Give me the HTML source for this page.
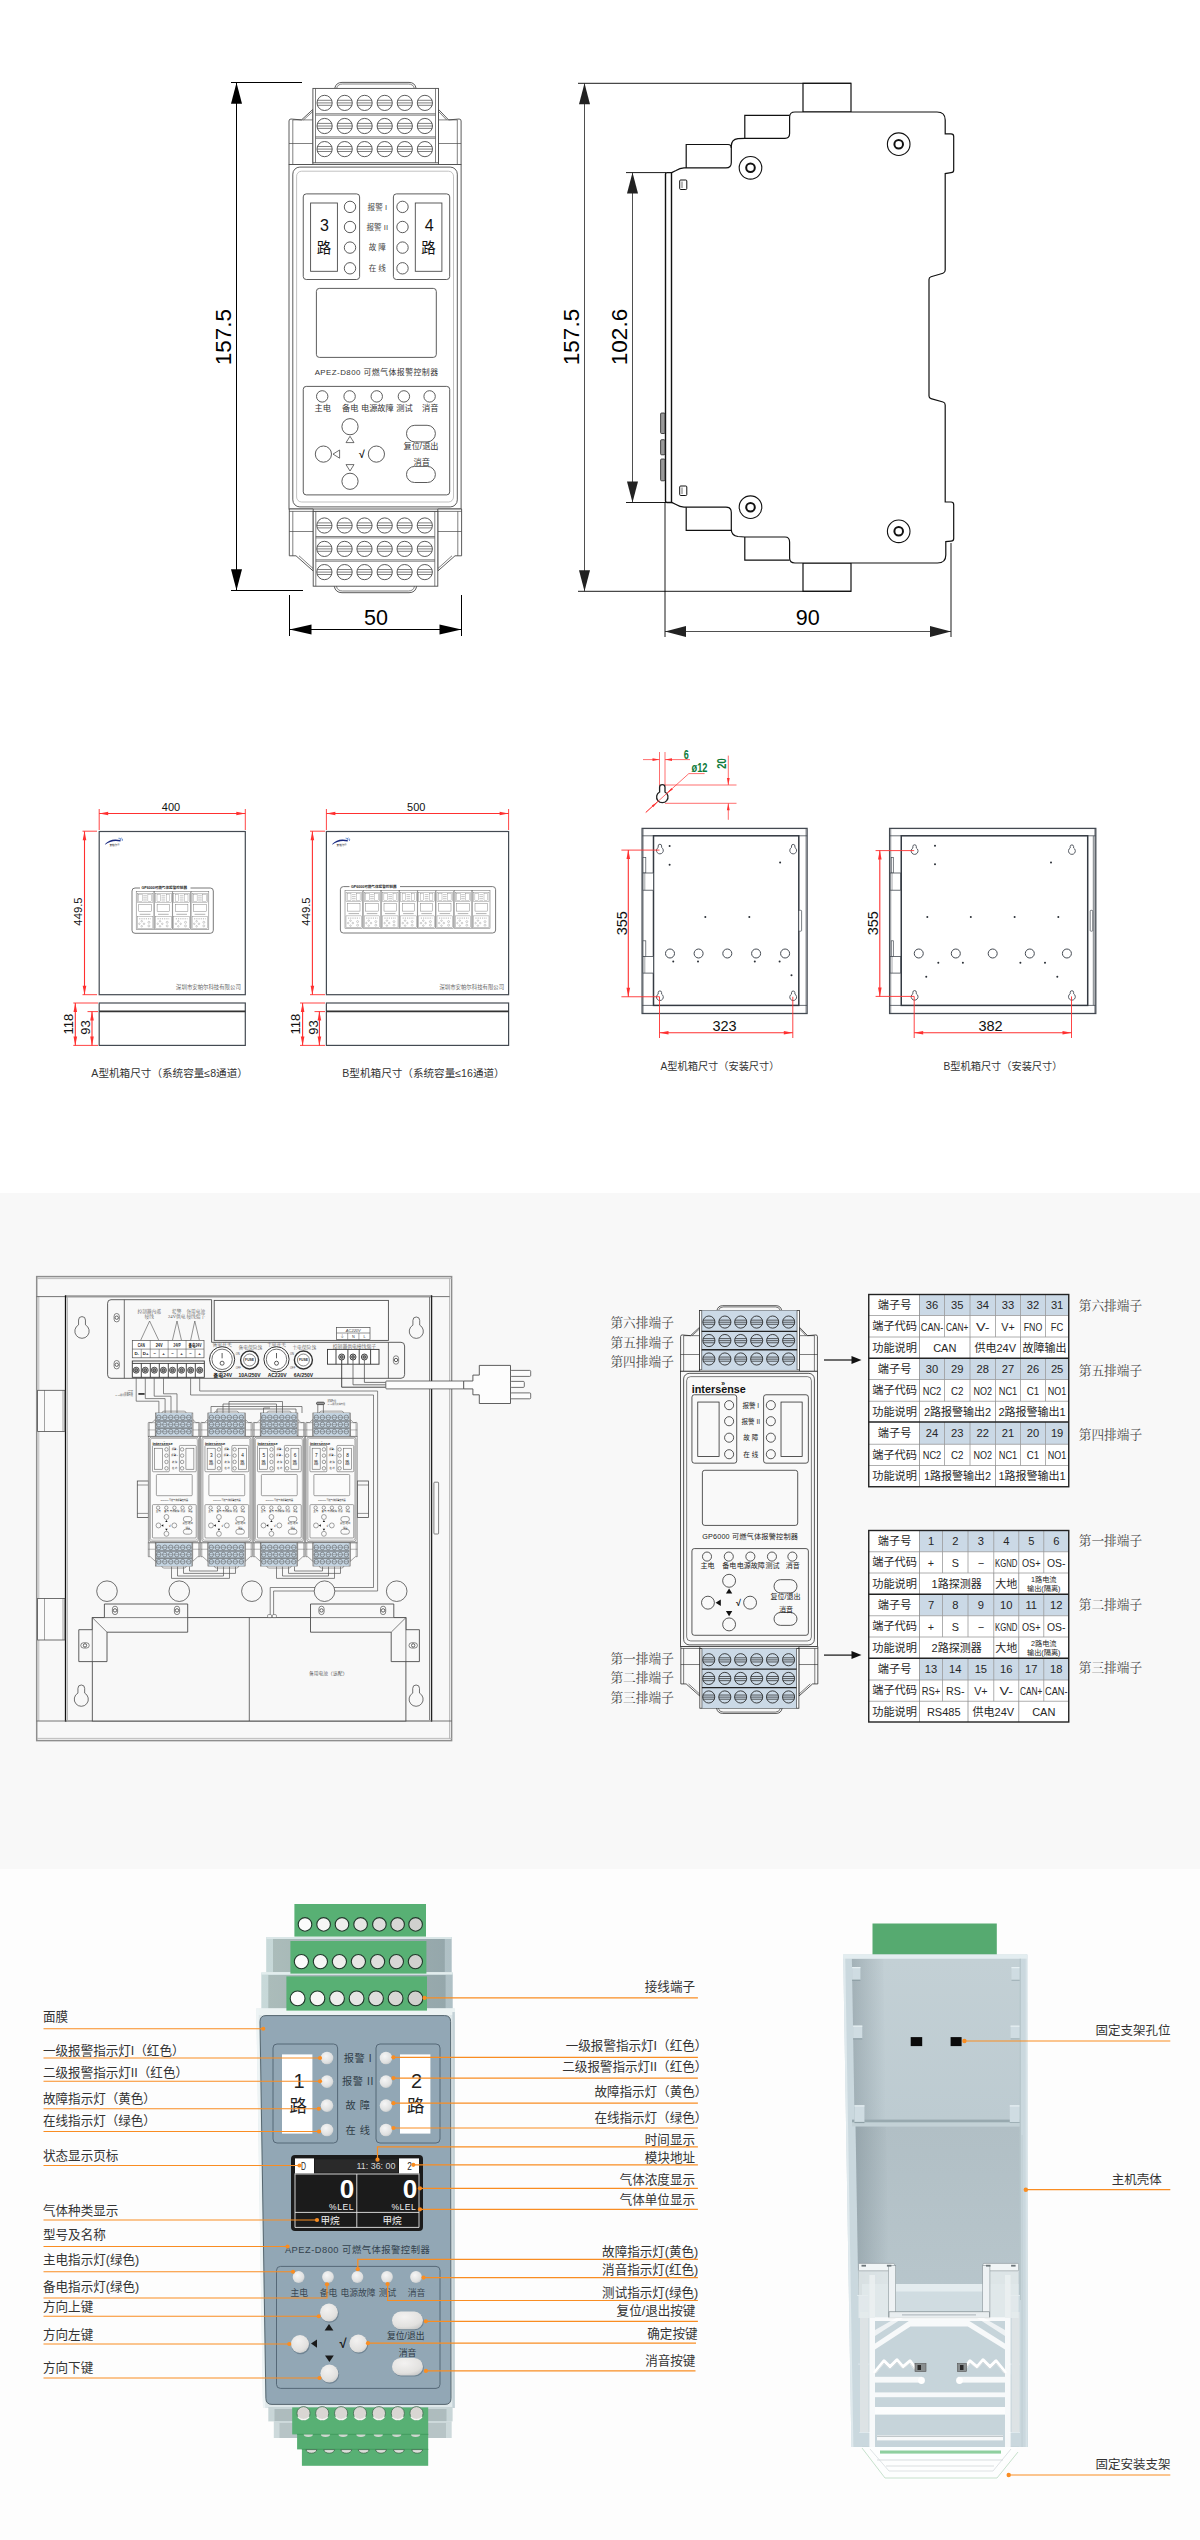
<!DOCTYPE html>
<html lang="zh-CN"><head><meta charset="utf-8"><title>APEZ-D800 可燃气体报警控制器</title>
<style>
html,body{margin:0;padding:0;background:#fff;}
body{width:1200px;height:2540px;position:relative;overflow:hidden;font-family:"Liberation Sans","Noto Sans CJK SC",sans-serif;}
.band{position:absolute;left:0;top:1193px;width:1200px;height:676px;background:#f8f8f8;}
.bot{position:absolute;left:0;top:1869px;width:1200px;height:671px;background:#fdfdfd;}
svg{position:absolute;left:0;top:0;font-family:"Liberation Sans","Noto Sans CJK SC",sans-serif;}
</style></head><body>
<div class="band"></div><div class="bot"></div>
<svg width="1200" height="2540" viewBox="0 0 1200 2540">
<!-- s1 -->
<g><line x1="231" y1="82.5" x2="302" y2="82.5" stroke="#000" stroke-width="1" /><line x1="231" y1="590.5" x2="303" y2="590.5" stroke="#000" stroke-width="1" /><line x1="236.5" y1="82.7" x2="236.5" y2="590.3" stroke="#000" stroke-width="1" /><polygon points="236.5,82.7 231,103.7 242,103.7" fill="#000" /><polygon points="236.5,590.3 231,569.3 242,569.3" fill="#000" /><text x="231.2" y="337" font-size="22.5" fill="#000" text-anchor="middle" transform="rotate(-90 231.2 337)" >157.5</text><line x1="289.5" y1="595" x2="289.5" y2="636" stroke="#000" stroke-width="1" /><line x1="461.5" y1="595" x2="461.5" y2="636" stroke="#000" stroke-width="1" /><line x1="289.5" y1="629.5" x2="461.5" y2="629.5" stroke="#000" stroke-width="1" /><polygon points="289.5,629.5 311.5,624.5 311.5,634.5" fill="#000" /><polygon points="461.5,629.5 439.5,624.5 439.5,634.5" fill="#000" /><text x="376" y="625" font-size="21.5" fill="#000" text-anchor="middle" >50</text><path d="M334.7 88.4 Q336 82.4 342 82.4 L409 82.4 Q415 82.4 416.1 88.4" fill="none" stroke="#4a4a4a" stroke-width="0.9" /><path d="M336.6 88.4 Q337.6 84 342.5 84 L408.5 84 Q413.3 84 414.3 88.4" fill="none" stroke="#4a4a4a" stroke-width="0.7" /><path d="M289 164.5 L289 121 Q289 119 291 119 L301.5 119.9 L312.9 109.4 L312.9 164.5 Z" fill="#fff" stroke="#4a4a4a" stroke-width="0.9" /><path d="M461.1 164.5 L461.1 121 Q461.1 119 459.1 119 L448.6 119.9 L438.5 109.4 L438.5 164.5 Z" fill="#fff" stroke="#4a4a4a" stroke-width="0.9" /><line x1="292.8" y1="119.9" x2="292.8" y2="164.5" stroke="#4a4a4a" stroke-width="0.7" /><line x1="457.3" y1="119.9" x2="457.3" y2="164.5" stroke="#4a4a4a" stroke-width="0.7" /><line x1="292.8" y1="119.9" x2="312.9" y2="119.9" stroke="#4a4a4a" stroke-width="0.7" /><line x1="438.5" y1="119.9" x2="457.3" y2="119.9" stroke="#4a4a4a" stroke-width="0.7" /><line x1="303.5" y1="119.9" x2="312.9" y2="111.4" stroke="#4a4a4a" stroke-width="0.7" /><line x1="446.6" y1="119.9" x2="438.5" y2="111.4" stroke="#4a4a4a" stroke-width="0.7" /><line x1="289" y1="143.5" x2="312.9" y2="143.5" stroke="#4a4a4a" stroke-width="0.7" /><line x1="438.5" y1="143.5" x2="461.1" y2="143.5" stroke="#4a4a4a" stroke-width="0.7" /><rect x="312.9" y="88.4" width="125.6" height="74.4" fill="#fff" stroke="#4a4a4a" stroke-width="0.9" /><line x1="315.5" y1="88.4" x2="315.5" y2="162.8" stroke="#4a4a4a" stroke-width="0.7" /><line x1="435.5" y1="88.4" x2="435.5" y2="162.8" stroke="#4a4a4a" stroke-width="0.7" /><circle cx="324.6" cy="102.9" r="7.6" fill="none" stroke="#4a4a4a" stroke-width="0.9" /><line x1="317.46" y1="100.3" x2="331.74" y2="100.3" stroke="#4a4a4a" stroke-width="0.7" /><line x1="317" y1="102.9" x2="332.2" y2="102.9" stroke="#4a4a4a" stroke-width="0.7" /><line x1="317.39" y1="105.3" x2="331.81" y2="105.3" stroke="#4a4a4a" stroke-width="0.7" /><circle cx="344.7" cy="102.9" r="7.6" fill="none" stroke="#4a4a4a" stroke-width="0.9" /><line x1="337.56" y1="100.3" x2="351.84" y2="100.3" stroke="#4a4a4a" stroke-width="0.7" /><line x1="337.1" y1="102.9" x2="352.3" y2="102.9" stroke="#4a4a4a" stroke-width="0.7" /><line x1="337.49" y1="105.3" x2="351.91" y2="105.3" stroke="#4a4a4a" stroke-width="0.7" /><circle cx="364.6" cy="102.9" r="7.6" fill="none" stroke="#4a4a4a" stroke-width="0.9" /><line x1="357.46" y1="100.3" x2="371.74" y2="100.3" stroke="#4a4a4a" stroke-width="0.7" /><line x1="357" y1="102.9" x2="372.2" y2="102.9" stroke="#4a4a4a" stroke-width="0.7" /><line x1="357.39" y1="105.3" x2="371.81" y2="105.3" stroke="#4a4a4a" stroke-width="0.7" /><circle cx="384.7" cy="102.9" r="7.6" fill="none" stroke="#4a4a4a" stroke-width="0.9" /><line x1="377.56" y1="100.3" x2="391.84" y2="100.3" stroke="#4a4a4a" stroke-width="0.7" /><line x1="377.1" y1="102.9" x2="392.3" y2="102.9" stroke="#4a4a4a" stroke-width="0.7" /><line x1="377.49" y1="105.3" x2="391.91" y2="105.3" stroke="#4a4a4a" stroke-width="0.7" /><circle cx="404.8" cy="102.9" r="7.6" fill="none" stroke="#4a4a4a" stroke-width="0.9" /><line x1="397.66" y1="100.3" x2="411.94" y2="100.3" stroke="#4a4a4a" stroke-width="0.7" /><line x1="397.2" y1="102.9" x2="412.4" y2="102.9" stroke="#4a4a4a" stroke-width="0.7" /><line x1="397.59" y1="105.3" x2="412.01" y2="105.3" stroke="#4a4a4a" stroke-width="0.7" /><circle cx="424.9" cy="102.9" r="7.6" fill="none" stroke="#4a4a4a" stroke-width="0.9" /><line x1="417.76" y1="100.3" x2="432.04" y2="100.3" stroke="#4a4a4a" stroke-width="0.7" /><line x1="417.3" y1="102.9" x2="432.5" y2="102.9" stroke="#4a4a4a" stroke-width="0.7" /><line x1="417.69" y1="105.3" x2="432.11" y2="105.3" stroke="#4a4a4a" stroke-width="0.7" /><line x1="315.5" y1="113.75" x2="435.5" y2="113.75" stroke="#4a4a4a" stroke-width="0.7" /><line x1="315.5" y1="115.15" x2="435.5" y2="115.15" stroke="#4a4a4a" stroke-width="0.7" /><circle cx="324.6" cy="126" r="7.6" fill="none" stroke="#4a4a4a" stroke-width="0.9" /><line x1="317.46" y1="123.4" x2="331.74" y2="123.4" stroke="#4a4a4a" stroke-width="0.7" /><line x1="317" y1="126" x2="332.2" y2="126" stroke="#4a4a4a" stroke-width="0.7" /><line x1="317.39" y1="128.4" x2="331.81" y2="128.4" stroke="#4a4a4a" stroke-width="0.7" /><circle cx="344.7" cy="126" r="7.6" fill="none" stroke="#4a4a4a" stroke-width="0.9" /><line x1="337.56" y1="123.4" x2="351.84" y2="123.4" stroke="#4a4a4a" stroke-width="0.7" /><line x1="337.1" y1="126" x2="352.3" y2="126" stroke="#4a4a4a" stroke-width="0.7" /><line x1="337.49" y1="128.4" x2="351.91" y2="128.4" stroke="#4a4a4a" stroke-width="0.7" /><circle cx="364.6" cy="126" r="7.6" fill="none" stroke="#4a4a4a" stroke-width="0.9" /><line x1="357.46" y1="123.4" x2="371.74" y2="123.4" stroke="#4a4a4a" stroke-width="0.7" /><line x1="357" y1="126" x2="372.2" y2="126" stroke="#4a4a4a" stroke-width="0.7" /><line x1="357.39" y1="128.4" x2="371.81" y2="128.4" stroke="#4a4a4a" stroke-width="0.7" /><circle cx="384.7" cy="126" r="7.6" fill="none" stroke="#4a4a4a" stroke-width="0.9" /><line x1="377.56" y1="123.4" x2="391.84" y2="123.4" stroke="#4a4a4a" stroke-width="0.7" /><line x1="377.1" y1="126" x2="392.3" y2="126" stroke="#4a4a4a" stroke-width="0.7" /><line x1="377.49" y1="128.4" x2="391.91" y2="128.4" stroke="#4a4a4a" stroke-width="0.7" /><circle cx="404.8" cy="126" r="7.6" fill="none" stroke="#4a4a4a" stroke-width="0.9" /><line x1="397.66" y1="123.4" x2="411.94" y2="123.4" stroke="#4a4a4a" stroke-width="0.7" /><line x1="397.2" y1="126" x2="412.4" y2="126" stroke="#4a4a4a" stroke-width="0.7" /><line x1="397.59" y1="128.4" x2="412.01" y2="128.4" stroke="#4a4a4a" stroke-width="0.7" /><circle cx="424.9" cy="126" r="7.6" fill="none" stroke="#4a4a4a" stroke-width="0.9" /><line x1="417.76" y1="123.4" x2="432.04" y2="123.4" stroke="#4a4a4a" stroke-width="0.7" /><line x1="417.3" y1="126" x2="432.5" y2="126" stroke="#4a4a4a" stroke-width="0.7" /><line x1="417.69" y1="128.4" x2="432.11" y2="128.4" stroke="#4a4a4a" stroke-width="0.7" /><line x1="315.5" y1="136.85" x2="435.5" y2="136.85" stroke="#4a4a4a" stroke-width="0.7" /><line x1="315.5" y1="138.25" x2="435.5" y2="138.25" stroke="#4a4a4a" stroke-width="0.7" /><circle cx="324.6" cy="149.1" r="7.6" fill="none" stroke="#4a4a4a" stroke-width="0.9" /><line x1="317.46" y1="146.5" x2="331.74" y2="146.5" stroke="#4a4a4a" stroke-width="0.7" /><line x1="317" y1="149.1" x2="332.2" y2="149.1" stroke="#4a4a4a" stroke-width="0.7" /><line x1="317.39" y1="151.5" x2="331.81" y2="151.5" stroke="#4a4a4a" stroke-width="0.7" /><circle cx="344.7" cy="149.1" r="7.6" fill="none" stroke="#4a4a4a" stroke-width="0.9" /><line x1="337.56" y1="146.5" x2="351.84" y2="146.5" stroke="#4a4a4a" stroke-width="0.7" /><line x1="337.1" y1="149.1" x2="352.3" y2="149.1" stroke="#4a4a4a" stroke-width="0.7" /><line x1="337.49" y1="151.5" x2="351.91" y2="151.5" stroke="#4a4a4a" stroke-width="0.7" /><circle cx="364.6" cy="149.1" r="7.6" fill="none" stroke="#4a4a4a" stroke-width="0.9" /><line x1="357.46" y1="146.5" x2="371.74" y2="146.5" stroke="#4a4a4a" stroke-width="0.7" /><line x1="357" y1="149.1" x2="372.2" y2="149.1" stroke="#4a4a4a" stroke-width="0.7" /><line x1="357.39" y1="151.5" x2="371.81" y2="151.5" stroke="#4a4a4a" stroke-width="0.7" /><circle cx="384.7" cy="149.1" r="7.6" fill="none" stroke="#4a4a4a" stroke-width="0.9" /><line x1="377.56" y1="146.5" x2="391.84" y2="146.5" stroke="#4a4a4a" stroke-width="0.7" /><line x1="377.1" y1="149.1" x2="392.3" y2="149.1" stroke="#4a4a4a" stroke-width="0.7" /><line x1="377.49" y1="151.5" x2="391.91" y2="151.5" stroke="#4a4a4a" stroke-width="0.7" /><circle cx="404.8" cy="149.1" r="7.6" fill="none" stroke="#4a4a4a" stroke-width="0.9" /><line x1="397.66" y1="146.5" x2="411.94" y2="146.5" stroke="#4a4a4a" stroke-width="0.7" /><line x1="397.2" y1="149.1" x2="412.4" y2="149.1" stroke="#4a4a4a" stroke-width="0.7" /><line x1="397.59" y1="151.5" x2="412.01" y2="151.5" stroke="#4a4a4a" stroke-width="0.7" /><circle cx="424.9" cy="149.1" r="7.6" fill="none" stroke="#4a4a4a" stroke-width="0.9" /><line x1="417.76" y1="146.5" x2="432.04" y2="146.5" stroke="#4a4a4a" stroke-width="0.7" /><line x1="417.3" y1="149.1" x2="432.5" y2="149.1" stroke="#4a4a4a" stroke-width="0.7" /><line x1="417.69" y1="151.5" x2="432.11" y2="151.5" stroke="#4a4a4a" stroke-width="0.7" /><rect x="289" y="164.5" width="172.1" height="344.5" fill="#fff" stroke="#4a4a4a" stroke-width="0.9" /><rect x="292.8" y="167.1" width="164.5" height="339.8" rx="7" fill="#fff" stroke="#4a4a4a" stroke-width="0.9" /><rect x="296.6" y="171.2" width="156.9" height="330.8" rx="5" fill="none" stroke="#a8a8a8" stroke-width="0.7" /><rect x="303.25" y="193.9" width="56.35" height="85.6" rx="3" fill="none" stroke="#4a4a4a" stroke-width="0.9" /><rect x="310.6" y="203" width="26.8" height="68.3" fill="none" stroke="#4a4a4a" stroke-width="0.9" /><circle cx="350" cy="206.9" r="5.7" fill="none" stroke="#4a4a4a" stroke-width="0.9" /><circle cx="350" cy="227" r="5.7" fill="none" stroke="#4a4a4a" stroke-width="0.9" /><circle cx="350" cy="247.6" r="5.7" fill="none" stroke="#4a4a4a" stroke-width="0.9" /><circle cx="350" cy="268.3" r="5.7" fill="none" stroke="#4a4a4a" stroke-width="0.9" /><text x="324.5" y="231" font-size="16" fill="#111" text-anchor="middle" >3</text><text x="324" y="253" font-size="14.5" fill="#111" text-anchor="middle" >路</text><rect x="393.4" y="193.9" width="56.3" height="85.6" rx="3" fill="none" stroke="#4a4a4a" stroke-width="0.9" /><rect x="415.3" y="203" width="26.6" height="68.3" fill="none" stroke="#4a4a4a" stroke-width="0.9" /><circle cx="402.5" cy="206.9" r="5.7" fill="none" stroke="#4a4a4a" stroke-width="0.9" /><circle cx="402.5" cy="227" r="5.7" fill="none" stroke="#4a4a4a" stroke-width="0.9" /><circle cx="402.5" cy="247.6" r="5.7" fill="none" stroke="#4a4a4a" stroke-width="0.9" /><circle cx="402.5" cy="268.3" r="5.7" fill="none" stroke="#4a4a4a" stroke-width="0.9" /><text x="429.1" y="231" font-size="16" fill="#111" text-anchor="middle" >4</text><text x="428.6" y="253" font-size="14.5" fill="#111" text-anchor="middle" >路</text><text x="377.3" y="209.7" font-size="7.6" fill="#444" text-anchor="middle" >报警 I</text><text x="377.3" y="229.8" font-size="7.6" fill="#444" text-anchor="middle" >报警 II</text><text x="377.3" y="250.4" font-size="7.6" fill="#444" text-anchor="middle" >故 障</text><text x="377.3" y="271.1" font-size="7.6" fill="#444" text-anchor="middle" >在 线</text><rect x="316.4" y="288.4" width="119.9" height="69" rx="3" fill="none" stroke="#4a4a4a" stroke-width="0.9" /><text x="376.6" y="374.8" font-size="7.9" fill="#333" text-anchor="middle" letter-spacing="0.45" >APEZ-D800  可燃气体报警控制器</text><rect x="303.25" y="386.4" width="146.45" height="108.5" rx="3" fill="none" stroke="#4a4a4a" stroke-width="0.9" /><circle cx="322.2" cy="396.4" r="5.7" fill="none" stroke="#4a4a4a" stroke-width="0.9" /><text x="322.8" y="411.3" font-size="8.2" fill="#333" text-anchor="middle" >主电</text><circle cx="349.6" cy="396.4" r="5.7" fill="none" stroke="#4a4a4a" stroke-width="0.9" /><text x="350.2" y="411.3" font-size="8.2" fill="#333" text-anchor="middle" >备电</text><circle cx="376.75" cy="396.4" r="5.7" fill="none" stroke="#4a4a4a" stroke-width="0.9" /><text x="377.35" y="411.3" font-size="8.2" fill="#333" text-anchor="middle" >电源故障</text><circle cx="403.9" cy="396.4" r="5.7" fill="none" stroke="#4a4a4a" stroke-width="0.9" /><text x="404.5" y="411.3" font-size="8.2" fill="#333" text-anchor="middle" >测试</text><circle cx="429.6" cy="396.4" r="5.7" fill="none" stroke="#4a4a4a" stroke-width="0.9" /><text x="430.2" y="411.3" font-size="8.2" fill="#333" text-anchor="middle" >消音</text><circle cx="350" cy="426.7" r="8.1" fill="none" stroke="#4a4a4a" stroke-width="0.9" /><circle cx="323.4" cy="454.1" r="8.1" fill="none" stroke="#4a4a4a" stroke-width="0.9" /><circle cx="376.4" cy="454.1" r="8.1" fill="none" stroke="#4a4a4a" stroke-width="0.9" /><circle cx="350" cy="481.3" r="8.1" fill="none" stroke="#4a4a4a" stroke-width="0.9" /><polygon points="350,436.3 346,442.6 354,442.6" fill="none" stroke="#4a4a4a" stroke-width="0.8" /><polygon points="350,471 346,464.6 354,464.6" fill="none" stroke="#4a4a4a" stroke-width="0.8" /><polygon points="333,454.1 339.6,450 339.6,458.2" fill="none" stroke="#4a4a4a" stroke-width="0.8" /><text x="361.8" y="458.2" font-size="10.5" fill="#111" text-anchor="middle" font-weight="bold" >√</text><rect x="406.5" y="425.3" width="28.9" height="16.6" rx="8.3" fill="none" stroke="#4a4a4a" stroke-width="0.9" /><rect x="406.5" y="466.4" width="28.9" height="16.1" rx="8.1" fill="none" stroke="#4a4a4a" stroke-width="0.9" /><text x="421" y="449.4" font-size="8.2" fill="#333" text-anchor="middle" >复位/退出</text><text x="421.7" y="465.2" font-size="8.2" fill="#333" text-anchor="middle" >消音</text><path d="M289.3 509 L289.3 555.8 L296 555.8 L313.2 571 L313.2 509 Z" fill="#fff" stroke="#4a4a4a" stroke-width="0.9" /><path d="M461.6 509 L461.6 555.8 L455 555.8 L437.8 571 L437.8 509 Z" fill="#fff" stroke="#4a4a4a" stroke-width="0.9" /><line x1="292.8" y1="511.4" x2="292.8" y2="555.8" stroke="#4a4a4a" stroke-width="0.7" /><line x1="457.8" y1="511.4" x2="457.8" y2="555.8" stroke="#4a4a4a" stroke-width="0.7" /><line x1="289.3" y1="511.4" x2="461.6" y2="511.4" stroke="#4a4a4a" stroke-width="0.7" /><line x1="289.3" y1="531.5" x2="313.2" y2="531.5" stroke="#4a4a4a" stroke-width="0.7" /><line x1="437.8" y1="531.5" x2="461.6" y2="531.5" stroke="#4a4a4a" stroke-width="0.7" /><line x1="299" y1="555.8" x2="313.2" y2="568.6" stroke="#4a4a4a" stroke-width="0.7" /><line x1="452" y1="555.8" x2="437.8" y2="568.6" stroke="#4a4a4a" stroke-width="0.7" /><rect x="313.2" y="511.4" width="124.6" height="74.8" fill="#fff" stroke="#4a4a4a" stroke-width="0.9" /><line x1="315.8" y1="511.4" x2="315.8" y2="586.2" stroke="#4a4a4a" stroke-width="0.7" /><line x1="434.8" y1="511.4" x2="434.8" y2="586.2" stroke="#4a4a4a" stroke-width="0.7" /><circle cx="324.4" cy="525.5" r="7.6" fill="none" stroke="#4a4a4a" stroke-width="0.9" /><line x1="317.26" y1="522.9" x2="331.54" y2="522.9" stroke="#4a4a4a" stroke-width="0.7" /><line x1="316.8" y1="525.5" x2="332" y2="525.5" stroke="#4a4a4a" stroke-width="0.7" /><line x1="317.19" y1="527.9" x2="331.61" y2="527.9" stroke="#4a4a4a" stroke-width="0.7" /><circle cx="344.6" cy="525.5" r="7.6" fill="none" stroke="#4a4a4a" stroke-width="0.9" /><line x1="337.46" y1="522.9" x2="351.74" y2="522.9" stroke="#4a4a4a" stroke-width="0.7" /><line x1="337" y1="525.5" x2="352.2" y2="525.5" stroke="#4a4a4a" stroke-width="0.7" /><line x1="337.39" y1="527.9" x2="351.81" y2="527.9" stroke="#4a4a4a" stroke-width="0.7" /><circle cx="364.5" cy="525.5" r="7.6" fill="none" stroke="#4a4a4a" stroke-width="0.9" /><line x1="357.36" y1="522.9" x2="371.64" y2="522.9" stroke="#4a4a4a" stroke-width="0.7" /><line x1="356.9" y1="525.5" x2="372.1" y2="525.5" stroke="#4a4a4a" stroke-width="0.7" /><line x1="357.29" y1="527.9" x2="371.71" y2="527.9" stroke="#4a4a4a" stroke-width="0.7" /><circle cx="384.7" cy="525.5" r="7.6" fill="none" stroke="#4a4a4a" stroke-width="0.9" /><line x1="377.56" y1="522.9" x2="391.84" y2="522.9" stroke="#4a4a4a" stroke-width="0.7" /><line x1="377.1" y1="525.5" x2="392.3" y2="525.5" stroke="#4a4a4a" stroke-width="0.7" /><line x1="377.49" y1="527.9" x2="391.91" y2="527.9" stroke="#4a4a4a" stroke-width="0.7" /><circle cx="404.6" cy="525.5" r="7.6" fill="none" stroke="#4a4a4a" stroke-width="0.9" /><line x1="397.46" y1="522.9" x2="411.74" y2="522.9" stroke="#4a4a4a" stroke-width="0.7" /><line x1="397" y1="525.5" x2="412.2" y2="525.5" stroke="#4a4a4a" stroke-width="0.7" /><line x1="397.39" y1="527.9" x2="411.81" y2="527.9" stroke="#4a4a4a" stroke-width="0.7" /><circle cx="424.8" cy="525.5" r="7.6" fill="none" stroke="#4a4a4a" stroke-width="0.9" /><line x1="417.66" y1="522.9" x2="431.94" y2="522.9" stroke="#4a4a4a" stroke-width="0.7" /><line x1="417.2" y1="525.5" x2="432.4" y2="525.5" stroke="#4a4a4a" stroke-width="0.7" /><line x1="417.59" y1="527.9" x2="432.01" y2="527.9" stroke="#4a4a4a" stroke-width="0.7" /><line x1="315.8" y1="536.5" x2="434.8" y2="536.5" stroke="#4a4a4a" stroke-width="0.7" /><line x1="315.8" y1="537.9" x2="434.8" y2="537.9" stroke="#4a4a4a" stroke-width="0.7" /><circle cx="324.4" cy="548.9" r="7.6" fill="none" stroke="#4a4a4a" stroke-width="0.9" /><line x1="317.26" y1="546.3" x2="331.54" y2="546.3" stroke="#4a4a4a" stroke-width="0.7" /><line x1="316.8" y1="548.9" x2="332" y2="548.9" stroke="#4a4a4a" stroke-width="0.7" /><line x1="317.19" y1="551.3" x2="331.61" y2="551.3" stroke="#4a4a4a" stroke-width="0.7" /><circle cx="344.6" cy="548.9" r="7.6" fill="none" stroke="#4a4a4a" stroke-width="0.9" /><line x1="337.46" y1="546.3" x2="351.74" y2="546.3" stroke="#4a4a4a" stroke-width="0.7" /><line x1="337" y1="548.9" x2="352.2" y2="548.9" stroke="#4a4a4a" stroke-width="0.7" /><line x1="337.39" y1="551.3" x2="351.81" y2="551.3" stroke="#4a4a4a" stroke-width="0.7" /><circle cx="364.5" cy="548.9" r="7.6" fill="none" stroke="#4a4a4a" stroke-width="0.9" /><line x1="357.36" y1="546.3" x2="371.64" y2="546.3" stroke="#4a4a4a" stroke-width="0.7" /><line x1="356.9" y1="548.9" x2="372.1" y2="548.9" stroke="#4a4a4a" stroke-width="0.7" /><line x1="357.29" y1="551.3" x2="371.71" y2="551.3" stroke="#4a4a4a" stroke-width="0.7" /><circle cx="384.7" cy="548.9" r="7.6" fill="none" stroke="#4a4a4a" stroke-width="0.9" /><line x1="377.56" y1="546.3" x2="391.84" y2="546.3" stroke="#4a4a4a" stroke-width="0.7" /><line x1="377.1" y1="548.9" x2="392.3" y2="548.9" stroke="#4a4a4a" stroke-width="0.7" /><line x1="377.49" y1="551.3" x2="391.91" y2="551.3" stroke="#4a4a4a" stroke-width="0.7" /><circle cx="404.6" cy="548.9" r="7.6" fill="none" stroke="#4a4a4a" stroke-width="0.9" /><line x1="397.46" y1="546.3" x2="411.74" y2="546.3" stroke="#4a4a4a" stroke-width="0.7" /><line x1="397" y1="548.9" x2="412.2" y2="548.9" stroke="#4a4a4a" stroke-width="0.7" /><line x1="397.39" y1="551.3" x2="411.81" y2="551.3" stroke="#4a4a4a" stroke-width="0.7" /><circle cx="424.8" cy="548.9" r="7.6" fill="none" stroke="#4a4a4a" stroke-width="0.9" /><line x1="417.66" y1="546.3" x2="431.94" y2="546.3" stroke="#4a4a4a" stroke-width="0.7" /><line x1="417.2" y1="548.9" x2="432.4" y2="548.9" stroke="#4a4a4a" stroke-width="0.7" /><line x1="417.59" y1="551.3" x2="432.01" y2="551.3" stroke="#4a4a4a" stroke-width="0.7" /><line x1="315.8" y1="559.8" x2="434.8" y2="559.8" stroke="#4a4a4a" stroke-width="0.7" /><line x1="315.8" y1="561.2" x2="434.8" y2="561.2" stroke="#4a4a4a" stroke-width="0.7" /><circle cx="324.4" cy="572.1" r="7.6" fill="none" stroke="#4a4a4a" stroke-width="0.9" /><line x1="317.26" y1="569.5" x2="331.54" y2="569.5" stroke="#4a4a4a" stroke-width="0.7" /><line x1="316.8" y1="572.1" x2="332" y2="572.1" stroke="#4a4a4a" stroke-width="0.7" /><line x1="317.19" y1="574.5" x2="331.61" y2="574.5" stroke="#4a4a4a" stroke-width="0.7" /><circle cx="344.6" cy="572.1" r="7.6" fill="none" stroke="#4a4a4a" stroke-width="0.9" /><line x1="337.46" y1="569.5" x2="351.74" y2="569.5" stroke="#4a4a4a" stroke-width="0.7" /><line x1="337" y1="572.1" x2="352.2" y2="572.1" stroke="#4a4a4a" stroke-width="0.7" /><line x1="337.39" y1="574.5" x2="351.81" y2="574.5" stroke="#4a4a4a" stroke-width="0.7" /><circle cx="364.5" cy="572.1" r="7.6" fill="none" stroke="#4a4a4a" stroke-width="0.9" /><line x1="357.36" y1="569.5" x2="371.64" y2="569.5" stroke="#4a4a4a" stroke-width="0.7" /><line x1="356.9" y1="572.1" x2="372.1" y2="572.1" stroke="#4a4a4a" stroke-width="0.7" /><line x1="357.29" y1="574.5" x2="371.71" y2="574.5" stroke="#4a4a4a" stroke-width="0.7" /><circle cx="384.7" cy="572.1" r="7.6" fill="none" stroke="#4a4a4a" stroke-width="0.9" /><line x1="377.56" y1="569.5" x2="391.84" y2="569.5" stroke="#4a4a4a" stroke-width="0.7" /><line x1="377.1" y1="572.1" x2="392.3" y2="572.1" stroke="#4a4a4a" stroke-width="0.7" /><line x1="377.49" y1="574.5" x2="391.91" y2="574.5" stroke="#4a4a4a" stroke-width="0.7" /><circle cx="404.6" cy="572.1" r="7.6" fill="none" stroke="#4a4a4a" stroke-width="0.9" /><line x1="397.46" y1="569.5" x2="411.74" y2="569.5" stroke="#4a4a4a" stroke-width="0.7" /><line x1="397" y1="572.1" x2="412.2" y2="572.1" stroke="#4a4a4a" stroke-width="0.7" /><line x1="397.39" y1="574.5" x2="411.81" y2="574.5" stroke="#4a4a4a" stroke-width="0.7" /><circle cx="424.8" cy="572.1" r="7.6" fill="none" stroke="#4a4a4a" stroke-width="0.9" /><line x1="417.66" y1="569.5" x2="431.94" y2="569.5" stroke="#4a4a4a" stroke-width="0.7" /><line x1="417.2" y1="572.1" x2="432.4" y2="572.1" stroke="#4a4a4a" stroke-width="0.7" /><line x1="417.59" y1="574.5" x2="432.01" y2="574.5" stroke="#4a4a4a" stroke-width="0.7" /><path d="M334.2 586.2 Q335.5 592.7 342 592.7 L409 592.7 Q415.5 592.7 416.7 586.2" fill="none" stroke="#4a4a4a" stroke-width="0.9" /><path d="M336.4 586.2 Q337.4 591 342.5 591 L408.5 591 Q413.5 591 414.5 586.2" fill="none" stroke="#4a4a4a" stroke-width="0.7" /><line x1="578" y1="83.3" x2="851" y2="83.3" stroke="#000" stroke-width="0.9" /><line x1="578" y1="591.3" x2="851" y2="591.3" stroke="#000" stroke-width="0.9" /><line x1="584.5" y1="83.3" x2="584.5" y2="591.3" stroke="#222" stroke-width="0.8" /><polygon points="584.5,83.3 579,104.3 590,104.3" fill="#222" /><polygon points="584.5,591.3 579,570.3 590,570.3" fill="#222" /><text x="578.6" y="337" font-size="22.5" fill="#000" text-anchor="middle" transform="rotate(-90 578.6 337)" >157.5</text><line x1="626" y1="172.6" x2="666" y2="172.6" stroke="#000" stroke-width="0.9" /><line x1="626" y1="502.5" x2="666" y2="502.5" stroke="#000" stroke-width="0.9" /><line x1="632.5" y1="172.6" x2="632.5" y2="502.5" stroke="#222" stroke-width="0.8" /><polygon points="632.5,172.6 627,193.6 638,193.6" fill="#222" /><polygon points="632.5,502.5 627,481.5 638,481.5" fill="#222" /><text x="626.8" y="337" font-size="22.5" fill="#000" text-anchor="middle" transform="rotate(-90 626.8 337)" >102.6</text><line x1="665" y1="502" x2="665" y2="637" stroke="#000" stroke-width="0.9" /><line x1="951" y1="543" x2="951" y2="637" stroke="#000" stroke-width="0.9" /><line x1="665" y1="631.5" x2="951" y2="631.5" stroke="#222" stroke-width="0.8" /><polygon points="665,631.5 686,626 686,637" fill="#222" /><polygon points="951,631.5 930,626 930,637" fill="#222" /><text x="807.7" y="625.2" font-size="21.5" fill="#000" text-anchor="middle" >90</text><rect x="803" y="83.3" width="48" height="28.7" fill="none" stroke="#111" stroke-width="1.2" /><rect x="803" y="563" width="48" height="28.3" fill="none" stroke="#111" stroke-width="1.2" /><path d="M671.7 172.6 L676 170.5 Q680 168 684 167.9 L726 167.9 Q731.3 167.9 731.3 162.5 L731.3 146 Q731.3 139.5 738 138.6 L744.8 138.3 L785 138.3 Q789.6 138.3 789.6 133.5 L789.6 117 Q789.6 112 795 112 L937 112 Q945.2 112 945.2 120 L945.2 133.8 L951 133.8 Q953.7 133.8 953.7 136.5 L953.7 170 Q953.7 172.6 951 172.6 L945.2 173.6 L945.2 270 Q945.2 272.5 943 273.2 L931 276.8 Q929 277.4 929 279.5 L929 396 Q929 398 931 398.6 L943 402 Q945.2 402.6 945.2 405 L945.2 502 L951 502 Q953.7 502 953.7 504.7 L953.7 538.5 Q953.7 541.2 951 541.2 L945.8 541.6 L945.8 555 Q945.8 563 937.5 563 L795 563 Q789.6 563 789.6 558 L789.6 542 Q789.6 537 785 537 L744.8 537 L738 536.5 Q731.3 535.5 731.3 529.5 L731.3 512.5 Q731.3 507.2 726 507.2 L684 507.2 Q680 507 676 504.5 L671.7 502.4" fill="#fff" stroke="#111" stroke-width="1.2" /><path d="M744.8 138.3 L744.8 115.3 L789.6 115.3" fill="none" stroke="#111" stroke-width="1.2" /><path d="M686.2 167.9 L686.2 144.5 L728 144.5 Q731.3 144.5 731.3 148" fill="none" stroke="#111" stroke-width="1.2" /><path d="M744.8 537 L744.8 560.2 L789.6 560.2" fill="none" stroke="#111" stroke-width="1.2" /><path d="M686.2 507.2 L686.2 530.4 L731.3 530.4" fill="none" stroke="#111" stroke-width="1.2" /><path d="M667 172.6 Q665.5 172.6 665.5 174 L665.5 501 Q665.5 502.5 667 502.5 L671.5 502.5 L671.5 172.6 Z" fill="#fff" stroke="#111" stroke-width="1.4" /><rect x="660.6" y="413" width="4.4" height="20.5" rx="1" fill="#9a9a9a" stroke="#222" stroke-width="0.8" /><rect x="660.6" y="439.7" width="4.4" height="15.1" rx="1" fill="#9a9a9a" stroke="#222" stroke-width="0.8" /><rect x="660.6" y="459" width="4.4" height="21.8" rx="1" fill="#9a9a9a" stroke="#222" stroke-width="0.8" /><circle cx="750.5" cy="167.8" r="11.3" fill="#fff" stroke="#111" stroke-width="1.1" /><circle cx="750.5" cy="167.8" r="4.3" fill="none" stroke="#111" stroke-width="2" /><circle cx="898.7" cy="144.2" r="11.3" fill="#fff" stroke="#111" stroke-width="1.1" /><circle cx="898.7" cy="144.2" r="4.3" fill="none" stroke="#111" stroke-width="2" /><circle cx="750.5" cy="507.2" r="11.3" fill="#fff" stroke="#111" stroke-width="1.1" /><circle cx="750.5" cy="507.2" r="4.3" fill="none" stroke="#111" stroke-width="2" /><circle cx="898.7" cy="531.3" r="11.3" fill="#fff" stroke="#111" stroke-width="1.1" /><circle cx="898.7" cy="531.3" r="4.3" fill="none" stroke="#111" stroke-width="2" /><rect x="679.7" y="180" width="7.1" height="9.5" rx="1" fill="#fff" stroke="#111" stroke-width="1" /><line x1="682" y1="181.5" x2="682" y2="188" stroke="#111" stroke-width="0.6" /><rect x="679.7" y="486" width="7.1" height="9.5" rx="1" fill="#fff" stroke="#111" stroke-width="1" /><line x1="682" y1="487.5" x2="682" y2="494" stroke="#111" stroke-width="0.6" /></g>
<!-- s2 -->
<g><defs><linearGradient id="cabg" x1="0" y1="0" x2="1" y2="1"><stop offset="0" stop-color="#f2f2f2"/><stop offset="0.5" stop-color="#fafafa"/><stop offset="1" stop-color="#f3f3f3"/></linearGradient></defs><defs></defs><rect x="99.2" y="831.5" width="146.1" height="163.2" fill="#fff" stroke="#444a52" stroke-width="1.2" /><path d="M104.8 844.2 Q110.8 837.4 120.8 840.2 L120.4 841.4 Q111.8 839.5 105.4 844.6 Z" fill="#1a2a80" /><path d="M118.4 838.2 L121 839.6 L119.8 837.8 M121.1 837.8 Q123.4 838.8 122.2 841" fill="none" stroke="#3c6fc4" stroke-width="0.7" /><text x="114.4" y="846.3" font-size="2.7" fill="#222" text-anchor="middle" >安帕尔®</text><rect x="132" y="888" width="81.3" height="45.3" rx="3" fill="#fff" stroke="#555" stroke-width="0.8" /><rect x="140" y="886" width="50.5" height="4" fill="#fff" /><text x="141.5" y="889.2" font-size="3.6" fill="#222" font-weight="bold" >GP6000可燃气体报警控制器</text><rect x="136.2" y="891.3" width="17.7" height="38.1" fill="#fff" stroke="#666" stroke-width="0.5" /><rect x="137.2" y="893.5" width="15.7" height="8.8" fill="none" stroke="#666" stroke-width="0.35" /><rect x="138.7" y="894.3" width="3.5" height="7.2" fill="none" stroke="#666" stroke-width="0.3" /><rect x="147.9" y="894.3" width="3.5" height="7.2" fill="none" stroke="#666" stroke-width="0.3" /><line x1="143.2" y1="895.3" x2="146.9" y2="895.3" stroke="#666" stroke-width="0.35" /><line x1="143.2" y1="897.2" x2="146.9" y2="897.2" stroke="#666" stroke-width="0.35" /><line x1="143.2" y1="899.1" x2="146.9" y2="899.1" stroke="#666" stroke-width="0.35" /><line x1="143.2" y1="901" x2="146.9" y2="901" stroke="#666" stroke-width="0.35" /><rect x="138.8" y="904.3" width="12.5" height="7.5" fill="none" stroke="#666" stroke-width="0.4" /><line x1="139.7" y1="914.3" x2="150.4" y2="914.3" stroke="#666" stroke-width="0.5" /><rect x="137.2" y="916.6" width="15.7" height="11.8" fill="none" stroke="#666" stroke-width="0.35" /><line x1="139.2" y1="918.8" x2="150.9" y2="918.8" stroke="#666" stroke-width="0.5" stroke-dasharray="1.2 1"/><circle cx="141.7" cy="921.3" r="0.8" fill="none" stroke="#666" stroke-width="0.3" /><circle cx="139.4" cy="923.8" r="0.8" fill="none" stroke="#666" stroke-width="0.3" /><circle cx="144" cy="923.8" r="0.8" fill="none" stroke="#666" stroke-width="0.3" /><circle cx="141.7" cy="926.3" r="0.8" fill="none" stroke="#666" stroke-width="0.3" /><circle cx="148.9" cy="922.3" r="1" fill="none" stroke="#666" stroke-width="0.3" /><circle cx="148.9" cy="925.9" r="1" fill="none" stroke="#666" stroke-width="0.3" /><rect x="154.5" y="891.3" width="17.7" height="38.1" fill="#fff" stroke="#666" stroke-width="0.5" /><rect x="155.5" y="893.5" width="15.7" height="8.8" fill="none" stroke="#666" stroke-width="0.35" /><rect x="157" y="894.3" width="3.5" height="7.2" fill="none" stroke="#666" stroke-width="0.3" /><rect x="166.2" y="894.3" width="3.5" height="7.2" fill="none" stroke="#666" stroke-width="0.3" /><line x1="161.5" y1="895.3" x2="165.2" y2="895.3" stroke="#666" stroke-width="0.35" /><line x1="161.5" y1="897.2" x2="165.2" y2="897.2" stroke="#666" stroke-width="0.35" /><line x1="161.5" y1="899.1" x2="165.2" y2="899.1" stroke="#666" stroke-width="0.35" /><line x1="161.5" y1="901" x2="165.2" y2="901" stroke="#666" stroke-width="0.35" /><rect x="157.1" y="904.3" width="12.5" height="7.5" fill="none" stroke="#666" stroke-width="0.4" /><line x1="158" y1="914.3" x2="168.7" y2="914.3" stroke="#666" stroke-width="0.5" /><rect x="155.5" y="916.6" width="15.7" height="11.8" fill="none" stroke="#666" stroke-width="0.35" /><line x1="157.5" y1="918.8" x2="169.2" y2="918.8" stroke="#666" stroke-width="0.5" stroke-dasharray="1.2 1"/><circle cx="160" cy="921.3" r="0.8" fill="none" stroke="#666" stroke-width="0.3" /><circle cx="157.7" cy="923.8" r="0.8" fill="none" stroke="#666" stroke-width="0.3" /><circle cx="162.3" cy="923.8" r="0.8" fill="none" stroke="#666" stroke-width="0.3" /><circle cx="160" cy="926.3" r="0.8" fill="none" stroke="#666" stroke-width="0.3" /><circle cx="167.2" cy="922.3" r="1" fill="none" stroke="#666" stroke-width="0.3" /><circle cx="167.2" cy="925.9" r="1" fill="none" stroke="#666" stroke-width="0.3" /><rect x="172.8" y="891.3" width="17.7" height="38.1" fill="#fff" stroke="#666" stroke-width="0.5" /><rect x="173.8" y="893.5" width="15.7" height="8.8" fill="none" stroke="#666" stroke-width="0.35" /><rect x="175.3" y="894.3" width="3.5" height="7.2" fill="none" stroke="#666" stroke-width="0.3" /><rect x="184.5" y="894.3" width="3.5" height="7.2" fill="none" stroke="#666" stroke-width="0.3" /><line x1="179.8" y1="895.3" x2="183.5" y2="895.3" stroke="#666" stroke-width="0.35" /><line x1="179.8" y1="897.2" x2="183.5" y2="897.2" stroke="#666" stroke-width="0.35" /><line x1="179.8" y1="899.1" x2="183.5" y2="899.1" stroke="#666" stroke-width="0.35" /><line x1="179.8" y1="901" x2="183.5" y2="901" stroke="#666" stroke-width="0.35" /><rect x="175.4" y="904.3" width="12.5" height="7.5" fill="none" stroke="#666" stroke-width="0.4" /><line x1="176.3" y1="914.3" x2="187" y2="914.3" stroke="#666" stroke-width="0.5" /><rect x="173.8" y="916.6" width="15.7" height="11.8" fill="none" stroke="#666" stroke-width="0.35" /><line x1="175.8" y1="918.8" x2="187.5" y2="918.8" stroke="#666" stroke-width="0.5" stroke-dasharray="1.2 1"/><circle cx="178.3" cy="921.3" r="0.8" fill="none" stroke="#666" stroke-width="0.3" /><circle cx="176" cy="923.8" r="0.8" fill="none" stroke="#666" stroke-width="0.3" /><circle cx="180.6" cy="923.8" r="0.8" fill="none" stroke="#666" stroke-width="0.3" /><circle cx="178.3" cy="926.3" r="0.8" fill="none" stroke="#666" stroke-width="0.3" /><circle cx="185.5" cy="922.3" r="1" fill="none" stroke="#666" stroke-width="0.3" /><circle cx="185.5" cy="925.9" r="1" fill="none" stroke="#666" stroke-width="0.3" /><rect x="191.1" y="891.3" width="17.7" height="38.1" fill="#fff" stroke="#666" stroke-width="0.5" /><rect x="192.1" y="893.5" width="15.7" height="8.8" fill="none" stroke="#666" stroke-width="0.35" /><rect x="193.6" y="894.3" width="3.5" height="7.2" fill="none" stroke="#666" stroke-width="0.3" /><rect x="202.8" y="894.3" width="3.5" height="7.2" fill="none" stroke="#666" stroke-width="0.3" /><line x1="198.1" y1="895.3" x2="201.8" y2="895.3" stroke="#666" stroke-width="0.35" /><line x1="198.1" y1="897.2" x2="201.8" y2="897.2" stroke="#666" stroke-width="0.35" /><line x1="198.1" y1="899.1" x2="201.8" y2="899.1" stroke="#666" stroke-width="0.35" /><line x1="198.1" y1="901" x2="201.8" y2="901" stroke="#666" stroke-width="0.35" /><rect x="193.7" y="904.3" width="12.5" height="7.5" fill="none" stroke="#666" stroke-width="0.4" /><line x1="194.6" y1="914.3" x2="205.3" y2="914.3" stroke="#666" stroke-width="0.5" /><rect x="192.1" y="916.6" width="15.7" height="11.8" fill="none" stroke="#666" stroke-width="0.35" /><line x1="194.1" y1="918.8" x2="205.8" y2="918.8" stroke="#666" stroke-width="0.5" stroke-dasharray="1.2 1"/><circle cx="196.6" cy="921.3" r="0.8" fill="none" stroke="#666" stroke-width="0.3" /><circle cx="194.3" cy="923.8" r="0.8" fill="none" stroke="#666" stroke-width="0.3" /><circle cx="198.9" cy="923.8" r="0.8" fill="none" stroke="#666" stroke-width="0.3" /><circle cx="196.6" cy="926.3" r="0.8" fill="none" stroke="#666" stroke-width="0.3" /><circle cx="203.8" cy="922.3" r="1" fill="none" stroke="#666" stroke-width="0.3" /><circle cx="203.8" cy="925.9" r="1" fill="none" stroke="#666" stroke-width="0.3" /><text x="240.8" y="988.6" font-size="5.4" fill="#666" text-anchor="end" >深圳市安帕尔科技有限公司</text><rect x="99.2" y="1003" width="146.1" height="42.4" fill="#fff" stroke="#444a52" stroke-width="1.2" /><line x1="99.2" y1="1011.4" x2="245.3" y2="1011.4" stroke="#333" stroke-width="1.8" /><line x1="99.2" y1="809" x2="99.2" y2="830" stroke="#ff3030" stroke-width="0.9" /><line x1="245.3" y1="809" x2="245.3" y2="830" stroke="#ff3030" stroke-width="0.9" /><line x1="99.2" y1="813.5" x2="245.3" y2="813.5" stroke="#ff3030" stroke-width="1.1" /><polygon points="99.2,813.5 108.2,811.7 108.2,815.3" fill="#ff3030" /><polygon points="245.3,813.5 236.3,811.7 236.3,815.3" fill="#ff3030" /><text x="170.95" y="811.3" font-size="11" fill="#111" text-anchor="middle" >400</text><line x1="82.5" y1="831.2" x2="97" y2="831.2" stroke="#ff3030" stroke-width="0.9" /><line x1="82.5" y1="994.7" x2="97" y2="994.7" stroke="#ff3030" stroke-width="0.9" /><line x1="84.5" y1="831.2" x2="84.5" y2="994.7" stroke="#ff3030" stroke-width="1.1" /><polygon points="84.5,831.2 82.7,840.2 86.3,840.2" fill="#ff3030" /><polygon points="84.5,994.7 82.7,985.7 86.3,985.7" fill="#ff3030" /><text x="81.5" y="911.5" font-size="11.3" fill="#111" text-anchor="middle" transform="rotate(-90 81.5 911.5)" >449.5</text><line x1="73.3" y1="1003" x2="98" y2="1003" stroke="#ff3030" stroke-width="0.9" /><line x1="73.3" y1="1045.4" x2="98" y2="1045.4" stroke="#ff3030" stroke-width="0.9" /><line x1="87.5" y1="1011.6" x2="98" y2="1011.6" stroke="#ff3030" stroke-width="0.9" /><line x1="75.3" y1="1003" x2="75.3" y2="1045.4" stroke="#ff3030" stroke-width="1.1" /><polygon points="75.3,1003 73.5,1012 77.1,1012" fill="#ff3030" /><polygon points="75.3,1045.4 73.5,1036.4 77.1,1036.4" fill="#ff3030" /><line x1="92" y1="1011.6" x2="92" y2="1045.4" stroke="#ff3030" stroke-width="1.1" /><polygon points="92,1011.6 90.2,1020.6 93.8,1020.6" fill="#ff3030" /><polygon points="92,1045.4 90.2,1036.4 93.8,1036.4" fill="#ff3030" /><text x="73.2" y="1024.2" font-size="13" fill="#111" text-anchor="middle" transform="rotate(-90 73.2 1024.2)" >118</text><text x="90.4" y="1027.6" font-size="13" fill="#111" text-anchor="middle" transform="rotate(-90 90.4 1027.6)" >93</text><defs></defs><rect x="326.4" y="831.5" width="182.2" height="163.2" fill="#fff" stroke="#444a52" stroke-width="1.2" /><path d="M332 844.2 Q338 837.4 348 840.2 L347.6 841.4 Q339 839.5 332.6 844.6 Z" fill="#1a2a80" /><path d="M345.6 838.2 L348.2 839.6 L347 837.8 M348.3 837.8 Q350.6 838.8 349.4 841" fill="none" stroke="#3c6fc4" stroke-width="0.7" /><text x="341.6" y="846.3" font-size="2.7" fill="#222" text-anchor="middle" >安帕尔®</text><rect x="340.4" y="886.6" width="155.2" height="46.4" rx="3" fill="#fff" stroke="#555" stroke-width="0.8" /><rect x="349.5" y="884.6" width="50.5" height="4" fill="#fff" /><text x="351" y="887.8" font-size="3.6" fill="#222" font-weight="bold" >GP6000可燃气体报警控制器</text><rect x="345" y="890.6" width="17.6" height="37.6" fill="#fff" stroke="#666" stroke-width="0.5" /><rect x="346" y="892.8" width="15.6" height="8.8" fill="none" stroke="#666" stroke-width="0.35" /><rect x="347.5" y="893.6" width="3.5" height="7.2" fill="none" stroke="#666" stroke-width="0.3" /><rect x="356.6" y="893.6" width="3.5" height="7.2" fill="none" stroke="#666" stroke-width="0.3" /><line x1="352" y1="894.6" x2="355.6" y2="894.6" stroke="#666" stroke-width="0.35" /><line x1="352" y1="896.5" x2="355.6" y2="896.5" stroke="#666" stroke-width="0.35" /><line x1="352" y1="898.4" x2="355.6" y2="898.4" stroke="#666" stroke-width="0.35" /><line x1="352" y1="900.3" x2="355.6" y2="900.3" stroke="#666" stroke-width="0.35" /><rect x="347.6" y="903.6" width="12.4" height="7.5" fill="none" stroke="#666" stroke-width="0.4" /><line x1="348.5" y1="913.6" x2="359.1" y2="913.6" stroke="#666" stroke-width="0.5" /><rect x="346" y="915.9" width="15.6" height="11.3" fill="none" stroke="#666" stroke-width="0.35" /><line x1="348" y1="918.1" x2="359.6" y2="918.1" stroke="#666" stroke-width="0.5" stroke-dasharray="1.2 1"/><circle cx="350.5" cy="920.6" r="0.8" fill="none" stroke="#666" stroke-width="0.3" /><circle cx="348.2" cy="923.1" r="0.8" fill="none" stroke="#666" stroke-width="0.3" /><circle cx="352.8" cy="923.1" r="0.8" fill="none" stroke="#666" stroke-width="0.3" /><circle cx="350.5" cy="925.6" r="0.8" fill="none" stroke="#666" stroke-width="0.3" /><circle cx="357.6" cy="921.6" r="1" fill="none" stroke="#666" stroke-width="0.3" /><circle cx="357.6" cy="925.2" r="1" fill="none" stroke="#666" stroke-width="0.3" /><rect x="363.2" y="890.6" width="17.6" height="37.6" fill="#fff" stroke="#666" stroke-width="0.5" /><rect x="364.2" y="892.8" width="15.6" height="8.8" fill="none" stroke="#666" stroke-width="0.35" /><rect x="365.7" y="893.6" width="3.5" height="7.2" fill="none" stroke="#666" stroke-width="0.3" /><rect x="374.8" y="893.6" width="3.5" height="7.2" fill="none" stroke="#666" stroke-width="0.3" /><line x1="370.2" y1="894.6" x2="373.8" y2="894.6" stroke="#666" stroke-width="0.35" /><line x1="370.2" y1="896.5" x2="373.8" y2="896.5" stroke="#666" stroke-width="0.35" /><line x1="370.2" y1="898.4" x2="373.8" y2="898.4" stroke="#666" stroke-width="0.35" /><line x1="370.2" y1="900.3" x2="373.8" y2="900.3" stroke="#666" stroke-width="0.35" /><rect x="365.8" y="903.6" width="12.4" height="7.5" fill="none" stroke="#666" stroke-width="0.4" /><line x1="366.7" y1="913.6" x2="377.3" y2="913.6" stroke="#666" stroke-width="0.5" /><rect x="364.2" y="915.9" width="15.6" height="11.3" fill="none" stroke="#666" stroke-width="0.35" /><line x1="366.2" y1="918.1" x2="377.8" y2="918.1" stroke="#666" stroke-width="0.5" stroke-dasharray="1.2 1"/><circle cx="368.7" cy="920.6" r="0.8" fill="none" stroke="#666" stroke-width="0.3" /><circle cx="366.4" cy="923.1" r="0.8" fill="none" stroke="#666" stroke-width="0.3" /><circle cx="371" cy="923.1" r="0.8" fill="none" stroke="#666" stroke-width="0.3" /><circle cx="368.7" cy="925.6" r="0.8" fill="none" stroke="#666" stroke-width="0.3" /><circle cx="375.8" cy="921.6" r="1" fill="none" stroke="#666" stroke-width="0.3" /><circle cx="375.8" cy="925.2" r="1" fill="none" stroke="#666" stroke-width="0.3" /><rect x="381.4" y="890.6" width="17.6" height="37.6" fill="#fff" stroke="#666" stroke-width="0.5" /><rect x="382.4" y="892.8" width="15.6" height="8.8" fill="none" stroke="#666" stroke-width="0.35" /><rect x="383.9" y="893.6" width="3.5" height="7.2" fill="none" stroke="#666" stroke-width="0.3" /><rect x="393" y="893.6" width="3.5" height="7.2" fill="none" stroke="#666" stroke-width="0.3" /><line x1="388.4" y1="894.6" x2="392" y2="894.6" stroke="#666" stroke-width="0.35" /><line x1="388.4" y1="896.5" x2="392" y2="896.5" stroke="#666" stroke-width="0.35" /><line x1="388.4" y1="898.4" x2="392" y2="898.4" stroke="#666" stroke-width="0.35" /><line x1="388.4" y1="900.3" x2="392" y2="900.3" stroke="#666" stroke-width="0.35" /><rect x="384" y="903.6" width="12.4" height="7.5" fill="none" stroke="#666" stroke-width="0.4" /><line x1="384.9" y1="913.6" x2="395.5" y2="913.6" stroke="#666" stroke-width="0.5" /><rect x="382.4" y="915.9" width="15.6" height="11.3" fill="none" stroke="#666" stroke-width="0.35" /><line x1="384.4" y1="918.1" x2="396" y2="918.1" stroke="#666" stroke-width="0.5" stroke-dasharray="1.2 1"/><circle cx="386.9" cy="920.6" r="0.8" fill="none" stroke="#666" stroke-width="0.3" /><circle cx="384.6" cy="923.1" r="0.8" fill="none" stroke="#666" stroke-width="0.3" /><circle cx="389.2" cy="923.1" r="0.8" fill="none" stroke="#666" stroke-width="0.3" /><circle cx="386.9" cy="925.6" r="0.8" fill="none" stroke="#666" stroke-width="0.3" /><circle cx="394" cy="921.6" r="1" fill="none" stroke="#666" stroke-width="0.3" /><circle cx="394" cy="925.2" r="1" fill="none" stroke="#666" stroke-width="0.3" /><rect x="399.6" y="890.6" width="17.6" height="37.6" fill="#fff" stroke="#666" stroke-width="0.5" /><rect x="400.6" y="892.8" width="15.6" height="8.8" fill="none" stroke="#666" stroke-width="0.35" /><rect x="402.1" y="893.6" width="3.5" height="7.2" fill="none" stroke="#666" stroke-width="0.3" /><rect x="411.2" y="893.6" width="3.5" height="7.2" fill="none" stroke="#666" stroke-width="0.3" /><line x1="406.6" y1="894.6" x2="410.2" y2="894.6" stroke="#666" stroke-width="0.35" /><line x1="406.6" y1="896.5" x2="410.2" y2="896.5" stroke="#666" stroke-width="0.35" /><line x1="406.6" y1="898.4" x2="410.2" y2="898.4" stroke="#666" stroke-width="0.35" /><line x1="406.6" y1="900.3" x2="410.2" y2="900.3" stroke="#666" stroke-width="0.35" /><rect x="402.2" y="903.6" width="12.4" height="7.5" fill="none" stroke="#666" stroke-width="0.4" /><line x1="403.1" y1="913.6" x2="413.7" y2="913.6" stroke="#666" stroke-width="0.5" /><rect x="400.6" y="915.9" width="15.6" height="11.3" fill="none" stroke="#666" stroke-width="0.35" /><line x1="402.6" y1="918.1" x2="414.2" y2="918.1" stroke="#666" stroke-width="0.5" stroke-dasharray="1.2 1"/><circle cx="405.1" cy="920.6" r="0.8" fill="none" stroke="#666" stroke-width="0.3" /><circle cx="402.8" cy="923.1" r="0.8" fill="none" stroke="#666" stroke-width="0.3" /><circle cx="407.4" cy="923.1" r="0.8" fill="none" stroke="#666" stroke-width="0.3" /><circle cx="405.1" cy="925.6" r="0.8" fill="none" stroke="#666" stroke-width="0.3" /><circle cx="412.2" cy="921.6" r="1" fill="none" stroke="#666" stroke-width="0.3" /><circle cx="412.2" cy="925.2" r="1" fill="none" stroke="#666" stroke-width="0.3" /><rect x="417.8" y="890.6" width="17.6" height="37.6" fill="#fff" stroke="#666" stroke-width="0.5" /><rect x="418.8" y="892.8" width="15.6" height="8.8" fill="none" stroke="#666" stroke-width="0.35" /><rect x="420.3" y="893.6" width="3.5" height="7.2" fill="none" stroke="#666" stroke-width="0.3" /><rect x="429.4" y="893.6" width="3.5" height="7.2" fill="none" stroke="#666" stroke-width="0.3" /><line x1="424.8" y1="894.6" x2="428.4" y2="894.6" stroke="#666" stroke-width="0.35" /><line x1="424.8" y1="896.5" x2="428.4" y2="896.5" stroke="#666" stroke-width="0.35" /><line x1="424.8" y1="898.4" x2="428.4" y2="898.4" stroke="#666" stroke-width="0.35" /><line x1="424.8" y1="900.3" x2="428.4" y2="900.3" stroke="#666" stroke-width="0.35" /><rect x="420.4" y="903.6" width="12.4" height="7.5" fill="none" stroke="#666" stroke-width="0.4" /><line x1="421.3" y1="913.6" x2="431.9" y2="913.6" stroke="#666" stroke-width="0.5" /><rect x="418.8" y="915.9" width="15.6" height="11.3" fill="none" stroke="#666" stroke-width="0.35" /><line x1="420.8" y1="918.1" x2="432.4" y2="918.1" stroke="#666" stroke-width="0.5" stroke-dasharray="1.2 1"/><circle cx="423.3" cy="920.6" r="0.8" fill="none" stroke="#666" stroke-width="0.3" /><circle cx="421" cy="923.1" r="0.8" fill="none" stroke="#666" stroke-width="0.3" /><circle cx="425.6" cy="923.1" r="0.8" fill="none" stroke="#666" stroke-width="0.3" /><circle cx="423.3" cy="925.6" r="0.8" fill="none" stroke="#666" stroke-width="0.3" /><circle cx="430.4" cy="921.6" r="1" fill="none" stroke="#666" stroke-width="0.3" /><circle cx="430.4" cy="925.2" r="1" fill="none" stroke="#666" stroke-width="0.3" /><rect x="436" y="890.6" width="17.6" height="37.6" fill="#fff" stroke="#666" stroke-width="0.5" /><rect x="437" y="892.8" width="15.6" height="8.8" fill="none" stroke="#666" stroke-width="0.35" /><rect x="438.5" y="893.6" width="3.5" height="7.2" fill="none" stroke="#666" stroke-width="0.3" /><rect x="447.6" y="893.6" width="3.5" height="7.2" fill="none" stroke="#666" stroke-width="0.3" /><line x1="443" y1="894.6" x2="446.6" y2="894.6" stroke="#666" stroke-width="0.35" /><line x1="443" y1="896.5" x2="446.6" y2="896.5" stroke="#666" stroke-width="0.35" /><line x1="443" y1="898.4" x2="446.6" y2="898.4" stroke="#666" stroke-width="0.35" /><line x1="443" y1="900.3" x2="446.6" y2="900.3" stroke="#666" stroke-width="0.35" /><rect x="438.6" y="903.6" width="12.4" height="7.5" fill="none" stroke="#666" stroke-width="0.4" /><line x1="439.5" y1="913.6" x2="450.1" y2="913.6" stroke="#666" stroke-width="0.5" /><rect x="437" y="915.9" width="15.6" height="11.3" fill="none" stroke="#666" stroke-width="0.35" /><line x1="439" y1="918.1" x2="450.6" y2="918.1" stroke="#666" stroke-width="0.5" stroke-dasharray="1.2 1"/><circle cx="441.5" cy="920.6" r="0.8" fill="none" stroke="#666" stroke-width="0.3" /><circle cx="439.2" cy="923.1" r="0.8" fill="none" stroke="#666" stroke-width="0.3" /><circle cx="443.8" cy="923.1" r="0.8" fill="none" stroke="#666" stroke-width="0.3" /><circle cx="441.5" cy="925.6" r="0.8" fill="none" stroke="#666" stroke-width="0.3" /><circle cx="448.6" cy="921.6" r="1" fill="none" stroke="#666" stroke-width="0.3" /><circle cx="448.6" cy="925.2" r="1" fill="none" stroke="#666" stroke-width="0.3" /><rect x="454.2" y="890.6" width="17.6" height="37.6" fill="#fff" stroke="#666" stroke-width="0.5" /><rect x="455.2" y="892.8" width="15.6" height="8.8" fill="none" stroke="#666" stroke-width="0.35" /><rect x="456.7" y="893.6" width="3.5" height="7.2" fill="none" stroke="#666" stroke-width="0.3" /><rect x="465.8" y="893.6" width="3.5" height="7.2" fill="none" stroke="#666" stroke-width="0.3" /><line x1="461.2" y1="894.6" x2="464.8" y2="894.6" stroke="#666" stroke-width="0.35" /><line x1="461.2" y1="896.5" x2="464.8" y2="896.5" stroke="#666" stroke-width="0.35" /><line x1="461.2" y1="898.4" x2="464.8" y2="898.4" stroke="#666" stroke-width="0.35" /><line x1="461.2" y1="900.3" x2="464.8" y2="900.3" stroke="#666" stroke-width="0.35" /><rect x="456.8" y="903.6" width="12.4" height="7.5" fill="none" stroke="#666" stroke-width="0.4" /><line x1="457.7" y1="913.6" x2="468.3" y2="913.6" stroke="#666" stroke-width="0.5" /><rect x="455.2" y="915.9" width="15.6" height="11.3" fill="none" stroke="#666" stroke-width="0.35" /><line x1="457.2" y1="918.1" x2="468.8" y2="918.1" stroke="#666" stroke-width="0.5" stroke-dasharray="1.2 1"/><circle cx="459.7" cy="920.6" r="0.8" fill="none" stroke="#666" stroke-width="0.3" /><circle cx="457.4" cy="923.1" r="0.8" fill="none" stroke="#666" stroke-width="0.3" /><circle cx="462" cy="923.1" r="0.8" fill="none" stroke="#666" stroke-width="0.3" /><circle cx="459.7" cy="925.6" r="0.8" fill="none" stroke="#666" stroke-width="0.3" /><circle cx="466.8" cy="921.6" r="1" fill="none" stroke="#666" stroke-width="0.3" /><circle cx="466.8" cy="925.2" r="1" fill="none" stroke="#666" stroke-width="0.3" /><rect x="472.4" y="890.6" width="17.6" height="37.6" fill="#fff" stroke="#666" stroke-width="0.5" /><rect x="473.4" y="892.8" width="15.6" height="8.8" fill="none" stroke="#666" stroke-width="0.35" /><rect x="474.9" y="893.6" width="3.5" height="7.2" fill="none" stroke="#666" stroke-width="0.3" /><rect x="484" y="893.6" width="3.5" height="7.2" fill="none" stroke="#666" stroke-width="0.3" /><line x1="479.4" y1="894.6" x2="483" y2="894.6" stroke="#666" stroke-width="0.35" /><line x1="479.4" y1="896.5" x2="483" y2="896.5" stroke="#666" stroke-width="0.35" /><line x1="479.4" y1="898.4" x2="483" y2="898.4" stroke="#666" stroke-width="0.35" /><line x1="479.4" y1="900.3" x2="483" y2="900.3" stroke="#666" stroke-width="0.35" /><rect x="475" y="903.6" width="12.4" height="7.5" fill="none" stroke="#666" stroke-width="0.4" /><line x1="475.9" y1="913.6" x2="486.5" y2="913.6" stroke="#666" stroke-width="0.5" /><rect x="473.4" y="915.9" width="15.6" height="11.3" fill="none" stroke="#666" stroke-width="0.35" /><line x1="475.4" y1="918.1" x2="487" y2="918.1" stroke="#666" stroke-width="0.5" stroke-dasharray="1.2 1"/><circle cx="477.9" cy="920.6" r="0.8" fill="none" stroke="#666" stroke-width="0.3" /><circle cx="475.6" cy="923.1" r="0.8" fill="none" stroke="#666" stroke-width="0.3" /><circle cx="480.2" cy="923.1" r="0.8" fill="none" stroke="#666" stroke-width="0.3" /><circle cx="477.9" cy="925.6" r="0.8" fill="none" stroke="#666" stroke-width="0.3" /><circle cx="485" cy="921.6" r="1" fill="none" stroke="#666" stroke-width="0.3" /><circle cx="485" cy="925.2" r="1" fill="none" stroke="#666" stroke-width="0.3" /><text x="504.1" y="988.6" font-size="5.4" fill="#666" text-anchor="end" >深圳市安帕尔科技有限公司</text><rect x="326.4" y="1003" width="182.2" height="42.4" fill="#fff" stroke="#444a52" stroke-width="1.2" /><line x1="326.4" y1="1011.4" x2="508.6" y2="1011.4" stroke="#333" stroke-width="1.8" /><line x1="326.4" y1="809" x2="326.4" y2="830" stroke="#ff3030" stroke-width="0.9" /><line x1="508.6" y1="809" x2="508.6" y2="830" stroke="#ff3030" stroke-width="0.9" /><line x1="326.4" y1="813.5" x2="508.6" y2="813.5" stroke="#ff3030" stroke-width="1.1" /><polygon points="326.4,813.5 335.4,811.7 335.4,815.3" fill="#ff3030" /><polygon points="508.6,813.5 499.6,811.7 499.6,815.3" fill="#ff3030" /><text x="416.2" y="811.3" font-size="11" fill="#111" text-anchor="middle" >500</text><line x1="310" y1="831.2" x2="325" y2="831.2" stroke="#ff3030" stroke-width="0.9" /><line x1="310" y1="994.7" x2="325" y2="994.7" stroke="#ff3030" stroke-width="0.9" /><line x1="312.4" y1="831.2" x2="312.4" y2="994.7" stroke="#ff3030" stroke-width="1.1" /><polygon points="312.4,831.2 310.6,840.2 314.2,840.2" fill="#ff3030" /><polygon points="312.4,994.7 310.6,985.7 314.2,985.7" fill="#ff3030" /><text x="310" y="911.5" font-size="11.3" fill="#111" text-anchor="middle" transform="rotate(-90 310 911.5)" >449.5</text><line x1="300" y1="1003" x2="325" y2="1003" stroke="#ff3030" stroke-width="0.9" /><line x1="300" y1="1045.4" x2="325" y2="1045.4" stroke="#ff3030" stroke-width="0.9" /><line x1="314.5" y1="1011.6" x2="325" y2="1011.6" stroke="#ff3030" stroke-width="0.9" /><line x1="302.6" y1="1003" x2="302.6" y2="1045.4" stroke="#ff3030" stroke-width="1.1" /><polygon points="302.6,1003 300.8,1012 304.4,1012" fill="#ff3030" /><polygon points="302.6,1045.4 300.8,1036.4 304.4,1036.4" fill="#ff3030" /><line x1="319.4" y1="1011.6" x2="319.4" y2="1045.4" stroke="#ff3030" stroke-width="1.1" /><polygon points="319.4,1011.6 317.6,1020.6 321.2,1020.6" fill="#ff3030" /><polygon points="319.4,1045.4 317.6,1036.4 321.2,1036.4" fill="#ff3030" /><text x="300" y="1024.2" font-size="13" fill="#111" text-anchor="middle" transform="rotate(-90 300 1024.2)" >118</text><text x="317.6" y="1027.6" font-size="13" fill="#111" text-anchor="middle" transform="rotate(-90 317.6 1027.6)" >93</text><text x="169.6" y="1077" font-size="10.6" fill="#333" text-anchor="middle" >A型机箱尺寸（系统容量≤8通道）</text><text x="423.5" y="1077" font-size="10.6" fill="#333" text-anchor="middle" >B型机箱尺寸（系统容量≤16通道）</text><line x1="659.5" y1="752" x2="659.5" y2="786" stroke="#ff3030" stroke-width="0.7" /><line x1="665" y1="752" x2="665" y2="786" stroke="#ff3030" stroke-width="0.7" /><line x1="643" y1="759.6" x2="659.5" y2="759.6" stroke="#ff3030" stroke-width="0.7" /><polygon points="659.5,759.6 652.5,758.2 652.5,761" fill="#ff3030" /><line x1="665" y1="759.6" x2="690" y2="759.6" stroke="#ff3030" stroke-width="0.7" /><polygon points="665,759.6 672,758.2 672,761" fill="#ff3030" /><text x="686.3" y="758.6" font-size="13" fill="#0d7a3a" text-anchor="middle" font-weight="bold" textLength="5" lengthAdjust="spacingAndGlyphs">6</text><line x1="665" y1="785" x2="736.5" y2="785" stroke="#ff3030" stroke-width="0.7" /><line x1="665" y1="803.3" x2="736.5" y2="803.3" stroke="#ff3030" stroke-width="0.7" /><line x1="728.3" y1="755.6" x2="728.3" y2="785" stroke="#ff3030" stroke-width="0.7" /><polygon points="728.3,785 726.9,778 729.7,778" fill="#ff3030" /><line x1="728.3" y1="803.3" x2="728.3" y2="819.8" stroke="#ff3030" stroke-width="0.7" /><polygon points="728.3,803.3 726.9,810.3 729.7,810.3" fill="#ff3030" /><text x="726.3" y="763.6" font-size="13" fill="#0d7a3a" text-anchor="middle" font-weight="bold" transform="rotate(-90 726.3 763.6)" textLength="10.5" lengthAdjust="spacingAndGlyphs">20</text><line x1="688.8" y1="773.6" x2="704.6" y2="773.6" stroke="#ff3030" stroke-width="0.7" /><line x1="688.8" y1="773.6" x2="645.8" y2="812.4" stroke="#ff3030" stroke-width="0.7" /><text x="699.5" y="772" font-size="13" fill="#0d7a3a" text-anchor="middle" font-weight="bold" textLength="16" lengthAdjust="spacingAndGlyphs">ø12</text><path d="M659.6 787.3 A2.7 2.7 0 0 1 665 787.3 L665 792 A5.7 5.7 0 1 1 659.6 792 Z" fill="#fff" stroke="#222" stroke-width="1.3" /><line x1="671" y1="789.6" x2="645.8" y2="812.4" stroke="#ff3030" stroke-width="0.7" /><polygon points="667.2,793.1 671.5,787.9 672.9,789.5" fill="#ff3030" /><polygon points="657.4,802 653.2,807.2 651.8,805.6" fill="#ff3030" /><rect x="642.1" y="828.4" width="165" height="185.1" fill="#fff" stroke="#444a52" stroke-width="1.3" /><line x1="642.1" y1="835.8" x2="807.1" y2="835.8" stroke="#444a52" stroke-width="0.8" /><line x1="642.1" y1="1005.4" x2="807.1" y2="1005.4" stroke="#444a52" stroke-width="0.8" /><line x1="643.3" y1="828.4" x2="643.3" y2="1013.5" stroke="#444a52" stroke-width="0.5" /><line x1="805.9" y1="828.4" x2="805.9" y2="1013.5" stroke="#444a52" stroke-width="0.5" /><rect x="653.5" y="835.8" width="145.3" height="169.6" fill="#fff" stroke="#343a42" stroke-width="1.5" /><rect x="643" y="857.4" width="2.8" height="15.6" fill="#fff" stroke="#444a52" stroke-width="0.7" /><rect x="643" y="873" width="10.5" height="17.2" fill="#fff" stroke="#444a52" stroke-width="0.8" /><line x1="644.8" y1="873" x2="644.8" y2="890.2" stroke="#444a52" stroke-width="0.5" /><rect x="643" y="940.8" width="2.8" height="15.8" fill="#fff" stroke="#444a52" stroke-width="0.7" /><rect x="643" y="956.6" width="10.5" height="16.5" fill="#fff" stroke="#444a52" stroke-width="0.8" /><line x1="644.8" y1="956.6" x2="644.8" y2="973.1" stroke="#444a52" stroke-width="0.5" /><rect x="798.8" y="910.3" width="2.8" height="20.9" rx="0.8" fill="#fff" stroke="#444a52" stroke-width="0.7" /><path d="M658.19 845.97 A1.71 1.71 0 0 1 661.61 845.97 L661.61 847.52 A3.41 3.41 0 1 1 658.19 847.52 Z" fill="#fff" stroke="#444a52" stroke-width="0.9" /><path d="M791.49 845.97 A1.71 1.71 0 0 1 794.9 845.97 L794.9 847.52 A3.41 3.41 0 1 1 791.49 847.52 Z" fill="#fff" stroke="#444a52" stroke-width="0.9" /><path d="M658.19 992.62 A1.71 1.71 0 0 1 661.61 992.62 L661.61 994.17 A3.41 3.41 0 1 1 658.19 994.17 Z" fill="#fff" stroke="#444a52" stroke-width="0.9" /><path d="M791.49 992.62 A1.71 1.71 0 0 1 794.9 992.62 L794.9 994.17 A3.41 3.41 0 1 1 791.49 994.17 Z" fill="#fff" stroke="#444a52" stroke-width="0.9" /><circle cx="669.6" cy="846" r="1" fill="#2a2f36" /><circle cx="669.6" cy="864.7" r="1" fill="#2a2f36" /><circle cx="780.1" cy="862.5" r="1" fill="#2a2f36" /><circle cx="705.3" cy="917.1" r="1" fill="#2a2f36" /><circle cx="749.3" cy="917.1" r="1" fill="#2a2f36" /><circle cx="673.25" cy="961.5" r="1" fill="#2a2f36" /><circle cx="698" cy="961.5" r="1" fill="#2a2f36" /><circle cx="754.8" cy="961.5" r="1" fill="#2a2f36" /><circle cx="779.6" cy="961.5" r="1" fill="#2a2f36" /><circle cx="791.5" cy="975.2" r="1" fill="#2a2f36" /><circle cx="670" cy="953.5" r="4.5" fill="#fff" stroke="#444a52" stroke-width="1.0" /><circle cx="698.6" cy="953.5" r="4.5" fill="#fff" stroke="#444a52" stroke-width="1.0" /><circle cx="727.3" cy="953.5" r="4.5" fill="#fff" stroke="#444a52" stroke-width="1.0" /><circle cx="756.1" cy="953.5" r="4.5" fill="#fff" stroke="#444a52" stroke-width="1.0" /><circle cx="785.1" cy="953.5" r="4.5" fill="#fff" stroke="#444a52" stroke-width="1.0" /><line x1="621.4" y1="850.1" x2="659.5" y2="850.1" stroke="#ff3030" stroke-width="0.9" /><line x1="621.4" y1="996.75" x2="659.5" y2="996.75" stroke="#ff3030" stroke-width="0.9" /><line x1="628.3" y1="850.1" x2="628.3" y2="996.75" stroke="#ff3030" stroke-width="1.1" /><polygon points="628.3,850.1 626.5,859.1 630.1,859.1" fill="#ff3030" /><polygon points="628.3,996.75 626.5,987.75 630.1,987.75" fill="#ff3030" /><text x="627.1" y="923.2" font-size="14.5" fill="#111" text-anchor="middle" transform="rotate(-90 627.1 923.2)" >355</text><line x1="659.5" y1="996.75" x2="659.5" y2="1038" stroke="#ff3030" stroke-width="0.9" /><line x1="792.8" y1="996.75" x2="792.8" y2="1038" stroke="#ff3030" stroke-width="0.9" /><line x1="659.5" y1="1032.8" x2="792.8" y2="1032.8" stroke="#ff3030" stroke-width="1.1" /><polygon points="659.5,1032.8 668.5,1031 668.5,1034.6" fill="#ff3030" /><polygon points="792.8,1032.8 783.8,1031 783.8,1034.6" fill="#ff3030" /><text x="724.6" y="1030.6" font-size="14.5" fill="#111" text-anchor="middle" >323</text><rect x="889.6" y="828.4" width="206.2" height="185.1" fill="#fff" stroke="#444a52" stroke-width="1.3" /><line x1="889.6" y1="835.8" x2="1095.8" y2="835.8" stroke="#444a52" stroke-width="0.8" /><line x1="889.6" y1="1005.4" x2="1095.8" y2="1005.4" stroke="#444a52" stroke-width="0.8" /><line x1="890.8" y1="828.4" x2="890.8" y2="1013.5" stroke="#444a52" stroke-width="0.5" /><line x1="1094.6" y1="828.4" x2="1094.6" y2="1013.5" stroke="#444a52" stroke-width="0.5" /><line x1="1093.3" y1="835.8" x2="1093.3" y2="1005.4" stroke="#444a52" stroke-width="0.7" /><rect x="901.25" y="835.8" width="186.45" height="169.6" fill="#fff" stroke="#343a42" stroke-width="1.5" /><rect x="891.25" y="857.4" width="2.05" height="15.6" fill="#fff" stroke="#444a52" stroke-width="0.7" /><rect x="890.2" y="873" width="10.4" height="17.2" fill="#fff" stroke="#444a52" stroke-width="0.8" /><line x1="892" y1="873" x2="892" y2="890.2" stroke="#444a52" stroke-width="0.5" /><rect x="891.25" y="940.8" width="2.05" height="15.8" fill="#fff" stroke="#444a52" stroke-width="0.7" /><rect x="890.2" y="956.6" width="10.4" height="16.5" fill="#fff" stroke="#444a52" stroke-width="0.8" /><line x1="892" y1="956.6" x2="892" y2="973.1" stroke="#444a52" stroke-width="0.5" /><rect x="1090.2" y="910.3" width="2.5" height="20.9" rx="0.8" fill="#fff" stroke="#444a52" stroke-width="0.7" /><path d="M912.89 846.47 A1.71 1.71 0 0 1 916.31 846.47 L916.31 848.02 A3.41 3.41 0 1 1 912.89 848.02 Z" fill="#fff" stroke="#444a52" stroke-width="0.9" /><path d="M1070.2 846.47 A1.71 1.71 0 0 1 1073.61 846.47 L1073.61 848.02 A3.41 3.41 0 1 1 1070.2 848.02 Z" fill="#fff" stroke="#444a52" stroke-width="0.9" /><path d="M912.89 992.27 A1.71 1.71 0 0 1 916.31 992.27 L916.31 993.82 A3.41 3.41 0 1 1 912.89 993.82 Z" fill="#fff" stroke="#444a52" stroke-width="0.9" /><path d="M1070.2 992.27 A1.71 1.71 0 0 1 1073.61 992.27 L1073.61 993.82 A3.41 3.41 0 1 1 1070.2 993.82 Z" fill="#fff" stroke="#444a52" stroke-width="0.9" /><circle cx="935" cy="845.8" r="1" fill="#2a2f36" /><circle cx="935" cy="864.2" r="1" fill="#2a2f36" /><circle cx="1051" cy="862.5" r="1" fill="#2a2f36" /><circle cx="927.3" cy="916.9" r="1" fill="#2a2f36" /><circle cx="970.8" cy="916.9" r="1" fill="#2a2f36" /><circle cx="1014.6" cy="916.9" r="1" fill="#2a2f36" /><circle cx="1058.3" cy="916.9" r="1" fill="#2a2f36" /><circle cx="938.3" cy="962.7" r="1" fill="#2a2f36" /><circle cx="962.9" cy="962.7" r="1" fill="#2a2f36" /><circle cx="1020.4" cy="962.7" r="1" fill="#2a2f36" /><circle cx="1045" cy="962.7" r="1" fill="#2a2f36" /><circle cx="926.25" cy="976.7" r="1" fill="#2a2f36" /><circle cx="1057.3" cy="976.7" r="1" fill="#2a2f36" /><circle cx="918.75" cy="953.5" r="4.5" fill="#fff" stroke="#444a52" stroke-width="1.0" /><circle cx="955.8" cy="953.5" r="4.5" fill="#fff" stroke="#444a52" stroke-width="1.0" /><circle cx="992.7" cy="953.5" r="4.5" fill="#fff" stroke="#444a52" stroke-width="1.0" /><circle cx="1029.8" cy="953.5" r="4.5" fill="#fff" stroke="#444a52" stroke-width="1.0" /><circle cx="1066.9" cy="953.5" r="4.5" fill="#fff" stroke="#444a52" stroke-width="1.0" /><line x1="875.6" y1="850.6" x2="914.2" y2="850.6" stroke="#ff3030" stroke-width="0.9" /><line x1="875.6" y1="996.4" x2="914.2" y2="996.4" stroke="#ff3030" stroke-width="0.9" /><line x1="879.8" y1="850.6" x2="879.8" y2="996.4" stroke="#ff3030" stroke-width="1.1" /><polygon points="879.8,850.6 878,859.6 881.6,859.6" fill="#ff3030" /><polygon points="879.8,996.4 878,987.4 881.6,987.4" fill="#ff3030" /><text x="878.1" y="923.2" font-size="14.5" fill="#111" text-anchor="middle" transform="rotate(-90 878.1 923.2)" >355</text><line x1="914.2" y1="996.4" x2="914.2" y2="1038" stroke="#ff3030" stroke-width="0.9" /><line x1="1071.5" y1="996.4" x2="1071.5" y2="1038" stroke="#ff3030" stroke-width="0.9" /><line x1="914.2" y1="1032.8" x2="1071.5" y2="1032.8" stroke="#ff3030" stroke-width="1.1" /><polygon points="914.2,1032.8 923.2,1031 923.2,1034.6" fill="#ff3030" /><polygon points="1071.5,1032.8 1062.5,1031 1062.5,1034.6" fill="#ff3030" /><text x="990.6" y="1030.6" font-size="14.5" fill="#111" text-anchor="middle" >382</text><text x="720" y="1070.4" font-size="10.2" fill="#333" text-anchor="middle" >A型机箱尺寸（安装尺寸）</text><text x="1003" y="1070.4" font-size="10.2" fill="#333" text-anchor="middle" >B型机箱尺寸（安装尺寸）</text></g>
<!-- s3 -->
<g><rect x="36.7" y="1276.6" width="414.9" height="464" fill="#f8f8f8" stroke="#8e8e8e" stroke-width="1.5" /><line x1="37" y1="1278.6" x2="451.6" y2="1278.6" stroke="#b5b5b5" stroke-width="0.9" /><line x1="37" y1="1738.4" x2="451.6" y2="1738.4" stroke="#b5b5b5" stroke-width="0.9" /><line x1="449.5" y1="1278.2" x2="449.5" y2="1738.8" stroke="#b5b5b5" stroke-width="0.9" /><line x1="38.8" y1="1296" x2="38.8" y2="1721" stroke="#b5b5b5" stroke-width="0.9" /><line x1="36.5" y1="1296.6" x2="66.5" y2="1296.6" stroke="#666" stroke-width="0.9" /><line x1="36.5" y1="1721" x2="66.5" y2="1721" stroke="#666" stroke-width="0.9" /><line x1="431" y1="1296.6" x2="449.6" y2="1296.6" stroke="#666" stroke-width="0.9" /><line x1="431" y1="1721" x2="451.8" y2="1721" stroke="#666" stroke-width="0.9" /><rect x="66.5" y="1295.2" width="364.7" height="425.8" fill="#f8f8f8" /><line x1="65.8" y1="1296.4" x2="431.8" y2="1296.4" stroke="#999" stroke-width="2.4" /><line x1="65.5" y1="1295.2" x2="65.5" y2="1721.4" stroke="#111" stroke-width="1.3" /><line x1="67.4" y1="1297" x2="67.4" y2="1720" stroke="#aaa" stroke-width="0.9" /><line x1="431.6" y1="1295.2" x2="431.6" y2="1721.4" stroke="#222" stroke-width="1.3" /><line x1="429.6" y1="1297" x2="429.6" y2="1720" stroke="#777" stroke-width="1.0" /><line x1="65" y1="1721" x2="432" y2="1721" stroke="#555" stroke-width="1.0" /><rect x="37.6" y="1390.3" width="27.2" height="41.1" fill="#fafafa" stroke="#4d4d4d" stroke-width="0.8" /><line x1="44.5" y1="1390.3" x2="44.5" y2="1431.4" stroke="#4d4d4d" stroke-width="0.5" /><line x1="63" y1="1390.3" x2="63" y2="1431.4" stroke="#4d4d4d" stroke-width="0.5" /><rect x="37.6" y="1598.5" width="27.2" height="41.5" fill="#fafafa" stroke="#4d4d4d" stroke-width="0.8" /><line x1="44.5" y1="1598.5" x2="44.5" y2="1640" stroke="#4d4d4d" stroke-width="0.5" /><line x1="63" y1="1598.5" x2="63" y2="1640" stroke="#4d4d4d" stroke-width="0.5" /><rect x="433.9" y="1482.2" width="4.7" height="51.8" rx="0.8" fill="#fafafa" stroke="#4d4d4d" stroke-width="0.7" /><path d="M78.56 1320.04 A3.44 3.44 0 0 1 85.44 1320.04 L85.44 1324.86 A7.16 7.16 0 1 1 78.56 1324.86 Z" fill="#f8f8f8" stroke="#4d4d4d" stroke-width="0.8" /><path d="M412.91 1320.39 A3.39 3.39 0 0 1 419.69 1320.39 L419.69 1325.14 A7.06 7.06 0 1 1 412.91 1325.14 Z" fill="#f8f8f8" stroke="#4d4d4d" stroke-width="0.8" /><path d="M77.93 1688.37 A3.37 3.37 0 0 1 84.67 1688.37 L84.67 1693.1 A7.03 7.03 0 1 1 77.93 1693.1 Z" fill="#f8f8f8" stroke="#4d4d4d" stroke-width="0.8" /><path d="M412.73 1688.37 A3.37 3.37 0 0 1 419.47 1688.37 L419.47 1693.1 A7.03 7.03 0 1 1 412.73 1693.1 Z" fill="#f8f8f8" stroke="#4d4d4d" stroke-width="0.8" /><path d="M111 1299.7 L211.6 1299.7 L211.6 1342.3 L401 1342.3 Q404.6 1342.3 404.6 1346 L404.6 1374.7 Q404.6 1378.3 401 1378.3 L111 1378.3 Q107.6 1378.3 107.6 1374.8 L107.6 1303.2 Q107.6 1299.7 111 1299.7 Z" fill="#f8f8f8" stroke="#4d4d4d" stroke-width="0.9" /><line x1="124.3" y1="1299.7" x2="124.3" y2="1378.3" stroke="#4d4d4d" stroke-width="0.8" /><line x1="388.4" y1="1342.3" x2="388.4" y2="1378.3" stroke="#4d4d4d" stroke-width="0.8" /><rect x="114.1" y="1313.5" width="5.2" height="8.4" rx="2.6" fill="#fff" stroke="#4d4d4d" stroke-width="0.7" /><circle cx="116.7" cy="1317.7" r="1.7" fill="none" stroke="#4d4d4d" stroke-width="0.9" /><rect x="114.1" y="1360.5" width="5.2" height="8.4" rx="2.6" fill="#fff" stroke="#4d4d4d" stroke-width="0.7" /><circle cx="116.7" cy="1364.7" r="1.7" fill="none" stroke="#4d4d4d" stroke-width="0.9" /><rect x="393.4" y="1355.8" width="5.2" height="8.4" rx="2.6" fill="#fff" stroke="#4d4d4d" stroke-width="0.7" /><circle cx="396" cy="1360" r="1.7" fill="none" stroke="#4d4d4d" stroke-width="0.9" /><rect x="214.2" y="1300.4" width="174.2" height="40" fill="#fbfbfb" stroke="#4d4d4d" stroke-width="0.9" /><text x="149.2" y="1312.8" font-size="4.7" fill="#555" text-anchor="middle" font-family='"Liberation Serif","Noto Serif CJK SC",serif' >控制器内部</text><text x="149.2" y="1318.4" font-size="4.7" fill="#555" text-anchor="middle" font-family='"Liberation Serif","Noto Serif CJK SC",serif' >接线</text><text x="176.7" y="1312.8" font-size="4.7" fill="#555" text-anchor="middle" font-family='"Liberation Serif","Noto Serif CJK SC",serif' >报警</text><text x="176.7" y="1318.4" font-size="4.7" fill="#555" text-anchor="middle" font-family='"Liberation Serif","Noto Serif CJK SC",serif' >24V供电</text><text x="195.8" y="1312.8" font-size="4.7" fill="#555" text-anchor="middle" font-family='"Liberation Serif","Noto Serif CJK SC",serif' >备用电池</text><text x="195.8" y="1318.4" font-size="4.7" fill="#555" text-anchor="middle" font-family='"Liberation Serif","Noto Serif CJK SC",serif' >接线端子</text><polyline points="140.6,1340.4 149.6,1321 158.8,1340.4" fill="none" stroke="#4d4d4d" stroke-width="0.6"/><polyline points="172.4,1340.4 177,1321 181.5,1340.4" fill="none" stroke="#4d4d4d" stroke-width="0.6"/><polyline points="190.6,1340.4 194.8,1321 199.4,1340.4" fill="none" stroke="#4d4d4d" stroke-width="0.6"/><rect x="132.3" y="1340.4" width="71.7" height="17.4" fill="#fff" stroke="#4d4d4d" stroke-width="0.7" /><line x1="132.3" y1="1349.1" x2="204" y2="1349.1" stroke="#4d4d4d" stroke-width="0.6" /><line x1="141.26" y1="1349.1" x2="141.26" y2="1357.8" stroke="#4d4d4d" stroke-width="0.5" /><line x1="150.22" y1="1340.4" x2="150.22" y2="1357.8" stroke="#4d4d4d" stroke-width="0.5" /><line x1="159.18" y1="1349.1" x2="159.18" y2="1357.8" stroke="#4d4d4d" stroke-width="0.5" /><line x1="168.14" y1="1340.4" x2="168.14" y2="1357.8" stroke="#4d4d4d" stroke-width="0.5" /><line x1="177.1" y1="1349.1" x2="177.1" y2="1357.8" stroke="#4d4d4d" stroke-width="0.5" /><line x1="186.06" y1="1340.4" x2="186.06" y2="1357.8" stroke="#4d4d4d" stroke-width="0.5" /><line x1="195.02" y1="1349.1" x2="195.02" y2="1357.8" stroke="#4d4d4d" stroke-width="0.5" /><text x="141.26" y="1346.9" font-size="4.6" fill="#222" text-anchor="middle" font-weight="bold" textLength="7" lengthAdjust="spacingAndGlyphs">CAN</text><text x="159.18" y="1346.9" font-size="4.6" fill="#222" text-anchor="middle" font-weight="bold" textLength="7" lengthAdjust="spacingAndGlyphs">24V</text><text x="177.1" y="1346.9" font-size="4.6" fill="#222" text-anchor="middle" font-weight="bold" textLength="7" lengthAdjust="spacingAndGlyphs">24VP</text><text x="195.02" y="1346.9" font-size="4.6" fill="#222" text-anchor="middle" font-weight="bold" textLength="13" lengthAdjust="spacingAndGlyphs">备电24V</text><text x="136.78" y="1355.3" font-size="4.4" fill="#222" text-anchor="middle" font-weight="bold" >D-</text><text x="145.74" y="1355.3" font-size="4.4" fill="#222" text-anchor="middle" font-weight="bold" >D+</text><text x="154.7" y="1355.3" font-size="4.4" fill="#222" text-anchor="middle" font-weight="bold" >−</text><text x="163.66" y="1355.3" font-size="4.4" fill="#222" text-anchor="middle" font-weight="bold" >+</text><text x="172.62" y="1355.3" font-size="4.4" fill="#222" text-anchor="middle" font-weight="bold" >−</text><text x="181.58" y="1355.3" font-size="4.4" fill="#222" text-anchor="middle" font-weight="bold" >+</text><text x="190.54" y="1355.3" font-size="4.4" fill="#222" text-anchor="middle" font-weight="bold" >−</text><text x="199.5" y="1355.3" font-size="4.4" fill="#222" text-anchor="middle" font-weight="bold" >+</text><rect x="132.3" y="1361" width="72" height="16.3" fill="#fff" stroke="#333" stroke-width="0.9" /><line x1="132.3" y1="1363.4" x2="204.3" y2="1363.4" stroke="#333" stroke-width="0.9" /><circle cx="136.2" cy="1370.2" r="3" fill="#bbb" stroke="#333" stroke-width="0.8" /><circle cx="136.2" cy="1370.2" r="1.5" fill="#888" stroke="#333" stroke-width="0.7" /><line x1="141.3" y1="1363.4" x2="141.3" y2="1377.3" stroke="#333" stroke-width="0.9" /><circle cx="145.27" cy="1370.2" r="3" fill="#bbb" stroke="#333" stroke-width="0.8" /><circle cx="145.27" cy="1370.2" r="1.5" fill="#888" stroke="#333" stroke-width="0.7" /><line x1="150.3" y1="1363.4" x2="150.3" y2="1377.3" stroke="#333" stroke-width="0.9" /><circle cx="154.34" cy="1370.2" r="3" fill="#bbb" stroke="#333" stroke-width="0.8" /><circle cx="154.34" cy="1370.2" r="1.5" fill="#888" stroke="#333" stroke-width="0.7" /><line x1="159.3" y1="1363.4" x2="159.3" y2="1377.3" stroke="#333" stroke-width="0.9" /><circle cx="163.41" cy="1370.2" r="3" fill="#bbb" stroke="#333" stroke-width="0.8" /><circle cx="163.41" cy="1370.2" r="1.5" fill="#888" stroke="#333" stroke-width="0.7" /><line x1="168.3" y1="1363.4" x2="168.3" y2="1377.3" stroke="#333" stroke-width="0.9" /><circle cx="172.48" cy="1370.2" r="3" fill="#bbb" stroke="#333" stroke-width="0.8" /><circle cx="172.48" cy="1370.2" r="1.5" fill="#888" stroke="#333" stroke-width="0.7" /><line x1="177.3" y1="1363.4" x2="177.3" y2="1377.3" stroke="#333" stroke-width="0.9" /><circle cx="181.55" cy="1370.2" r="3" fill="#bbb" stroke="#333" stroke-width="0.8" /><circle cx="181.55" cy="1370.2" r="1.5" fill="#888" stroke="#333" stroke-width="0.7" /><line x1="186.3" y1="1363.4" x2="186.3" y2="1377.3" stroke="#333" stroke-width="0.9" /><circle cx="190.62" cy="1370.2" r="3" fill="#bbb" stroke="#333" stroke-width="0.8" /><circle cx="190.62" cy="1370.2" r="1.5" fill="#888" stroke="#333" stroke-width="0.7" /><line x1="195.3" y1="1363.4" x2="195.3" y2="1377.3" stroke="#333" stroke-width="0.9" /><circle cx="199.69" cy="1370.2" r="3" fill="#bbb" stroke="#333" stroke-width="0.8" /><circle cx="199.69" cy="1370.2" r="1.5" fill="#888" stroke="#333" stroke-width="0.7" /><circle cx="222.1" cy="1359.3" r="12.6" fill="#fff" stroke="#333" stroke-width="1" /><circle cx="222.1" cy="1359.3" r="10.2" fill="none" stroke="#4d4d4d" stroke-width="0.8" /><line x1="222.1" y1="1353" x2="222.1" y2="1358.3" stroke="#333" stroke-width="0.8" /><circle cx="222.1" cy="1363.2" r="2" fill="none" stroke="#333" stroke-width="0.8" /><text x="222.1" y="1346.2" font-size="4.8" fill="#666" text-anchor="middle" font-family='"Liberation Serif","Noto Serif CJK SC",serif' >备电开关</text><text x="222.7" y="1377.2" font-size="5" fill="#222" text-anchor="middle" font-weight="bold" >备电24V</text><text x="235.7" y="1354.6" font-size="2.6" fill="#444" >ON</text><text x="235.7" y="1369" font-size="2.6" fill="#444" >OFF</text><circle cx="276.5" cy="1359.3" r="12.6" fill="#fff" stroke="#333" stroke-width="1" /><circle cx="276.5" cy="1359.3" r="10.2" fill="none" stroke="#4d4d4d" stroke-width="0.8" /><line x1="276.5" y1="1353" x2="276.5" y2="1358.3" stroke="#333" stroke-width="0.8" /><circle cx="276.5" cy="1363.2" r="2" fill="none" stroke="#333" stroke-width="0.8" /><text x="276.5" y="1346.2" font-size="4.8" fill="#666" text-anchor="middle" font-family='"Liberation Serif","Noto Serif CJK SC",serif' >主电开关</text><text x="277.1" y="1377.2" font-size="5" fill="#222" text-anchor="middle" font-weight="bold" >AC220V</text><text x="290.1" y="1354.6" font-size="2.6" fill="#444" >ON</text><text x="290.1" y="1369" font-size="2.6" fill="#444" >OFF</text><circle cx="249.6" cy="1360" r="9" fill="#fff" stroke="#333" stroke-width="1.4" /><circle cx="249.6" cy="1360" r="6" fill="none" stroke="#4d4d4d" stroke-width="0.7" /><text x="249.6" y="1361.4" font-size="3.4" fill="#333" text-anchor="middle" font-weight="bold" >FUSE</text><text x="250.4" y="1348.9" font-size="4.8" fill="#666" text-anchor="middle" font-family='"Liberation Serif","Noto Serif CJK SC",serif' >备电保险丝</text><text x="249.6" y="1377.2" font-size="5" fill="#222" text-anchor="middle" font-weight="bold" >10A/250V</text><circle cx="303.4" cy="1360" r="9" fill="#fff" stroke="#333" stroke-width="1.4" /><circle cx="303.4" cy="1360" r="6" fill="none" stroke="#4d4d4d" stroke-width="0.7" /><text x="303.4" y="1361.4" font-size="3.4" fill="#333" text-anchor="middle" font-weight="bold" >FUSE</text><text x="304.2" y="1348.9" font-size="4.8" fill="#666" text-anchor="middle" font-family='"Liberation Serif","Noto Serif CJK SC",serif' >主电保险丝</text><text x="303.4" y="1377.2" font-size="5" fill="#222" text-anchor="middle" font-weight="bold" >6A/250V</text><rect x="336.6" y="1327.6" width="33.4" height="12" fill="#fff" stroke="#4d4d4d" stroke-width="0.7" /><line x1="336.6" y1="1333" x2="370" y2="1333" stroke="#4d4d4d" stroke-width="0.6" /><line x1="347.7" y1="1333" x2="347.7" y2="1339.6" stroke="#4d4d4d" stroke-width="0.5" /><line x1="358.9" y1="1333" x2="358.9" y2="1339.6" stroke="#4d4d4d" stroke-width="0.5" /><text x="353.3" y="1332.2" font-size="4" fill="#444" text-anchor="middle" font-style="italic">AC220V</text><text x="342.2" y="1338.4" font-size="4" fill="#444" text-anchor="middle" >⏚</text><text x="353.3" y="1338.4" font-size="3.8" fill="#444" text-anchor="middle" >N</text><text x="364.5" y="1338.4" font-size="3.8" fill="#444" text-anchor="middle" >L</text><text x="354.4" y="1347.6" font-size="4.8" fill="#555" text-anchor="middle" font-family='"Liberation Serif","Noto Serif CJK SC",serif' >控制器供电接线端子</text><rect x="327.5" y="1349.4" width="51.5" height="14.8" fill="#fff" stroke="#333" stroke-width="0.9" /><line x1="336" y1="1349.4" x2="336" y2="1364.2" stroke="#333" stroke-width="0.9" /><line x1="347.9" y1="1349.4" x2="347.9" y2="1364.2" stroke="#333" stroke-width="0.9" /><line x1="359.2" y1="1349.4" x2="359.2" y2="1364.2" stroke="#333" stroke-width="0.9" /><line x1="370.6" y1="1349.4" x2="370.6" y2="1364.2" stroke="#333" stroke-width="0.9" /><circle cx="341.7" cy="1357" r="3" fill="#ccc" stroke="#333" stroke-width="0.9" /><circle cx="341.7" cy="1357" r="1.4" fill="#888" stroke="#333" stroke-width="0.7" /><circle cx="353" cy="1357" r="3" fill="#ccc" stroke="#333" stroke-width="0.9" /><circle cx="353" cy="1357" r="1.4" fill="#888" stroke="#333" stroke-width="0.7" /><circle cx="364.4" cy="1357" r="3" fill="#ccc" stroke="#333" stroke-width="0.9" /><circle cx="364.4" cy="1357" r="1.4" fill="#888" stroke="#333" stroke-width="0.7" /><polyline points="136.2,1377.3 136.2,1401.2 158.9,1401.2 158.9,1413" fill="none" stroke="#555" stroke-width="0.7"/><polyline points="145.3,1377.3 145.3,1398.6 165.1,1398.6 165.1,1413" fill="none" stroke="#555" stroke-width="0.7"/><polyline points="154.2,1377.3 154.2,1396.2 171,1396.2 171,1413" fill="none" stroke="#555" stroke-width="0.7"/><polyline points="163.5,1377.3 163.5,1393.8 177,1393.8 177,1413" fill="none" stroke="#555" stroke-width="0.7"/><rect x="138.4" y="1393.2" width="6.2" height="1.5" fill="#111" /><text x="133" y="1391" font-size="2.2" fill="#666" text-anchor="end" >120Ω</text><text x="133" y="1393.6" font-size="2.2" fill="#666" text-anchor="end" >终端电阻</text><text x="133" y="1396.2" font-size="2.2" fill="#666" text-anchor="end" >CAN通讯终端电阻</text><polyline points="190.6,1377.3 190.6,1395 373.5,1395 373.5,1587.5 270.2,1587.5 270.2,1617.6" fill="none" stroke="#555" stroke-width="0.7"/><polyline points="199.7,1377.3 199.7,1391 377.6,1391 377.6,1591 273.6,1591 273.6,1617.6" fill="none" stroke="#555" stroke-width="0.7"/><polyline points="211,1413 211,1406.5 302,1406.5 302,1413" fill="none" stroke="#555" stroke-width="0.7"/><polyline points="217,1413 217,1409 296,1409 296,1413" fill="none" stroke="#555" stroke-width="0.7"/><polyline points="223,1413 223,1404 276.5,1404 276.5,1413" fill="none" stroke="#555" stroke-width="0.7"/><polyline points="229,1413 229,1401.5 282.5,1401.5 282.5,1413" fill="none" stroke="#555" stroke-width="0.7"/><polyline points="263.5,1413 263.5,1408 270,1408" fill="none" stroke="#555" stroke-width="0.7"/><rect x="316.5" y="1402.2" width="8" height="2.4" rx="1.2" fill="#999" stroke="#222" stroke-width="0.7" /><polyline points="317.8,1404.6 317.8,1413" fill="none" stroke="#555" stroke-width="0.7"/><polyline points="323.4,1404.6 323.4,1413" fill="none" stroke="#555" stroke-width="0.7"/><text x="327.5" y="1399.6" font-size="2.2" fill="#666" >120Ω</text><text x="327.5" y="1402.2" font-size="2.2" fill="#666" >终端电阻</text><text x="327.5" y="1404.8" font-size="2.2" fill="#666" >CAN通讯终端电阻</text><polyline points="171.5,1566.6 171.5,1578.4 229.5,1578.4 229.5,1566.6" fill="none" stroke="#555" stroke-width="0.7"/><polyline points="177.5,1566.6 177.5,1576 223.5,1576 223.5,1566.6" fill="none" stroke="#555" stroke-width="0.7"/><polyline points="183.5,1566.6 183.5,1573.4 235.5,1573.4 235.5,1566.6" fill="none" stroke="#555" stroke-width="0.7"/><polyline points="189.5,1566.6 189.5,1571 217.5,1571 217.5,1566.6" fill="none" stroke="#555" stroke-width="0.7"/><polyline points="276.5,1566.6 276.5,1578.4 334.5,1578.4 334.5,1566.6" fill="none" stroke="#555" stroke-width="0.7"/><polyline points="282.5,1566.6 282.5,1576 328.5,1576 328.5,1566.6" fill="none" stroke="#555" stroke-width="0.7"/><polyline points="288.5,1566.6 288.5,1573.4 340.5,1573.4 340.5,1566.6" fill="none" stroke="#555" stroke-width="0.7"/><polyline points="294.5,1566.6 294.5,1571 322.5,1571 322.5,1566.6" fill="none" stroke="#555" stroke-width="0.7"/><rect x="137.3" y="1481" width="11.3" height="36.4" fill="#f8f8f8" stroke="#4d4d4d" stroke-width="0.8" /><line x1="137.3" y1="1485" x2="148.6" y2="1485" stroke="#4d4d4d" stroke-width="0.6" /><line x1="137.3" y1="1513.4" x2="148.6" y2="1513.4" stroke="#4d4d4d" stroke-width="0.6" /><rect x="357.4" y="1481" width="11.1" height="36.4" fill="#f8f8f8" stroke="#4d4d4d" stroke-width="0.8" /><line x1="357.4" y1="1485" x2="368.5" y2="1485" stroke="#4d4d4d" stroke-width="0.6" /><line x1="357.4" y1="1513.4" x2="368.5" y2="1513.4" stroke="#4d4d4d" stroke-width="0.6" /><g transform="translate(61.85 1385.8) scale(0.2988 0.3075)"><path d="M334.7 88.4 Q336 82.4 342 82.4 L409 82.4 Q415 82.4 416.1 88.4" fill="none" stroke="#555" stroke-width="1.8" /><path d="M289 164.5 L289 121 Q289 119 291 119 L301.5 119.9 L312.9 109.4 L312.9 164.5 Z" fill="#fbfbfb" stroke="#555" stroke-width="1.8" /><path d="M461.1 164.5 L461.1 121 Q461.1 119 459.1 119 L448.6 119.9 L438.5 109.4 L438.5 164.5 Z" fill="#fbfbfb" stroke="#555" stroke-width="1.8" /><line x1="292.8" y1="119.9" x2="292.8" y2="164.5" stroke="#555" stroke-width="1.4" /><line x1="457.3" y1="119.9" x2="457.3" y2="164.5" stroke="#555" stroke-width="1.4" /><line x1="292.8" y1="119.9" x2="312.9" y2="119.9" stroke="#555" stroke-width="1.4" /><line x1="438.5" y1="119.9" x2="457.3" y2="119.9" stroke="#555" stroke-width="1.4" /><line x1="289" y1="143.5" x2="312.9" y2="143.5" stroke="#555" stroke-width="1.4" /><line x1="438.5" y1="143.5" x2="461.1" y2="143.5" stroke="#555" stroke-width="1.4" /><rect x="312.9" y="88.4" width="125.6" height="74.4" fill="#fff" stroke="#555" stroke-width="1.8" /><rect x="315.5" y="88.4" width="120" height="74.4" fill="#c3d3e0" /><line x1="315.5" y1="88.4" x2="315.5" y2="162.8" stroke="#555" stroke-width="1.4" /><line x1="435.5" y1="88.4" x2="435.5" y2="162.8" stroke="#555" stroke-width="1.4" /><circle cx="324.6" cy="102.9" r="7.6" fill="none" stroke="#555" stroke-width="1.8" /><line x1="317" y1="102.9" x2="332.2" y2="102.9" stroke="#555" stroke-width="1.2" /><circle cx="344.7" cy="102.9" r="7.6" fill="none" stroke="#555" stroke-width="1.8" /><line x1="337.1" y1="102.9" x2="352.3" y2="102.9" stroke="#555" stroke-width="1.2" /><circle cx="364.6" cy="102.9" r="7.6" fill="none" stroke="#555" stroke-width="1.8" /><line x1="357" y1="102.9" x2="372.2" y2="102.9" stroke="#555" stroke-width="1.2" /><circle cx="384.7" cy="102.9" r="7.6" fill="none" stroke="#555" stroke-width="1.8" /><line x1="377.1" y1="102.9" x2="392.3" y2="102.9" stroke="#555" stroke-width="1.2" /><circle cx="404.8" cy="102.9" r="7.6" fill="none" stroke="#555" stroke-width="1.8" /><line x1="397.2" y1="102.9" x2="412.4" y2="102.9" stroke="#555" stroke-width="1.2" /><circle cx="424.9" cy="102.9" r="7.6" fill="none" stroke="#555" stroke-width="1.8" /><line x1="417.3" y1="102.9" x2="432.5" y2="102.9" stroke="#555" stroke-width="1.2" /><line x1="315.5" y1="114.45" x2="435.5" y2="114.45" stroke="#555" stroke-width="3.0" /><circle cx="324.6" cy="126" r="7.6" fill="none" stroke="#555" stroke-width="1.8" /><line x1="317" y1="126" x2="332.2" y2="126" stroke="#555" stroke-width="1.2" /><circle cx="344.7" cy="126" r="7.6" fill="none" stroke="#555" stroke-width="1.8" /><line x1="337.1" y1="126" x2="352.3" y2="126" stroke="#555" stroke-width="1.2" /><circle cx="364.6" cy="126" r="7.6" fill="none" stroke="#555" stroke-width="1.8" /><line x1="357" y1="126" x2="372.2" y2="126" stroke="#555" stroke-width="1.2" /><circle cx="384.7" cy="126" r="7.6" fill="none" stroke="#555" stroke-width="1.8" /><line x1="377.1" y1="126" x2="392.3" y2="126" stroke="#555" stroke-width="1.2" /><circle cx="404.8" cy="126" r="7.6" fill="none" stroke="#555" stroke-width="1.8" /><line x1="397.2" y1="126" x2="412.4" y2="126" stroke="#555" stroke-width="1.2" /><circle cx="424.9" cy="126" r="7.6" fill="none" stroke="#555" stroke-width="1.8" /><line x1="417.3" y1="126" x2="432.5" y2="126" stroke="#555" stroke-width="1.2" /><line x1="315.5" y1="137.55" x2="435.5" y2="137.55" stroke="#555" stroke-width="3.0" /><circle cx="324.6" cy="149.1" r="7.6" fill="none" stroke="#555" stroke-width="1.8" /><line x1="317" y1="149.1" x2="332.2" y2="149.1" stroke="#555" stroke-width="1.2" /><circle cx="344.7" cy="149.1" r="7.6" fill="none" stroke="#555" stroke-width="1.8" /><line x1="337.1" y1="149.1" x2="352.3" y2="149.1" stroke="#555" stroke-width="1.2" /><circle cx="364.6" cy="149.1" r="7.6" fill="none" stroke="#555" stroke-width="1.8" /><line x1="357" y1="149.1" x2="372.2" y2="149.1" stroke="#555" stroke-width="1.2" /><circle cx="384.7" cy="149.1" r="7.6" fill="none" stroke="#555" stroke-width="1.8" /><line x1="377.1" y1="149.1" x2="392.3" y2="149.1" stroke="#555" stroke-width="1.2" /><circle cx="404.8" cy="149.1" r="7.6" fill="none" stroke="#555" stroke-width="1.8" /><line x1="397.2" y1="149.1" x2="412.4" y2="149.1" stroke="#555" stroke-width="1.2" /><circle cx="424.9" cy="149.1" r="7.6" fill="none" stroke="#555" stroke-width="1.8" /><line x1="417.3" y1="149.1" x2="432.5" y2="149.1" stroke="#555" stroke-width="1.2" /><rect x="289" y="164.5" width="172.1" height="344.5" fill="#fbfbfb" stroke="#555" stroke-width="1.8" /><rect x="292.8" y="167.1" width="164.5" height="339.8" rx="7" fill="#fbfbfb" stroke="#555" stroke-width="1.8" /><rect x="296.6" y="171.2" width="156.9" height="330.8" rx="5" fill="none" stroke="#555" stroke-width="1.4" /><text x="303" y="191.5" font-size="13.2" fill="#111" font-weight="bold" textLength="68" lengthAdjust="spacingAndGlyphs">intersense</text><text x="342.5" y="183.5" font-size="8" fill="#111" text-anchor="middle" font-weight="bold" >»</text><rect x="303.25" y="193.9" width="56.35" height="85.6" rx="3" fill="none" stroke="#555" stroke-width="1.8" /><rect x="310.6" y="203" width="26.8" height="68.3" fill="none" stroke="#555" stroke-width="1.8" /><circle cx="350" cy="206.9" r="5.7" fill="none" stroke="#555" stroke-width="1.8" /><circle cx="350" cy="227" r="5.7" fill="none" stroke="#555" stroke-width="1.8" /><circle cx="350" cy="247.6" r="5.7" fill="none" stroke="#555" stroke-width="1.8" /><circle cx="350" cy="268.3" r="5.7" fill="none" stroke="#555" stroke-width="1.8" /><rect x="393.4" y="193.9" width="56.3" height="85.6" rx="3" fill="none" stroke="#555" stroke-width="1.8" /><rect x="415.3" y="203" width="26.6" height="68.3" fill="none" stroke="#555" stroke-width="1.8" /><circle cx="402.5" cy="206.9" r="5.7" fill="none" stroke="#555" stroke-width="1.8" /><circle cx="402.5" cy="227" r="5.7" fill="none" stroke="#555" stroke-width="1.8" /><circle cx="402.5" cy="247.6" r="5.7" fill="none" stroke="#555" stroke-width="1.8" /><circle cx="402.5" cy="268.3" r="5.7" fill="none" stroke="#555" stroke-width="1.8" /><text x="377.3" y="209.7" font-size="7.6" fill="#333" text-anchor="middle" >报警 I</text><text x="377.3" y="229.8" font-size="7.6" fill="#333" text-anchor="middle" >报警 II</text><text x="377.3" y="250.4" font-size="7.6" fill="#333" text-anchor="middle" >故 障</text><text x="377.3" y="271.1" font-size="7.6" fill="#333" text-anchor="middle" >在 线</text><rect x="316.4" y="288.4" width="119.9" height="69" rx="3" fill="none" stroke="#555" stroke-width="1.8" /><text x="376.6" y="374.8" font-size="7.2" fill="#333" text-anchor="middle" letter-spacing="0" >GP6000 可燃气体报警控制器</text><rect x="303.25" y="386.4" width="146.45" height="108.5" rx="3" fill="none" stroke="#555" stroke-width="1.8" /><circle cx="322.2" cy="396.4" r="5.7" fill="none" stroke="#555" stroke-width="1.8" /><text x="322.8" y="411.3" font-size="8.2" fill="#333" text-anchor="middle" >主电</text><circle cx="349.6" cy="396.4" r="5.7" fill="none" stroke="#555" stroke-width="1.8" /><text x="350.2" y="411.3" font-size="8.2" fill="#333" text-anchor="middle" >备电</text><circle cx="376.75" cy="396.4" r="5.7" fill="none" stroke="#555" stroke-width="1.8" /><text x="377.35" y="411.3" font-size="8.2" fill="#333" text-anchor="middle" >电源故障</text><circle cx="403.9" cy="396.4" r="5.7" fill="none" stroke="#555" stroke-width="1.8" /><text x="404.5" y="411.3" font-size="8.2" fill="#333" text-anchor="middle" >测试</text><circle cx="429.6" cy="396.4" r="5.7" fill="none" stroke="#555" stroke-width="1.8" /><text x="430.2" y="411.3" font-size="8.2" fill="#333" text-anchor="middle" >消音</text><circle cx="350" cy="426.7" r="8.1" fill="none" stroke="#555" stroke-width="1.8" /><circle cx="323.4" cy="454.1" r="8.1" fill="none" stroke="#555" stroke-width="1.8" /><circle cx="376.4" cy="454.1" r="8.1" fill="none" stroke="#555" stroke-width="1.8" /><circle cx="350" cy="481.3" r="8.1" fill="none" stroke="#555" stroke-width="1.8" /><polygon points="350,436.3 346,442.6 354,442.6" fill="#111" /><polygon points="350,471 346,464.6 354,464.6" fill="#111" /><polygon points="333,454.1 339.6,450 339.6,458.2" fill="#111" /><text x="361.8" y="458.2" font-size="10.5" fill="#111" text-anchor="middle" font-weight="bold" >√</text><rect x="406.5" y="425.3" width="28.9" height="16.6" rx="8.3" fill="none" stroke="#555" stroke-width="1.8" /><rect x="406.5" y="466.4" width="28.9" height="16.1" rx="8.1" fill="none" stroke="#555" stroke-width="1.8" /><text x="421" y="449.4" font-size="8.2" fill="#333" text-anchor="middle" >复位/退出</text><text x="421.7" y="465.2" font-size="8.2" fill="#333" text-anchor="middle" >消音</text><path d="M289.3 509 L289.3 555.8 L296 555.8 L313.2 571 L313.2 509 Z" fill="#fbfbfb" stroke="#555" stroke-width="1.8" /><path d="M461.6 509 L461.6 555.8 L455 555.8 L437.8 571 L437.8 509 Z" fill="#fbfbfb" stroke="#555" stroke-width="1.8" /><line x1="292.8" y1="511.4" x2="292.8" y2="555.8" stroke="#555" stroke-width="1.4" /><line x1="457.8" y1="511.4" x2="457.8" y2="555.8" stroke="#555" stroke-width="1.4" /><line x1="289.3" y1="511.4" x2="461.6" y2="511.4" stroke="#555" stroke-width="1.4" /><line x1="289.3" y1="531.5" x2="313.2" y2="531.5" stroke="#555" stroke-width="1.4" /><line x1="437.8" y1="531.5" x2="461.6" y2="531.5" stroke="#555" stroke-width="1.4" /><rect x="313.2" y="511.4" width="124.6" height="74.8" fill="#fff" stroke="#555" stroke-width="1.8" /><rect x="315.8" y="511.4" width="119" height="74.8" fill="#c3d3e0" /><line x1="315.8" y1="511.4" x2="315.8" y2="586.2" stroke="#555" stroke-width="1.4" /><line x1="434.8" y1="511.4" x2="434.8" y2="586.2" stroke="#555" stroke-width="1.4" /><circle cx="324.4" cy="525.5" r="7.6" fill="none" stroke="#555" stroke-width="1.8" /><line x1="316.8" y1="525.5" x2="332" y2="525.5" stroke="#555" stroke-width="1.2" /><circle cx="344.6" cy="525.5" r="7.6" fill="none" stroke="#555" stroke-width="1.8" /><line x1="337" y1="525.5" x2="352.2" y2="525.5" stroke="#555" stroke-width="1.2" /><circle cx="364.5" cy="525.5" r="7.6" fill="none" stroke="#555" stroke-width="1.8" /><line x1="356.9" y1="525.5" x2="372.1" y2="525.5" stroke="#555" stroke-width="1.2" /><circle cx="384.7" cy="525.5" r="7.6" fill="none" stroke="#555" stroke-width="1.8" /><line x1="377.1" y1="525.5" x2="392.3" y2="525.5" stroke="#555" stroke-width="1.2" /><circle cx="404.6" cy="525.5" r="7.6" fill="none" stroke="#555" stroke-width="1.8" /><line x1="397" y1="525.5" x2="412.2" y2="525.5" stroke="#555" stroke-width="1.2" /><circle cx="424.8" cy="525.5" r="7.6" fill="none" stroke="#555" stroke-width="1.8" /><line x1="417.2" y1="525.5" x2="432.4" y2="525.5" stroke="#555" stroke-width="1.2" /><line x1="315.8" y1="537.2" x2="434.8" y2="537.2" stroke="#555" stroke-width="3.0" /><circle cx="324.4" cy="548.9" r="7.6" fill="none" stroke="#555" stroke-width="1.8" /><line x1="316.8" y1="548.9" x2="332" y2="548.9" stroke="#555" stroke-width="1.2" /><circle cx="344.6" cy="548.9" r="7.6" fill="none" stroke="#555" stroke-width="1.8" /><line x1="337" y1="548.9" x2="352.2" y2="548.9" stroke="#555" stroke-width="1.2" /><circle cx="364.5" cy="548.9" r="7.6" fill="none" stroke="#555" stroke-width="1.8" /><line x1="356.9" y1="548.9" x2="372.1" y2="548.9" stroke="#555" stroke-width="1.2" /><circle cx="384.7" cy="548.9" r="7.6" fill="none" stroke="#555" stroke-width="1.8" /><line x1="377.1" y1="548.9" x2="392.3" y2="548.9" stroke="#555" stroke-width="1.2" /><circle cx="404.6" cy="548.9" r="7.6" fill="none" stroke="#555" stroke-width="1.8" /><line x1="397" y1="548.9" x2="412.2" y2="548.9" stroke="#555" stroke-width="1.2" /><circle cx="424.8" cy="548.9" r="7.6" fill="none" stroke="#555" stroke-width="1.8" /><line x1="417.2" y1="548.9" x2="432.4" y2="548.9" stroke="#555" stroke-width="1.2" /><line x1="315.8" y1="560.5" x2="434.8" y2="560.5" stroke="#555" stroke-width="3.0" /><circle cx="324.4" cy="572.1" r="7.6" fill="none" stroke="#555" stroke-width="1.8" /><line x1="316.8" y1="572.1" x2="332" y2="572.1" stroke="#555" stroke-width="1.2" /><circle cx="344.6" cy="572.1" r="7.6" fill="none" stroke="#555" stroke-width="1.8" /><line x1="337" y1="572.1" x2="352.2" y2="572.1" stroke="#555" stroke-width="1.2" /><circle cx="364.5" cy="572.1" r="7.6" fill="none" stroke="#555" stroke-width="1.8" /><line x1="356.9" y1="572.1" x2="372.1" y2="572.1" stroke="#555" stroke-width="1.2" /><circle cx="384.7" cy="572.1" r="7.6" fill="none" stroke="#555" stroke-width="1.8" /><line x1="377.1" y1="572.1" x2="392.3" y2="572.1" stroke="#555" stroke-width="1.2" /><circle cx="404.6" cy="572.1" r="7.6" fill="none" stroke="#555" stroke-width="1.8" /><line x1="397" y1="572.1" x2="412.2" y2="572.1" stroke="#555" stroke-width="1.2" /><circle cx="424.8" cy="572.1" r="7.6" fill="none" stroke="#555" stroke-width="1.8" /><line x1="417.2" y1="572.1" x2="432.4" y2="572.1" stroke="#555" stroke-width="1.2" /><path d="M334.2 586.2 Q335.5 592.7 342 592.7 L409 592.7 Q415.5 592.7 416.7 586.2" fill="none" stroke="#555" stroke-width="1.8" /></g><g transform="translate(114.35 1385.8) scale(0.2988 0.3075)"><path d="M334.7 88.4 Q336 82.4 342 82.4 L409 82.4 Q415 82.4 416.1 88.4" fill="none" stroke="#555" stroke-width="1.8" /><path d="M289 164.5 L289 121 Q289 119 291 119 L301.5 119.9 L312.9 109.4 L312.9 164.5 Z" fill="#fbfbfb" stroke="#555" stroke-width="1.8" /><path d="M461.1 164.5 L461.1 121 Q461.1 119 459.1 119 L448.6 119.9 L438.5 109.4 L438.5 164.5 Z" fill="#fbfbfb" stroke="#555" stroke-width="1.8" /><line x1="292.8" y1="119.9" x2="292.8" y2="164.5" stroke="#555" stroke-width="1.4" /><line x1="457.3" y1="119.9" x2="457.3" y2="164.5" stroke="#555" stroke-width="1.4" /><line x1="292.8" y1="119.9" x2="312.9" y2="119.9" stroke="#555" stroke-width="1.4" /><line x1="438.5" y1="119.9" x2="457.3" y2="119.9" stroke="#555" stroke-width="1.4" /><line x1="289" y1="143.5" x2="312.9" y2="143.5" stroke="#555" stroke-width="1.4" /><line x1="438.5" y1="143.5" x2="461.1" y2="143.5" stroke="#555" stroke-width="1.4" /><rect x="312.9" y="88.4" width="125.6" height="74.4" fill="#fff" stroke="#555" stroke-width="1.8" /><rect x="315.5" y="88.4" width="120" height="74.4" fill="#c3d3e0" /><line x1="315.5" y1="88.4" x2="315.5" y2="162.8" stroke="#555" stroke-width="1.4" /><line x1="435.5" y1="88.4" x2="435.5" y2="162.8" stroke="#555" stroke-width="1.4" /><circle cx="324.6" cy="102.9" r="7.6" fill="none" stroke="#555" stroke-width="1.8" /><line x1="317" y1="102.9" x2="332.2" y2="102.9" stroke="#555" stroke-width="1.2" /><circle cx="344.7" cy="102.9" r="7.6" fill="none" stroke="#555" stroke-width="1.8" /><line x1="337.1" y1="102.9" x2="352.3" y2="102.9" stroke="#555" stroke-width="1.2" /><circle cx="364.6" cy="102.9" r="7.6" fill="none" stroke="#555" stroke-width="1.8" /><line x1="357" y1="102.9" x2="372.2" y2="102.9" stroke="#555" stroke-width="1.2" /><circle cx="384.7" cy="102.9" r="7.6" fill="none" stroke="#555" stroke-width="1.8" /><line x1="377.1" y1="102.9" x2="392.3" y2="102.9" stroke="#555" stroke-width="1.2" /><circle cx="404.8" cy="102.9" r="7.6" fill="none" stroke="#555" stroke-width="1.8" /><line x1="397.2" y1="102.9" x2="412.4" y2="102.9" stroke="#555" stroke-width="1.2" /><circle cx="424.9" cy="102.9" r="7.6" fill="none" stroke="#555" stroke-width="1.8" /><line x1="417.3" y1="102.9" x2="432.5" y2="102.9" stroke="#555" stroke-width="1.2" /><line x1="315.5" y1="114.45" x2="435.5" y2="114.45" stroke="#555" stroke-width="3.0" /><circle cx="324.6" cy="126" r="7.6" fill="none" stroke="#555" stroke-width="1.8" /><line x1="317" y1="126" x2="332.2" y2="126" stroke="#555" stroke-width="1.2" /><circle cx="344.7" cy="126" r="7.6" fill="none" stroke="#555" stroke-width="1.8" /><line x1="337.1" y1="126" x2="352.3" y2="126" stroke="#555" stroke-width="1.2" /><circle cx="364.6" cy="126" r="7.6" fill="none" stroke="#555" stroke-width="1.8" /><line x1="357" y1="126" x2="372.2" y2="126" stroke="#555" stroke-width="1.2" /><circle cx="384.7" cy="126" r="7.6" fill="none" stroke="#555" stroke-width="1.8" /><line x1="377.1" y1="126" x2="392.3" y2="126" stroke="#555" stroke-width="1.2" /><circle cx="404.8" cy="126" r="7.6" fill="none" stroke="#555" stroke-width="1.8" /><line x1="397.2" y1="126" x2="412.4" y2="126" stroke="#555" stroke-width="1.2" /><circle cx="424.9" cy="126" r="7.6" fill="none" stroke="#555" stroke-width="1.8" /><line x1="417.3" y1="126" x2="432.5" y2="126" stroke="#555" stroke-width="1.2" /><line x1="315.5" y1="137.55" x2="435.5" y2="137.55" stroke="#555" stroke-width="3.0" /><circle cx="324.6" cy="149.1" r="7.6" fill="none" stroke="#555" stroke-width="1.8" /><line x1="317" y1="149.1" x2="332.2" y2="149.1" stroke="#555" stroke-width="1.2" /><circle cx="344.7" cy="149.1" r="7.6" fill="none" stroke="#555" stroke-width="1.8" /><line x1="337.1" y1="149.1" x2="352.3" y2="149.1" stroke="#555" stroke-width="1.2" /><circle cx="364.6" cy="149.1" r="7.6" fill="none" stroke="#555" stroke-width="1.8" /><line x1="357" y1="149.1" x2="372.2" y2="149.1" stroke="#555" stroke-width="1.2" /><circle cx="384.7" cy="149.1" r="7.6" fill="none" stroke="#555" stroke-width="1.8" /><line x1="377.1" y1="149.1" x2="392.3" y2="149.1" stroke="#555" stroke-width="1.2" /><circle cx="404.8" cy="149.1" r="7.6" fill="none" stroke="#555" stroke-width="1.8" /><line x1="397.2" y1="149.1" x2="412.4" y2="149.1" stroke="#555" stroke-width="1.2" /><circle cx="424.9" cy="149.1" r="7.6" fill="none" stroke="#555" stroke-width="1.8" /><line x1="417.3" y1="149.1" x2="432.5" y2="149.1" stroke="#555" stroke-width="1.2" /><rect x="289" y="164.5" width="172.1" height="344.5" fill="#fbfbfb" stroke="#555" stroke-width="1.8" /><rect x="292.8" y="167.1" width="164.5" height="339.8" rx="7" fill="#fbfbfb" stroke="#555" stroke-width="1.8" /><rect x="296.6" y="171.2" width="156.9" height="330.8" rx="5" fill="none" stroke="#555" stroke-width="1.4" /><text x="303" y="191.5" font-size="13.2" fill="#111" font-weight="bold" textLength="68" lengthAdjust="spacingAndGlyphs">intersense</text><text x="342.5" y="183.5" font-size="8" fill="#111" text-anchor="middle" font-weight="bold" >»</text><rect x="303.25" y="193.9" width="56.35" height="85.6" rx="3" fill="none" stroke="#555" stroke-width="1.8" /><rect x="310.6" y="203" width="26.8" height="68.3" fill="none" stroke="#555" stroke-width="1.8" /><circle cx="350" cy="206.9" r="5.7" fill="none" stroke="#555" stroke-width="1.8" /><circle cx="350" cy="227" r="5.7" fill="none" stroke="#555" stroke-width="1.8" /><circle cx="350" cy="247.6" r="5.7" fill="none" stroke="#555" stroke-width="1.8" /><circle cx="350" cy="268.3" r="5.7" fill="none" stroke="#555" stroke-width="1.8" /><text x="324.5" y="231" font-size="16" fill="#111" text-anchor="middle" >3</text><text x="324" y="253" font-size="14.5" fill="#111" text-anchor="middle" >路</text><rect x="393.4" y="193.9" width="56.3" height="85.6" rx="3" fill="none" stroke="#555" stroke-width="1.8" /><rect x="415.3" y="203" width="26.6" height="68.3" fill="none" stroke="#555" stroke-width="1.8" /><circle cx="402.5" cy="206.9" r="5.7" fill="none" stroke="#555" stroke-width="1.8" /><circle cx="402.5" cy="227" r="5.7" fill="none" stroke="#555" stroke-width="1.8" /><circle cx="402.5" cy="247.6" r="5.7" fill="none" stroke="#555" stroke-width="1.8" /><circle cx="402.5" cy="268.3" r="5.7" fill="none" stroke="#555" stroke-width="1.8" /><text x="429.1" y="231" font-size="16" fill="#111" text-anchor="middle" >4</text><text x="428.6" y="253" font-size="14.5" fill="#111" text-anchor="middle" >路</text><text x="377.3" y="209.7" font-size="7.6" fill="#333" text-anchor="middle" >报警 I</text><text x="377.3" y="229.8" font-size="7.6" fill="#333" text-anchor="middle" >报警 II</text><text x="377.3" y="250.4" font-size="7.6" fill="#333" text-anchor="middle" >故 障</text><text x="377.3" y="271.1" font-size="7.6" fill="#333" text-anchor="middle" >在 线</text><rect x="316.4" y="288.4" width="119.9" height="69" rx="3" fill="none" stroke="#555" stroke-width="1.8" /><text x="376.6" y="374.8" font-size="7.2" fill="#333" text-anchor="middle" letter-spacing="0" >GP6000 可燃气体报警控制器</text><rect x="303.25" y="386.4" width="146.45" height="108.5" rx="3" fill="none" stroke="#555" stroke-width="1.8" /><circle cx="322.2" cy="396.4" r="5.7" fill="none" stroke="#555" stroke-width="1.8" /><text x="322.8" y="411.3" font-size="8.2" fill="#333" text-anchor="middle" >主电</text><circle cx="349.6" cy="396.4" r="5.7" fill="none" stroke="#555" stroke-width="1.8" /><text x="350.2" y="411.3" font-size="8.2" fill="#333" text-anchor="middle" >备电</text><circle cx="376.75" cy="396.4" r="5.7" fill="none" stroke="#555" stroke-width="1.8" /><text x="377.35" y="411.3" font-size="8.2" fill="#333" text-anchor="middle" >电源故障</text><circle cx="403.9" cy="396.4" r="5.7" fill="none" stroke="#555" stroke-width="1.8" /><text x="404.5" y="411.3" font-size="8.2" fill="#333" text-anchor="middle" >测试</text><circle cx="429.6" cy="396.4" r="5.7" fill="none" stroke="#555" stroke-width="1.8" /><text x="430.2" y="411.3" font-size="8.2" fill="#333" text-anchor="middle" >消音</text><circle cx="350" cy="426.7" r="8.1" fill="none" stroke="#555" stroke-width="1.8" /><circle cx="323.4" cy="454.1" r="8.1" fill="none" stroke="#555" stroke-width="1.8" /><circle cx="376.4" cy="454.1" r="8.1" fill="none" stroke="#555" stroke-width="1.8" /><circle cx="350" cy="481.3" r="8.1" fill="none" stroke="#555" stroke-width="1.8" /><polygon points="350,436.3 346,442.6 354,442.6" fill="#111" /><polygon points="350,471 346,464.6 354,464.6" fill="#111" /><polygon points="333,454.1 339.6,450 339.6,458.2" fill="#111" /><text x="361.8" y="458.2" font-size="10.5" fill="#111" text-anchor="middle" font-weight="bold" >√</text><rect x="406.5" y="425.3" width="28.9" height="16.6" rx="8.3" fill="none" stroke="#555" stroke-width="1.8" /><rect x="406.5" y="466.4" width="28.9" height="16.1" rx="8.1" fill="none" stroke="#555" stroke-width="1.8" /><text x="421" y="449.4" font-size="8.2" fill="#333" text-anchor="middle" >复位/退出</text><text x="421.7" y="465.2" font-size="8.2" fill="#333" text-anchor="middle" >消音</text><path d="M289.3 509 L289.3 555.8 L296 555.8 L313.2 571 L313.2 509 Z" fill="#fbfbfb" stroke="#555" stroke-width="1.8" /><path d="M461.6 509 L461.6 555.8 L455 555.8 L437.8 571 L437.8 509 Z" fill="#fbfbfb" stroke="#555" stroke-width="1.8" /><line x1="292.8" y1="511.4" x2="292.8" y2="555.8" stroke="#555" stroke-width="1.4" /><line x1="457.8" y1="511.4" x2="457.8" y2="555.8" stroke="#555" stroke-width="1.4" /><line x1="289.3" y1="511.4" x2="461.6" y2="511.4" stroke="#555" stroke-width="1.4" /><line x1="289.3" y1="531.5" x2="313.2" y2="531.5" stroke="#555" stroke-width="1.4" /><line x1="437.8" y1="531.5" x2="461.6" y2="531.5" stroke="#555" stroke-width="1.4" /><rect x="313.2" y="511.4" width="124.6" height="74.8" fill="#fff" stroke="#555" stroke-width="1.8" /><rect x="315.8" y="511.4" width="119" height="74.8" fill="#c3d3e0" /><line x1="315.8" y1="511.4" x2="315.8" y2="586.2" stroke="#555" stroke-width="1.4" /><line x1="434.8" y1="511.4" x2="434.8" y2="586.2" stroke="#555" stroke-width="1.4" /><circle cx="324.4" cy="525.5" r="7.6" fill="none" stroke="#555" stroke-width="1.8" /><line x1="316.8" y1="525.5" x2="332" y2="525.5" stroke="#555" stroke-width="1.2" /><circle cx="344.6" cy="525.5" r="7.6" fill="none" stroke="#555" stroke-width="1.8" /><line x1="337" y1="525.5" x2="352.2" y2="525.5" stroke="#555" stroke-width="1.2" /><circle cx="364.5" cy="525.5" r="7.6" fill="none" stroke="#555" stroke-width="1.8" /><line x1="356.9" y1="525.5" x2="372.1" y2="525.5" stroke="#555" stroke-width="1.2" /><circle cx="384.7" cy="525.5" r="7.6" fill="none" stroke="#555" stroke-width="1.8" /><line x1="377.1" y1="525.5" x2="392.3" y2="525.5" stroke="#555" stroke-width="1.2" /><circle cx="404.6" cy="525.5" r="7.6" fill="none" stroke="#555" stroke-width="1.8" /><line x1="397" y1="525.5" x2="412.2" y2="525.5" stroke="#555" stroke-width="1.2" /><circle cx="424.8" cy="525.5" r="7.6" fill="none" stroke="#555" stroke-width="1.8" /><line x1="417.2" y1="525.5" x2="432.4" y2="525.5" stroke="#555" stroke-width="1.2" /><line x1="315.8" y1="537.2" x2="434.8" y2="537.2" stroke="#555" stroke-width="3.0" /><circle cx="324.4" cy="548.9" r="7.6" fill="none" stroke="#555" stroke-width="1.8" /><line x1="316.8" y1="548.9" x2="332" y2="548.9" stroke="#555" stroke-width="1.2" /><circle cx="344.6" cy="548.9" r="7.6" fill="none" stroke="#555" stroke-width="1.8" /><line x1="337" y1="548.9" x2="352.2" y2="548.9" stroke="#555" stroke-width="1.2" /><circle cx="364.5" cy="548.9" r="7.6" fill="none" stroke="#555" stroke-width="1.8" /><line x1="356.9" y1="548.9" x2="372.1" y2="548.9" stroke="#555" stroke-width="1.2" /><circle cx="384.7" cy="548.9" r="7.6" fill="none" stroke="#555" stroke-width="1.8" /><line x1="377.1" y1="548.9" x2="392.3" y2="548.9" stroke="#555" stroke-width="1.2" /><circle cx="404.6" cy="548.9" r="7.6" fill="none" stroke="#555" stroke-width="1.8" /><line x1="397" y1="548.9" x2="412.2" y2="548.9" stroke="#555" stroke-width="1.2" /><circle cx="424.8" cy="548.9" r="7.6" fill="none" stroke="#555" stroke-width="1.8" /><line x1="417.2" y1="548.9" x2="432.4" y2="548.9" stroke="#555" stroke-width="1.2" /><line x1="315.8" y1="560.5" x2="434.8" y2="560.5" stroke="#555" stroke-width="3.0" /><circle cx="324.4" cy="572.1" r="7.6" fill="none" stroke="#555" stroke-width="1.8" /><line x1="316.8" y1="572.1" x2="332" y2="572.1" stroke="#555" stroke-width="1.2" /><circle cx="344.6" cy="572.1" r="7.6" fill="none" stroke="#555" stroke-width="1.8" /><line x1="337" y1="572.1" x2="352.2" y2="572.1" stroke="#555" stroke-width="1.2" /><circle cx="364.5" cy="572.1" r="7.6" fill="none" stroke="#555" stroke-width="1.8" /><line x1="356.9" y1="572.1" x2="372.1" y2="572.1" stroke="#555" stroke-width="1.2" /><circle cx="384.7" cy="572.1" r="7.6" fill="none" stroke="#555" stroke-width="1.8" /><line x1="377.1" y1="572.1" x2="392.3" y2="572.1" stroke="#555" stroke-width="1.2" /><circle cx="404.6" cy="572.1" r="7.6" fill="none" stroke="#555" stroke-width="1.8" /><line x1="397" y1="572.1" x2="412.2" y2="572.1" stroke="#555" stroke-width="1.2" /><circle cx="424.8" cy="572.1" r="7.6" fill="none" stroke="#555" stroke-width="1.8" /><line x1="417.2" y1="572.1" x2="432.4" y2="572.1" stroke="#555" stroke-width="1.2" /><path d="M334.2 586.2 Q335.5 592.7 342 592.7 L409 592.7 Q415.5 592.7 416.7 586.2" fill="none" stroke="#555" stroke-width="1.8" /></g><g transform="translate(166.85 1385.8) scale(0.2988 0.3075)"><path d="M334.7 88.4 Q336 82.4 342 82.4 L409 82.4 Q415 82.4 416.1 88.4" fill="none" stroke="#555" stroke-width="1.8" /><path d="M289 164.5 L289 121 Q289 119 291 119 L301.5 119.9 L312.9 109.4 L312.9 164.5 Z" fill="#fbfbfb" stroke="#555" stroke-width="1.8" /><path d="M461.1 164.5 L461.1 121 Q461.1 119 459.1 119 L448.6 119.9 L438.5 109.4 L438.5 164.5 Z" fill="#fbfbfb" stroke="#555" stroke-width="1.8" /><line x1="292.8" y1="119.9" x2="292.8" y2="164.5" stroke="#555" stroke-width="1.4" /><line x1="457.3" y1="119.9" x2="457.3" y2="164.5" stroke="#555" stroke-width="1.4" /><line x1="292.8" y1="119.9" x2="312.9" y2="119.9" stroke="#555" stroke-width="1.4" /><line x1="438.5" y1="119.9" x2="457.3" y2="119.9" stroke="#555" stroke-width="1.4" /><line x1="289" y1="143.5" x2="312.9" y2="143.5" stroke="#555" stroke-width="1.4" /><line x1="438.5" y1="143.5" x2="461.1" y2="143.5" stroke="#555" stroke-width="1.4" /><rect x="312.9" y="88.4" width="125.6" height="74.4" fill="#fff" stroke="#555" stroke-width="1.8" /><rect x="315.5" y="88.4" width="120" height="74.4" fill="#c3d3e0" /><line x1="315.5" y1="88.4" x2="315.5" y2="162.8" stroke="#555" stroke-width="1.4" /><line x1="435.5" y1="88.4" x2="435.5" y2="162.8" stroke="#555" stroke-width="1.4" /><circle cx="324.6" cy="102.9" r="7.6" fill="none" stroke="#555" stroke-width="1.8" /><line x1="317" y1="102.9" x2="332.2" y2="102.9" stroke="#555" stroke-width="1.2" /><circle cx="344.7" cy="102.9" r="7.6" fill="none" stroke="#555" stroke-width="1.8" /><line x1="337.1" y1="102.9" x2="352.3" y2="102.9" stroke="#555" stroke-width="1.2" /><circle cx="364.6" cy="102.9" r="7.6" fill="none" stroke="#555" stroke-width="1.8" /><line x1="357" y1="102.9" x2="372.2" y2="102.9" stroke="#555" stroke-width="1.2" /><circle cx="384.7" cy="102.9" r="7.6" fill="none" stroke="#555" stroke-width="1.8" /><line x1="377.1" y1="102.9" x2="392.3" y2="102.9" stroke="#555" stroke-width="1.2" /><circle cx="404.8" cy="102.9" r="7.6" fill="none" stroke="#555" stroke-width="1.8" /><line x1="397.2" y1="102.9" x2="412.4" y2="102.9" stroke="#555" stroke-width="1.2" /><circle cx="424.9" cy="102.9" r="7.6" fill="none" stroke="#555" stroke-width="1.8" /><line x1="417.3" y1="102.9" x2="432.5" y2="102.9" stroke="#555" stroke-width="1.2" /><line x1="315.5" y1="114.45" x2="435.5" y2="114.45" stroke="#555" stroke-width="3.0" /><circle cx="324.6" cy="126" r="7.6" fill="none" stroke="#555" stroke-width="1.8" /><line x1="317" y1="126" x2="332.2" y2="126" stroke="#555" stroke-width="1.2" /><circle cx="344.7" cy="126" r="7.6" fill="none" stroke="#555" stroke-width="1.8" /><line x1="337.1" y1="126" x2="352.3" y2="126" stroke="#555" stroke-width="1.2" /><circle cx="364.6" cy="126" r="7.6" fill="none" stroke="#555" stroke-width="1.8" /><line x1="357" y1="126" x2="372.2" y2="126" stroke="#555" stroke-width="1.2" /><circle cx="384.7" cy="126" r="7.6" fill="none" stroke="#555" stroke-width="1.8" /><line x1="377.1" y1="126" x2="392.3" y2="126" stroke="#555" stroke-width="1.2" /><circle cx="404.8" cy="126" r="7.6" fill="none" stroke="#555" stroke-width="1.8" /><line x1="397.2" y1="126" x2="412.4" y2="126" stroke="#555" stroke-width="1.2" /><circle cx="424.9" cy="126" r="7.6" fill="none" stroke="#555" stroke-width="1.8" /><line x1="417.3" y1="126" x2="432.5" y2="126" stroke="#555" stroke-width="1.2" /><line x1="315.5" y1="137.55" x2="435.5" y2="137.55" stroke="#555" stroke-width="3.0" /><circle cx="324.6" cy="149.1" r="7.6" fill="none" stroke="#555" stroke-width="1.8" /><line x1="317" y1="149.1" x2="332.2" y2="149.1" stroke="#555" stroke-width="1.2" /><circle cx="344.7" cy="149.1" r="7.6" fill="none" stroke="#555" stroke-width="1.8" /><line x1="337.1" y1="149.1" x2="352.3" y2="149.1" stroke="#555" stroke-width="1.2" /><circle cx="364.6" cy="149.1" r="7.6" fill="none" stroke="#555" stroke-width="1.8" /><line x1="357" y1="149.1" x2="372.2" y2="149.1" stroke="#555" stroke-width="1.2" /><circle cx="384.7" cy="149.1" r="7.6" fill="none" stroke="#555" stroke-width="1.8" /><line x1="377.1" y1="149.1" x2="392.3" y2="149.1" stroke="#555" stroke-width="1.2" /><circle cx="404.8" cy="149.1" r="7.6" fill="none" stroke="#555" stroke-width="1.8" /><line x1="397.2" y1="149.1" x2="412.4" y2="149.1" stroke="#555" stroke-width="1.2" /><circle cx="424.9" cy="149.1" r="7.6" fill="none" stroke="#555" stroke-width="1.8" /><line x1="417.3" y1="149.1" x2="432.5" y2="149.1" stroke="#555" stroke-width="1.2" /><rect x="289" y="164.5" width="172.1" height="344.5" fill="#fbfbfb" stroke="#555" stroke-width="1.8" /><rect x="292.8" y="167.1" width="164.5" height="339.8" rx="7" fill="#fbfbfb" stroke="#555" stroke-width="1.8" /><rect x="296.6" y="171.2" width="156.9" height="330.8" rx="5" fill="none" stroke="#555" stroke-width="1.4" /><text x="303" y="191.5" font-size="13.2" fill="#111" font-weight="bold" textLength="68" lengthAdjust="spacingAndGlyphs">intersense</text><text x="342.5" y="183.5" font-size="8" fill="#111" text-anchor="middle" font-weight="bold" >»</text><rect x="303.25" y="193.9" width="56.35" height="85.6" rx="3" fill="none" stroke="#555" stroke-width="1.8" /><rect x="310.6" y="203" width="26.8" height="68.3" fill="none" stroke="#555" stroke-width="1.8" /><circle cx="350" cy="206.9" r="5.7" fill="none" stroke="#555" stroke-width="1.8" /><circle cx="350" cy="227" r="5.7" fill="none" stroke="#555" stroke-width="1.8" /><circle cx="350" cy="247.6" r="5.7" fill="none" stroke="#555" stroke-width="1.8" /><circle cx="350" cy="268.3" r="5.7" fill="none" stroke="#555" stroke-width="1.8" /><text x="324.5" y="231" font-size="16" fill="#111" text-anchor="middle" >5</text><text x="324" y="253" font-size="14.5" fill="#111" text-anchor="middle" >路</text><rect x="393.4" y="193.9" width="56.3" height="85.6" rx="3" fill="none" stroke="#555" stroke-width="1.8" /><rect x="415.3" y="203" width="26.6" height="68.3" fill="none" stroke="#555" stroke-width="1.8" /><circle cx="402.5" cy="206.9" r="5.7" fill="none" stroke="#555" stroke-width="1.8" /><circle cx="402.5" cy="227" r="5.7" fill="none" stroke="#555" stroke-width="1.8" /><circle cx="402.5" cy="247.6" r="5.7" fill="none" stroke="#555" stroke-width="1.8" /><circle cx="402.5" cy="268.3" r="5.7" fill="none" stroke="#555" stroke-width="1.8" /><text x="429.1" y="231" font-size="16" fill="#111" text-anchor="middle" >6</text><text x="428.6" y="253" font-size="14.5" fill="#111" text-anchor="middle" >路</text><text x="377.3" y="209.7" font-size="7.6" fill="#333" text-anchor="middle" >报警 I</text><text x="377.3" y="229.8" font-size="7.6" fill="#333" text-anchor="middle" >报警 II</text><text x="377.3" y="250.4" font-size="7.6" fill="#333" text-anchor="middle" >故 障</text><text x="377.3" y="271.1" font-size="7.6" fill="#333" text-anchor="middle" >在 线</text><rect x="316.4" y="288.4" width="119.9" height="69" rx="3" fill="none" stroke="#555" stroke-width="1.8" /><text x="376.6" y="374.8" font-size="7.2" fill="#333" text-anchor="middle" letter-spacing="0" >GP6000 可燃气体报警控制器</text><rect x="303.25" y="386.4" width="146.45" height="108.5" rx="3" fill="none" stroke="#555" stroke-width="1.8" /><circle cx="322.2" cy="396.4" r="5.7" fill="none" stroke="#555" stroke-width="1.8" /><text x="322.8" y="411.3" font-size="8.2" fill="#333" text-anchor="middle" >主电</text><circle cx="349.6" cy="396.4" r="5.7" fill="none" stroke="#555" stroke-width="1.8" /><text x="350.2" y="411.3" font-size="8.2" fill="#333" text-anchor="middle" >备电</text><circle cx="376.75" cy="396.4" r="5.7" fill="none" stroke="#555" stroke-width="1.8" /><text x="377.35" y="411.3" font-size="8.2" fill="#333" text-anchor="middle" >电源故障</text><circle cx="403.9" cy="396.4" r="5.7" fill="none" stroke="#555" stroke-width="1.8" /><text x="404.5" y="411.3" font-size="8.2" fill="#333" text-anchor="middle" >测试</text><circle cx="429.6" cy="396.4" r="5.7" fill="none" stroke="#555" stroke-width="1.8" /><text x="430.2" y="411.3" font-size="8.2" fill="#333" text-anchor="middle" >消音</text><circle cx="350" cy="426.7" r="8.1" fill="none" stroke="#555" stroke-width="1.8" /><circle cx="323.4" cy="454.1" r="8.1" fill="none" stroke="#555" stroke-width="1.8" /><circle cx="376.4" cy="454.1" r="8.1" fill="none" stroke="#555" stroke-width="1.8" /><circle cx="350" cy="481.3" r="8.1" fill="none" stroke="#555" stroke-width="1.8" /><polygon points="350,436.3 346,442.6 354,442.6" fill="#111" /><polygon points="350,471 346,464.6 354,464.6" fill="#111" /><polygon points="333,454.1 339.6,450 339.6,458.2" fill="#111" /><text x="361.8" y="458.2" font-size="10.5" fill="#111" text-anchor="middle" font-weight="bold" >√</text><rect x="406.5" y="425.3" width="28.9" height="16.6" rx="8.3" fill="none" stroke="#555" stroke-width="1.8" /><rect x="406.5" y="466.4" width="28.9" height="16.1" rx="8.1" fill="none" stroke="#555" stroke-width="1.8" /><text x="421" y="449.4" font-size="8.2" fill="#333" text-anchor="middle" >复位/退出</text><text x="421.7" y="465.2" font-size="8.2" fill="#333" text-anchor="middle" >消音</text><path d="M289.3 509 L289.3 555.8 L296 555.8 L313.2 571 L313.2 509 Z" fill="#fbfbfb" stroke="#555" stroke-width="1.8" /><path d="M461.6 509 L461.6 555.8 L455 555.8 L437.8 571 L437.8 509 Z" fill="#fbfbfb" stroke="#555" stroke-width="1.8" /><line x1="292.8" y1="511.4" x2="292.8" y2="555.8" stroke="#555" stroke-width="1.4" /><line x1="457.8" y1="511.4" x2="457.8" y2="555.8" stroke="#555" stroke-width="1.4" /><line x1="289.3" y1="511.4" x2="461.6" y2="511.4" stroke="#555" stroke-width="1.4" /><line x1="289.3" y1="531.5" x2="313.2" y2="531.5" stroke="#555" stroke-width="1.4" /><line x1="437.8" y1="531.5" x2="461.6" y2="531.5" stroke="#555" stroke-width="1.4" /><rect x="313.2" y="511.4" width="124.6" height="74.8" fill="#fff" stroke="#555" stroke-width="1.8" /><rect x="315.8" y="511.4" width="119" height="74.8" fill="#c3d3e0" /><line x1="315.8" y1="511.4" x2="315.8" y2="586.2" stroke="#555" stroke-width="1.4" /><line x1="434.8" y1="511.4" x2="434.8" y2="586.2" stroke="#555" stroke-width="1.4" /><circle cx="324.4" cy="525.5" r="7.6" fill="none" stroke="#555" stroke-width="1.8" /><line x1="316.8" y1="525.5" x2="332" y2="525.5" stroke="#555" stroke-width="1.2" /><circle cx="344.6" cy="525.5" r="7.6" fill="none" stroke="#555" stroke-width="1.8" /><line x1="337" y1="525.5" x2="352.2" y2="525.5" stroke="#555" stroke-width="1.2" /><circle cx="364.5" cy="525.5" r="7.6" fill="none" stroke="#555" stroke-width="1.8" /><line x1="356.9" y1="525.5" x2="372.1" y2="525.5" stroke="#555" stroke-width="1.2" /><circle cx="384.7" cy="525.5" r="7.6" fill="none" stroke="#555" stroke-width="1.8" /><line x1="377.1" y1="525.5" x2="392.3" y2="525.5" stroke="#555" stroke-width="1.2" /><circle cx="404.6" cy="525.5" r="7.6" fill="none" stroke="#555" stroke-width="1.8" /><line x1="397" y1="525.5" x2="412.2" y2="525.5" stroke="#555" stroke-width="1.2" /><circle cx="424.8" cy="525.5" r="7.6" fill="none" stroke="#555" stroke-width="1.8" /><line x1="417.2" y1="525.5" x2="432.4" y2="525.5" stroke="#555" stroke-width="1.2" /><line x1="315.8" y1="537.2" x2="434.8" y2="537.2" stroke="#555" stroke-width="3.0" /><circle cx="324.4" cy="548.9" r="7.6" fill="none" stroke="#555" stroke-width="1.8" /><line x1="316.8" y1="548.9" x2="332" y2="548.9" stroke="#555" stroke-width="1.2" /><circle cx="344.6" cy="548.9" r="7.6" fill="none" stroke="#555" stroke-width="1.8" /><line x1="337" y1="548.9" x2="352.2" y2="548.9" stroke="#555" stroke-width="1.2" /><circle cx="364.5" cy="548.9" r="7.6" fill="none" stroke="#555" stroke-width="1.8" /><line x1="356.9" y1="548.9" x2="372.1" y2="548.9" stroke="#555" stroke-width="1.2" /><circle cx="384.7" cy="548.9" r="7.6" fill="none" stroke="#555" stroke-width="1.8" /><line x1="377.1" y1="548.9" x2="392.3" y2="548.9" stroke="#555" stroke-width="1.2" /><circle cx="404.6" cy="548.9" r="7.6" fill="none" stroke="#555" stroke-width="1.8" /><line x1="397" y1="548.9" x2="412.2" y2="548.9" stroke="#555" stroke-width="1.2" /><circle cx="424.8" cy="548.9" r="7.6" fill="none" stroke="#555" stroke-width="1.8" /><line x1="417.2" y1="548.9" x2="432.4" y2="548.9" stroke="#555" stroke-width="1.2" /><line x1="315.8" y1="560.5" x2="434.8" y2="560.5" stroke="#555" stroke-width="3.0" /><circle cx="324.4" cy="572.1" r="7.6" fill="none" stroke="#555" stroke-width="1.8" /><line x1="316.8" y1="572.1" x2="332" y2="572.1" stroke="#555" stroke-width="1.2" /><circle cx="344.6" cy="572.1" r="7.6" fill="none" stroke="#555" stroke-width="1.8" /><line x1="337" y1="572.1" x2="352.2" y2="572.1" stroke="#555" stroke-width="1.2" /><circle cx="364.5" cy="572.1" r="7.6" fill="none" stroke="#555" stroke-width="1.8" /><line x1="356.9" y1="572.1" x2="372.1" y2="572.1" stroke="#555" stroke-width="1.2" /><circle cx="384.7" cy="572.1" r="7.6" fill="none" stroke="#555" stroke-width="1.8" /><line x1="377.1" y1="572.1" x2="392.3" y2="572.1" stroke="#555" stroke-width="1.2" /><circle cx="404.6" cy="572.1" r="7.6" fill="none" stroke="#555" stroke-width="1.8" /><line x1="397" y1="572.1" x2="412.2" y2="572.1" stroke="#555" stroke-width="1.2" /><circle cx="424.8" cy="572.1" r="7.6" fill="none" stroke="#555" stroke-width="1.8" /><line x1="417.2" y1="572.1" x2="432.4" y2="572.1" stroke="#555" stroke-width="1.2" /><path d="M334.2 586.2 Q335.5 592.7 342 592.7 L409 592.7 Q415.5 592.7 416.7 586.2" fill="none" stroke="#555" stroke-width="1.8" /></g><g transform="translate(219.35 1385.8) scale(0.2988 0.3075)"><path d="M334.7 88.4 Q336 82.4 342 82.4 L409 82.4 Q415 82.4 416.1 88.4" fill="none" stroke="#555" stroke-width="1.8" /><path d="M289 164.5 L289 121 Q289 119 291 119 L301.5 119.9 L312.9 109.4 L312.9 164.5 Z" fill="#fbfbfb" stroke="#555" stroke-width="1.8" /><path d="M461.1 164.5 L461.1 121 Q461.1 119 459.1 119 L448.6 119.9 L438.5 109.4 L438.5 164.5 Z" fill="#fbfbfb" stroke="#555" stroke-width="1.8" /><line x1="292.8" y1="119.9" x2="292.8" y2="164.5" stroke="#555" stroke-width="1.4" /><line x1="457.3" y1="119.9" x2="457.3" y2="164.5" stroke="#555" stroke-width="1.4" /><line x1="292.8" y1="119.9" x2="312.9" y2="119.9" stroke="#555" stroke-width="1.4" /><line x1="438.5" y1="119.9" x2="457.3" y2="119.9" stroke="#555" stroke-width="1.4" /><line x1="289" y1="143.5" x2="312.9" y2="143.5" stroke="#555" stroke-width="1.4" /><line x1="438.5" y1="143.5" x2="461.1" y2="143.5" stroke="#555" stroke-width="1.4" /><rect x="312.9" y="88.4" width="125.6" height="74.4" fill="#fff" stroke="#555" stroke-width="1.8" /><rect x="315.5" y="88.4" width="120" height="74.4" fill="#c3d3e0" /><line x1="315.5" y1="88.4" x2="315.5" y2="162.8" stroke="#555" stroke-width="1.4" /><line x1="435.5" y1="88.4" x2="435.5" y2="162.8" stroke="#555" stroke-width="1.4" /><circle cx="324.6" cy="102.9" r="7.6" fill="none" stroke="#555" stroke-width="1.8" /><line x1="317" y1="102.9" x2="332.2" y2="102.9" stroke="#555" stroke-width="1.2" /><circle cx="344.7" cy="102.9" r="7.6" fill="none" stroke="#555" stroke-width="1.8" /><line x1="337.1" y1="102.9" x2="352.3" y2="102.9" stroke="#555" stroke-width="1.2" /><circle cx="364.6" cy="102.9" r="7.6" fill="none" stroke="#555" stroke-width="1.8" /><line x1="357" y1="102.9" x2="372.2" y2="102.9" stroke="#555" stroke-width="1.2" /><circle cx="384.7" cy="102.9" r="7.6" fill="none" stroke="#555" stroke-width="1.8" /><line x1="377.1" y1="102.9" x2="392.3" y2="102.9" stroke="#555" stroke-width="1.2" /><circle cx="404.8" cy="102.9" r="7.6" fill="none" stroke="#555" stroke-width="1.8" /><line x1="397.2" y1="102.9" x2="412.4" y2="102.9" stroke="#555" stroke-width="1.2" /><circle cx="424.9" cy="102.9" r="7.6" fill="none" stroke="#555" stroke-width="1.8" /><line x1="417.3" y1="102.9" x2="432.5" y2="102.9" stroke="#555" stroke-width="1.2" /><line x1="315.5" y1="114.45" x2="435.5" y2="114.45" stroke="#555" stroke-width="3.0" /><circle cx="324.6" cy="126" r="7.6" fill="none" stroke="#555" stroke-width="1.8" /><line x1="317" y1="126" x2="332.2" y2="126" stroke="#555" stroke-width="1.2" /><circle cx="344.7" cy="126" r="7.6" fill="none" stroke="#555" stroke-width="1.8" /><line x1="337.1" y1="126" x2="352.3" y2="126" stroke="#555" stroke-width="1.2" /><circle cx="364.6" cy="126" r="7.6" fill="none" stroke="#555" stroke-width="1.8" /><line x1="357" y1="126" x2="372.2" y2="126" stroke="#555" stroke-width="1.2" /><circle cx="384.7" cy="126" r="7.6" fill="none" stroke="#555" stroke-width="1.8" /><line x1="377.1" y1="126" x2="392.3" y2="126" stroke="#555" stroke-width="1.2" /><circle cx="404.8" cy="126" r="7.6" fill="none" stroke="#555" stroke-width="1.8" /><line x1="397.2" y1="126" x2="412.4" y2="126" stroke="#555" stroke-width="1.2" /><circle cx="424.9" cy="126" r="7.6" fill="none" stroke="#555" stroke-width="1.8" /><line x1="417.3" y1="126" x2="432.5" y2="126" stroke="#555" stroke-width="1.2" /><line x1="315.5" y1="137.55" x2="435.5" y2="137.55" stroke="#555" stroke-width="3.0" /><circle cx="324.6" cy="149.1" r="7.6" fill="none" stroke="#555" stroke-width="1.8" /><line x1="317" y1="149.1" x2="332.2" y2="149.1" stroke="#555" stroke-width="1.2" /><circle cx="344.7" cy="149.1" r="7.6" fill="none" stroke="#555" stroke-width="1.8" /><line x1="337.1" y1="149.1" x2="352.3" y2="149.1" stroke="#555" stroke-width="1.2" /><circle cx="364.6" cy="149.1" r="7.6" fill="none" stroke="#555" stroke-width="1.8" /><line x1="357" y1="149.1" x2="372.2" y2="149.1" stroke="#555" stroke-width="1.2" /><circle cx="384.7" cy="149.1" r="7.6" fill="none" stroke="#555" stroke-width="1.8" /><line x1="377.1" y1="149.1" x2="392.3" y2="149.1" stroke="#555" stroke-width="1.2" /><circle cx="404.8" cy="149.1" r="7.6" fill="none" stroke="#555" stroke-width="1.8" /><line x1="397.2" y1="149.1" x2="412.4" y2="149.1" stroke="#555" stroke-width="1.2" /><circle cx="424.9" cy="149.1" r="7.6" fill="none" stroke="#555" stroke-width="1.8" /><line x1="417.3" y1="149.1" x2="432.5" y2="149.1" stroke="#555" stroke-width="1.2" /><rect x="289" y="164.5" width="172.1" height="344.5" fill="#fbfbfb" stroke="#555" stroke-width="1.8" /><rect x="292.8" y="167.1" width="164.5" height="339.8" rx="7" fill="#fbfbfb" stroke="#555" stroke-width="1.8" /><rect x="296.6" y="171.2" width="156.9" height="330.8" rx="5" fill="none" stroke="#555" stroke-width="1.4" /><text x="303" y="191.5" font-size="13.2" fill="#111" font-weight="bold" textLength="68" lengthAdjust="spacingAndGlyphs">intersense</text><text x="342.5" y="183.5" font-size="8" fill="#111" text-anchor="middle" font-weight="bold" >»</text><rect x="303.25" y="193.9" width="56.35" height="85.6" rx="3" fill="none" stroke="#555" stroke-width="1.8" /><rect x="310.6" y="203" width="26.8" height="68.3" fill="none" stroke="#555" stroke-width="1.8" /><circle cx="350" cy="206.9" r="5.7" fill="none" stroke="#555" stroke-width="1.8" /><circle cx="350" cy="227" r="5.7" fill="none" stroke="#555" stroke-width="1.8" /><circle cx="350" cy="247.6" r="5.7" fill="none" stroke="#555" stroke-width="1.8" /><circle cx="350" cy="268.3" r="5.7" fill="none" stroke="#555" stroke-width="1.8" /><text x="324.5" y="231" font-size="16" fill="#111" text-anchor="middle" >7</text><text x="324" y="253" font-size="14.5" fill="#111" text-anchor="middle" >路</text><rect x="393.4" y="193.9" width="56.3" height="85.6" rx="3" fill="none" stroke="#555" stroke-width="1.8" /><rect x="415.3" y="203" width="26.6" height="68.3" fill="none" stroke="#555" stroke-width="1.8" /><circle cx="402.5" cy="206.9" r="5.7" fill="none" stroke="#555" stroke-width="1.8" /><circle cx="402.5" cy="227" r="5.7" fill="none" stroke="#555" stroke-width="1.8" /><circle cx="402.5" cy="247.6" r="5.7" fill="none" stroke="#555" stroke-width="1.8" /><circle cx="402.5" cy="268.3" r="5.7" fill="none" stroke="#555" stroke-width="1.8" /><text x="429.1" y="231" font-size="16" fill="#111" text-anchor="middle" >8</text><text x="428.6" y="253" font-size="14.5" fill="#111" text-anchor="middle" >路</text><text x="377.3" y="209.7" font-size="7.6" fill="#333" text-anchor="middle" >报警 I</text><text x="377.3" y="229.8" font-size="7.6" fill="#333" text-anchor="middle" >报警 II</text><text x="377.3" y="250.4" font-size="7.6" fill="#333" text-anchor="middle" >故 障</text><text x="377.3" y="271.1" font-size="7.6" fill="#333" text-anchor="middle" >在 线</text><rect x="316.4" y="288.4" width="119.9" height="69" rx="3" fill="none" stroke="#555" stroke-width="1.8" /><text x="376.6" y="374.8" font-size="7.2" fill="#333" text-anchor="middle" letter-spacing="0" >GP6000 可燃气体报警控制器</text><rect x="303.25" y="386.4" width="146.45" height="108.5" rx="3" fill="none" stroke="#555" stroke-width="1.8" /><circle cx="322.2" cy="396.4" r="5.7" fill="none" stroke="#555" stroke-width="1.8" /><text x="322.8" y="411.3" font-size="8.2" fill="#333" text-anchor="middle" >主电</text><circle cx="349.6" cy="396.4" r="5.7" fill="none" stroke="#555" stroke-width="1.8" /><text x="350.2" y="411.3" font-size="8.2" fill="#333" text-anchor="middle" >备电</text><circle cx="376.75" cy="396.4" r="5.7" fill="none" stroke="#555" stroke-width="1.8" /><text x="377.35" y="411.3" font-size="8.2" fill="#333" text-anchor="middle" >电源故障</text><circle cx="403.9" cy="396.4" r="5.7" fill="none" stroke="#555" stroke-width="1.8" /><text x="404.5" y="411.3" font-size="8.2" fill="#333" text-anchor="middle" >测试</text><circle cx="429.6" cy="396.4" r="5.7" fill="none" stroke="#555" stroke-width="1.8" /><text x="430.2" y="411.3" font-size="8.2" fill="#333" text-anchor="middle" >消音</text><circle cx="350" cy="426.7" r="8.1" fill="none" stroke="#555" stroke-width="1.8" /><circle cx="323.4" cy="454.1" r="8.1" fill="none" stroke="#555" stroke-width="1.8" /><circle cx="376.4" cy="454.1" r="8.1" fill="none" stroke="#555" stroke-width="1.8" /><circle cx="350" cy="481.3" r="8.1" fill="none" stroke="#555" stroke-width="1.8" /><polygon points="350,436.3 346,442.6 354,442.6" fill="#111" /><polygon points="350,471 346,464.6 354,464.6" fill="#111" /><polygon points="333,454.1 339.6,450 339.6,458.2" fill="#111" /><text x="361.8" y="458.2" font-size="10.5" fill="#111" text-anchor="middle" font-weight="bold" >√</text><rect x="406.5" y="425.3" width="28.9" height="16.6" rx="8.3" fill="none" stroke="#555" stroke-width="1.8" /><rect x="406.5" y="466.4" width="28.9" height="16.1" rx="8.1" fill="none" stroke="#555" stroke-width="1.8" /><text x="421" y="449.4" font-size="8.2" fill="#333" text-anchor="middle" >复位/退出</text><text x="421.7" y="465.2" font-size="8.2" fill="#333" text-anchor="middle" >消音</text><path d="M289.3 509 L289.3 555.8 L296 555.8 L313.2 571 L313.2 509 Z" fill="#fbfbfb" stroke="#555" stroke-width="1.8" /><path d="M461.6 509 L461.6 555.8 L455 555.8 L437.8 571 L437.8 509 Z" fill="#fbfbfb" stroke="#555" stroke-width="1.8" /><line x1="292.8" y1="511.4" x2="292.8" y2="555.8" stroke="#555" stroke-width="1.4" /><line x1="457.8" y1="511.4" x2="457.8" y2="555.8" stroke="#555" stroke-width="1.4" /><line x1="289.3" y1="511.4" x2="461.6" y2="511.4" stroke="#555" stroke-width="1.4" /><line x1="289.3" y1="531.5" x2="313.2" y2="531.5" stroke="#555" stroke-width="1.4" /><line x1="437.8" y1="531.5" x2="461.6" y2="531.5" stroke="#555" stroke-width="1.4" /><rect x="313.2" y="511.4" width="124.6" height="74.8" fill="#fff" stroke="#555" stroke-width="1.8" /><rect x="315.8" y="511.4" width="119" height="74.8" fill="#c3d3e0" /><line x1="315.8" y1="511.4" x2="315.8" y2="586.2" stroke="#555" stroke-width="1.4" /><line x1="434.8" y1="511.4" x2="434.8" y2="586.2" stroke="#555" stroke-width="1.4" /><circle cx="324.4" cy="525.5" r="7.6" fill="none" stroke="#555" stroke-width="1.8" /><line x1="316.8" y1="525.5" x2="332" y2="525.5" stroke="#555" stroke-width="1.2" /><circle cx="344.6" cy="525.5" r="7.6" fill="none" stroke="#555" stroke-width="1.8" /><line x1="337" y1="525.5" x2="352.2" y2="525.5" stroke="#555" stroke-width="1.2" /><circle cx="364.5" cy="525.5" r="7.6" fill="none" stroke="#555" stroke-width="1.8" /><line x1="356.9" y1="525.5" x2="372.1" y2="525.5" stroke="#555" stroke-width="1.2" /><circle cx="384.7" cy="525.5" r="7.6" fill="none" stroke="#555" stroke-width="1.8" /><line x1="377.1" y1="525.5" x2="392.3" y2="525.5" stroke="#555" stroke-width="1.2" /><circle cx="404.6" cy="525.5" r="7.6" fill="none" stroke="#555" stroke-width="1.8" /><line x1="397" y1="525.5" x2="412.2" y2="525.5" stroke="#555" stroke-width="1.2" /><circle cx="424.8" cy="525.5" r="7.6" fill="none" stroke="#555" stroke-width="1.8" /><line x1="417.2" y1="525.5" x2="432.4" y2="525.5" stroke="#555" stroke-width="1.2" /><line x1="315.8" y1="537.2" x2="434.8" y2="537.2" stroke="#555" stroke-width="3.0" /><circle cx="324.4" cy="548.9" r="7.6" fill="none" stroke="#555" stroke-width="1.8" /><line x1="316.8" y1="548.9" x2="332" y2="548.9" stroke="#555" stroke-width="1.2" /><circle cx="344.6" cy="548.9" r="7.6" fill="none" stroke="#555" stroke-width="1.8" /><line x1="337" y1="548.9" x2="352.2" y2="548.9" stroke="#555" stroke-width="1.2" /><circle cx="364.5" cy="548.9" r="7.6" fill="none" stroke="#555" stroke-width="1.8" /><line x1="356.9" y1="548.9" x2="372.1" y2="548.9" stroke="#555" stroke-width="1.2" /><circle cx="384.7" cy="548.9" r="7.6" fill="none" stroke="#555" stroke-width="1.8" /><line x1="377.1" y1="548.9" x2="392.3" y2="548.9" stroke="#555" stroke-width="1.2" /><circle cx="404.6" cy="548.9" r="7.6" fill="none" stroke="#555" stroke-width="1.8" /><line x1="397" y1="548.9" x2="412.2" y2="548.9" stroke="#555" stroke-width="1.2" /><circle cx="424.8" cy="548.9" r="7.6" fill="none" stroke="#555" stroke-width="1.8" /><line x1="417.2" y1="548.9" x2="432.4" y2="548.9" stroke="#555" stroke-width="1.2" /><line x1="315.8" y1="560.5" x2="434.8" y2="560.5" stroke="#555" stroke-width="3.0" /><circle cx="324.4" cy="572.1" r="7.6" fill="none" stroke="#555" stroke-width="1.8" /><line x1="316.8" y1="572.1" x2="332" y2="572.1" stroke="#555" stroke-width="1.2" /><circle cx="344.6" cy="572.1" r="7.6" fill="none" stroke="#555" stroke-width="1.8" /><line x1="337" y1="572.1" x2="352.2" y2="572.1" stroke="#555" stroke-width="1.2" /><circle cx="364.5" cy="572.1" r="7.6" fill="none" stroke="#555" stroke-width="1.8" /><line x1="356.9" y1="572.1" x2="372.1" y2="572.1" stroke="#555" stroke-width="1.2" /><circle cx="384.7" cy="572.1" r="7.6" fill="none" stroke="#555" stroke-width="1.8" /><line x1="377.1" y1="572.1" x2="392.3" y2="572.1" stroke="#555" stroke-width="1.2" /><circle cx="404.6" cy="572.1" r="7.6" fill="none" stroke="#555" stroke-width="1.8" /><line x1="397" y1="572.1" x2="412.2" y2="572.1" stroke="#555" stroke-width="1.2" /><circle cx="424.8" cy="572.1" r="7.6" fill="none" stroke="#555" stroke-width="1.8" /><line x1="417.2" y1="572.1" x2="432.4" y2="572.1" stroke="#555" stroke-width="1.2" /><path d="M334.2 586.2 Q335.5 592.7 342 592.7 L409 592.7 Q415.5 592.7 416.7 586.2" fill="none" stroke="#555" stroke-width="1.8" /></g><circle cx="107" cy="1591.2" r="10.3" fill="#f8f8f8" stroke="#4d4d4d" stroke-width="0.8" /><circle cx="179.25" cy="1591.2" r="10.3" fill="#f8f8f8" stroke="#4d4d4d" stroke-width="0.8" /><circle cx="251.9" cy="1591.2" r="10.3" fill="#f8f8f8" stroke="#4d4d4d" stroke-width="0.8" /><circle cx="324.5" cy="1591.2" r="10.3" fill="#f8f8f8" stroke="#4d4d4d" stroke-width="0.8" /><circle cx="396.7" cy="1591.2" r="10.3" fill="#f8f8f8" stroke="#4d4d4d" stroke-width="0.8" /><rect x="92.3" y="1617.6" width="313.6" height="103.4" fill="#f8f8f8" stroke="#4d4d4d" stroke-width="0.9" /><line x1="249.3" y1="1617.6" x2="249.3" y2="1721" stroke="#4d4d4d" stroke-width="0.8" /><rect x="267.6" y="1614.6" width="4" height="3" rx="1" fill="#fff" stroke="#4d4d4d" stroke-width="0.6" /><rect x="272.4" y="1614.6" width="4" height="3" rx="1" fill="#fff" stroke="#4d4d4d" stroke-width="0.6" /><path d="M104.4 1604 L187.7 1604 L187.7 1632.2 L107 1632.2 L107 1661.6 L78.8 1661.6 L78.8 1629.7 L92.3 1629.7 L92.3 1617.6 L104.4 1617.6 Z" fill="#f8f8f8" stroke="#4d4d4d" stroke-width="0.9" /><line x1="104.4" y1="1617.6" x2="187.7" y2="1617.6" stroke="#4d4d4d" stroke-width="0.7" /><line x1="92.3" y1="1617.6" x2="107" y2="1632.2" stroke="#4d4d4d" stroke-width="0.7" /><line x1="92.3" y1="1629.7" x2="92.3" y2="1661.6" stroke="#4d4d4d" stroke-width="0.7" /><path d="M393.8 1604 L310.5 1604 L310.5 1632.2 L391.2 1632.2 L391.2 1661.6 L419.4 1661.6 L419.4 1629.7 L405.9 1629.7 L405.9 1617.6 L393.8 1617.6 Z" fill="#f8f8f8" stroke="#4d4d4d" stroke-width="0.9" /><line x1="393.8" y1="1617.6" x2="310.5" y2="1617.6" stroke="#4d4d4d" stroke-width="0.7" /><line x1="405.9" y1="1617.6" x2="391.2" y2="1632.2" stroke="#4d4d4d" stroke-width="0.7" /><line x1="405.9" y1="1629.7" x2="405.9" y2="1661.6" stroke="#4d4d4d" stroke-width="0.7" /><rect x="112.4" y="1606.2" width="5.2" height="8.4" rx="2.6" fill="#fff" stroke="#4d4d4d" stroke-width="0.7" /><circle cx="115" cy="1610.4" r="1.7" fill="none" stroke="#4d4d4d" stroke-width="0.9" /><rect x="174.4" y="1606.2" width="5.2" height="8.4" rx="2.6" fill="#fff" stroke="#4d4d4d" stroke-width="0.7" /><circle cx="177" cy="1610.4" r="1.7" fill="none" stroke="#4d4d4d" stroke-width="0.9" /><rect x="318.9" y="1606.2" width="5.2" height="8.4" rx="2.6" fill="#fff" stroke="#4d4d4d" stroke-width="0.7" /><circle cx="321.5" cy="1610.4" r="1.7" fill="none" stroke="#4d4d4d" stroke-width="0.9" /><rect x="380.5" y="1606.2" width="5.2" height="8.4" rx="2.6" fill="#fff" stroke="#4d4d4d" stroke-width="0.7" /><circle cx="383.1" cy="1610.4" r="1.7" fill="none" stroke="#4d4d4d" stroke-width="0.9" /><rect x="80.8" y="1642.8" width="8.4" height="5.2" rx="2.6" fill="#fff" stroke="#4d4d4d" stroke-width="0.7" /><circle cx="85" cy="1645.4" r="1.7" fill="none" stroke="#4d4d4d" stroke-width="0.9" /><rect x="409" y="1642.8" width="8.4" height="5.2" rx="2.6" fill="#fff" stroke="#4d4d4d" stroke-width="0.7" /><circle cx="413.2" cy="1645.4" r="1.7" fill="none" stroke="#4d4d4d" stroke-width="0.9" /><text x="328.1" y="1674.6" font-size="4.8" fill="#444" text-anchor="middle" font-family='"Liberation Serif","Noto Serif CJK SC",serif' >备用电池（选配）</text><polyline points="341.7,1360 341.7,1387.2 385.8,1387.2" fill="none" stroke="#333" stroke-width="0.9"/><polyline points="353,1360 353,1384.8 385.8,1384.8" fill="none" stroke="#555" stroke-width="0.8"/><polyline points="364.4,1360 364.4,1382.4 385.8,1382.4" fill="none" stroke="#555" stroke-width="0.8"/><rect x="385.8" y="1381" width="78.2" height="7.9" rx="0.8" fill="#fdfdfd" stroke="#4d4d4d" stroke-width="0.8" /><path d="M463.7 1381 L472.9 1381 L472.9 1375.1 L479.3 1375.1 L479.3 1365.4 L510.5 1365.4 L510.5 1403.5 L479.3 1403.5 L479.3 1394.8 L472.9 1394.8 L472.9 1388.9 L463.7 1388.9 Z" fill="#fdfdfd" stroke="#4d4d4d" stroke-width="0.9" /><rect x="510.5" y="1370.4" width="20.2" height="6" rx="1" fill="#fdfdfd" stroke="#4d4d4d" stroke-width="0.8" /><rect x="510.5" y="1381.4" width="13.8" height="6" rx="1" fill="#fdfdfd" stroke="#4d4d4d" stroke-width="0.8" /><rect x="510.5" y="1392.9" width="20.2" height="5.9" rx="1" fill="#fdfdfd" stroke="#4d4d4d" stroke-width="0.8" /></g>
<!-- s4 -->
<g><g transform="translate(450.85 1239.85) scale(0.795 0.799)"><path d="M334.7 88.4 Q336 82.4 342 82.4 L409 82.4 Q415 82.4 416.1 88.4" fill="none" stroke="#222" stroke-width="0.9450000000000001" /><path d="M336.6 88.4 Q337.6 84 342.5 84 L408.5 84 Q413.3 84 414.3 88.4" fill="none" stroke="#222" stroke-width="0.735" /><path d="M289 164.5 L289 121 Q289 119 291 119 L301.5 119.9 L312.9 109.4 L312.9 164.5 Z" fill="#f9f9f9" stroke="#222" stroke-width="0.9450000000000001" /><path d="M461.1 164.5 L461.1 121 Q461.1 119 459.1 119 L448.6 119.9 L438.5 109.4 L438.5 164.5 Z" fill="#f9f9f9" stroke="#222" stroke-width="0.9450000000000001" /><line x1="292.8" y1="119.9" x2="292.8" y2="164.5" stroke="#222" stroke-width="0.735" /><line x1="457.3" y1="119.9" x2="457.3" y2="164.5" stroke="#222" stroke-width="0.735" /><line x1="292.8" y1="119.9" x2="312.9" y2="119.9" stroke="#222" stroke-width="0.735" /><line x1="438.5" y1="119.9" x2="457.3" y2="119.9" stroke="#222" stroke-width="0.735" /><line x1="303.5" y1="119.9" x2="312.9" y2="111.4" stroke="#222" stroke-width="0.735" /><line x1="446.6" y1="119.9" x2="438.5" y2="111.4" stroke="#222" stroke-width="0.735" /><line x1="289" y1="143.5" x2="312.9" y2="143.5" stroke="#222" stroke-width="0.735" /><line x1="438.5" y1="143.5" x2="461.1" y2="143.5" stroke="#222" stroke-width="0.735" /><rect x="312.9" y="88.4" width="125.6" height="74.4" fill="#fff" stroke="#222" stroke-width="0.9450000000000001" /><rect x="315.5" y="88.4" width="120" height="74.4" fill="#cbd9e6" /><line x1="315.5" y1="88.4" x2="315.5" y2="162.8" stroke="#222" stroke-width="0.735" /><line x1="435.5" y1="88.4" x2="435.5" y2="162.8" stroke="#222" stroke-width="0.735" /><circle cx="324.6" cy="102.9" r="7.6" fill="none" stroke="#222" stroke-width="1.05" /><line x1="317.39" y1="100.5" x2="331.81" y2="100.5" stroke="#222" stroke-width="0.8925" /><line x1="317" y1="103.1" x2="332.2" y2="103.1" stroke="#222" stroke-width="0.8925" /><line x1="317.53" y1="105.7" x2="331.67" y2="105.7" stroke="#222" stroke-width="0.8925" /><circle cx="344.7" cy="102.9" r="7.6" fill="none" stroke="#222" stroke-width="1.05" /><line x1="337.49" y1="100.5" x2="351.91" y2="100.5" stroke="#222" stroke-width="0.8925" /><line x1="337.1" y1="103.1" x2="352.3" y2="103.1" stroke="#222" stroke-width="0.8925" /><line x1="337.63" y1="105.7" x2="351.77" y2="105.7" stroke="#222" stroke-width="0.8925" /><circle cx="364.6" cy="102.9" r="7.6" fill="none" stroke="#222" stroke-width="1.05" /><line x1="357.39" y1="100.5" x2="371.81" y2="100.5" stroke="#222" stroke-width="0.8925" /><line x1="357" y1="103.1" x2="372.2" y2="103.1" stroke="#222" stroke-width="0.8925" /><line x1="357.53" y1="105.7" x2="371.67" y2="105.7" stroke="#222" stroke-width="0.8925" /><circle cx="384.7" cy="102.9" r="7.6" fill="none" stroke="#222" stroke-width="1.05" /><line x1="377.49" y1="100.5" x2="391.91" y2="100.5" stroke="#222" stroke-width="0.8925" /><line x1="377.1" y1="103.1" x2="392.3" y2="103.1" stroke="#222" stroke-width="0.8925" /><line x1="377.63" y1="105.7" x2="391.77" y2="105.7" stroke="#222" stroke-width="0.8925" /><circle cx="404.8" cy="102.9" r="7.6" fill="none" stroke="#222" stroke-width="1.05" /><line x1="397.59" y1="100.5" x2="412.01" y2="100.5" stroke="#222" stroke-width="0.8925" /><line x1="397.2" y1="103.1" x2="412.4" y2="103.1" stroke="#222" stroke-width="0.8925" /><line x1="397.73" y1="105.7" x2="411.87" y2="105.7" stroke="#222" stroke-width="0.8925" /><circle cx="424.9" cy="102.9" r="7.6" fill="none" stroke="#222" stroke-width="1.05" /><line x1="417.69" y1="100.5" x2="432.11" y2="100.5" stroke="#222" stroke-width="0.8925" /><line x1="417.3" y1="103.1" x2="432.5" y2="103.1" stroke="#222" stroke-width="0.8925" /><line x1="417.83" y1="105.7" x2="431.97" y2="105.7" stroke="#222" stroke-width="0.8925" /><line x1="315.5" y1="114.45" x2="435.5" y2="114.45" stroke="#222" stroke-width="1.5750000000000002" /><circle cx="324.6" cy="126" r="7.6" fill="none" stroke="#222" stroke-width="1.05" /><line x1="317.39" y1="123.6" x2="331.81" y2="123.6" stroke="#222" stroke-width="0.8925" /><line x1="317" y1="126.2" x2="332.2" y2="126.2" stroke="#222" stroke-width="0.8925" /><line x1="317.53" y1="128.8" x2="331.67" y2="128.8" stroke="#222" stroke-width="0.8925" /><circle cx="344.7" cy="126" r="7.6" fill="none" stroke="#222" stroke-width="1.05" /><line x1="337.49" y1="123.6" x2="351.91" y2="123.6" stroke="#222" stroke-width="0.8925" /><line x1="337.1" y1="126.2" x2="352.3" y2="126.2" stroke="#222" stroke-width="0.8925" /><line x1="337.63" y1="128.8" x2="351.77" y2="128.8" stroke="#222" stroke-width="0.8925" /><circle cx="364.6" cy="126" r="7.6" fill="none" stroke="#222" stroke-width="1.05" /><line x1="357.39" y1="123.6" x2="371.81" y2="123.6" stroke="#222" stroke-width="0.8925" /><line x1="357" y1="126.2" x2="372.2" y2="126.2" stroke="#222" stroke-width="0.8925" /><line x1="357.53" y1="128.8" x2="371.67" y2="128.8" stroke="#222" stroke-width="0.8925" /><circle cx="384.7" cy="126" r="7.6" fill="none" stroke="#222" stroke-width="1.05" /><line x1="377.49" y1="123.6" x2="391.91" y2="123.6" stroke="#222" stroke-width="0.8925" /><line x1="377.1" y1="126.2" x2="392.3" y2="126.2" stroke="#222" stroke-width="0.8925" /><line x1="377.63" y1="128.8" x2="391.77" y2="128.8" stroke="#222" stroke-width="0.8925" /><circle cx="404.8" cy="126" r="7.6" fill="none" stroke="#222" stroke-width="1.05" /><line x1="397.59" y1="123.6" x2="412.01" y2="123.6" stroke="#222" stroke-width="0.8925" /><line x1="397.2" y1="126.2" x2="412.4" y2="126.2" stroke="#222" stroke-width="0.8925" /><line x1="397.73" y1="128.8" x2="411.87" y2="128.8" stroke="#222" stroke-width="0.8925" /><circle cx="424.9" cy="126" r="7.6" fill="none" stroke="#222" stroke-width="1.05" /><line x1="417.69" y1="123.6" x2="432.11" y2="123.6" stroke="#222" stroke-width="0.8925" /><line x1="417.3" y1="126.2" x2="432.5" y2="126.2" stroke="#222" stroke-width="0.8925" /><line x1="417.83" y1="128.8" x2="431.97" y2="128.8" stroke="#222" stroke-width="0.8925" /><line x1="315.5" y1="137.55" x2="435.5" y2="137.55" stroke="#222" stroke-width="1.5750000000000002" /><circle cx="324.6" cy="149.1" r="7.6" fill="none" stroke="#222" stroke-width="1.05" /><line x1="317.39" y1="146.7" x2="331.81" y2="146.7" stroke="#222" stroke-width="0.8925" /><line x1="317" y1="149.3" x2="332.2" y2="149.3" stroke="#222" stroke-width="0.8925" /><line x1="317.53" y1="151.9" x2="331.67" y2="151.9" stroke="#222" stroke-width="0.8925" /><circle cx="344.7" cy="149.1" r="7.6" fill="none" stroke="#222" stroke-width="1.05" /><line x1="337.49" y1="146.7" x2="351.91" y2="146.7" stroke="#222" stroke-width="0.8925" /><line x1="337.1" y1="149.3" x2="352.3" y2="149.3" stroke="#222" stroke-width="0.8925" /><line x1="337.63" y1="151.9" x2="351.77" y2="151.9" stroke="#222" stroke-width="0.8925" /><circle cx="364.6" cy="149.1" r="7.6" fill="none" stroke="#222" stroke-width="1.05" /><line x1="357.39" y1="146.7" x2="371.81" y2="146.7" stroke="#222" stroke-width="0.8925" /><line x1="357" y1="149.3" x2="372.2" y2="149.3" stroke="#222" stroke-width="0.8925" /><line x1="357.53" y1="151.9" x2="371.67" y2="151.9" stroke="#222" stroke-width="0.8925" /><circle cx="384.7" cy="149.1" r="7.6" fill="none" stroke="#222" stroke-width="1.05" /><line x1="377.49" y1="146.7" x2="391.91" y2="146.7" stroke="#222" stroke-width="0.8925" /><line x1="377.1" y1="149.3" x2="392.3" y2="149.3" stroke="#222" stroke-width="0.8925" /><line x1="377.63" y1="151.9" x2="391.77" y2="151.9" stroke="#222" stroke-width="0.8925" /><circle cx="404.8" cy="149.1" r="7.6" fill="none" stroke="#222" stroke-width="1.05" /><line x1="397.59" y1="146.7" x2="412.01" y2="146.7" stroke="#222" stroke-width="0.8925" /><line x1="397.2" y1="149.3" x2="412.4" y2="149.3" stroke="#222" stroke-width="0.8925" /><line x1="397.73" y1="151.9" x2="411.87" y2="151.9" stroke="#222" stroke-width="0.8925" /><circle cx="424.9" cy="149.1" r="7.6" fill="none" stroke="#222" stroke-width="1.05" /><line x1="417.69" y1="146.7" x2="432.11" y2="146.7" stroke="#222" stroke-width="0.8925" /><line x1="417.3" y1="149.3" x2="432.5" y2="149.3" stroke="#222" stroke-width="0.8925" /><line x1="417.83" y1="151.9" x2="431.97" y2="151.9" stroke="#222" stroke-width="0.8925" /><rect x="289" y="164.5" width="172.1" height="344.5" fill="#f9f9f9" stroke="#222" stroke-width="0.9450000000000001" /><rect x="292.8" y="167.1" width="164.5" height="339.8" rx="7" fill="#f9f9f9" stroke="#222" stroke-width="0.9450000000000001" /><rect x="296.6" y="171.2" width="156.9" height="330.8" rx="5" fill="none" stroke="#222" stroke-width="0.735" /><text x="303" y="191.5" font-size="14.26" fill="#111" font-weight="bold" textLength="68" lengthAdjust="spacingAndGlyphs">intersense</text><text x="342.5" y="183.5" font-size="8.64" fill="#111" text-anchor="middle" font-weight="bold" >»</text><rect x="303.25" y="193.9" width="56.35" height="85.6" rx="3" fill="none" stroke="#222" stroke-width="0.9450000000000001" /><rect x="310.6" y="203" width="26.8" height="68.3" fill="none" stroke="#222" stroke-width="0.9450000000000001" /><circle cx="350" cy="206.9" r="5.7" fill="none" stroke="#222" stroke-width="0.9450000000000001" /><circle cx="350" cy="227" r="5.7" fill="none" stroke="#222" stroke-width="0.9450000000000001" /><circle cx="350" cy="247.6" r="5.7" fill="none" stroke="#222" stroke-width="0.9450000000000001" /><circle cx="350" cy="268.3" r="5.7" fill="none" stroke="#222" stroke-width="0.9450000000000001" /><rect x="393.4" y="193.9" width="56.3" height="85.6" rx="3" fill="none" stroke="#222" stroke-width="0.9450000000000001" /><rect x="415.3" y="203" width="26.6" height="68.3" fill="none" stroke="#222" stroke-width="0.9450000000000001" /><circle cx="402.5" cy="206.9" r="5.7" fill="none" stroke="#222" stroke-width="0.9450000000000001" /><circle cx="402.5" cy="227" r="5.7" fill="none" stroke="#222" stroke-width="0.9450000000000001" /><circle cx="402.5" cy="247.6" r="5.7" fill="none" stroke="#222" stroke-width="0.9450000000000001" /><circle cx="402.5" cy="268.3" r="5.7" fill="none" stroke="#222" stroke-width="0.9450000000000001" /><text x="377.3" y="209.92" font-size="8.21" fill="#222" text-anchor="middle" >报警 I</text><text x="377.3" y="230.02" font-size="8.21" fill="#222" text-anchor="middle" >报警 II</text><text x="377.3" y="250.62" font-size="8.21" fill="#222" text-anchor="middle" >故 障</text><text x="377.3" y="271.32" font-size="8.21" fill="#222" text-anchor="middle" >在 线</text><rect x="316.4" y="288.4" width="119.9" height="69" rx="3" fill="none" stroke="#222" stroke-width="0.9450000000000001" /><text x="376.6" y="374.8" font-size="9.07" fill="#222" text-anchor="middle" letter-spacing="0.2" >GP6000  可燃气体报警控制器</text><rect x="303.25" y="386.4" width="146.45" height="108.5" rx="3" fill="none" stroke="#222" stroke-width="0.9450000000000001" /><circle cx="322.2" cy="396.4" r="5.7" fill="none" stroke="#222" stroke-width="0.9450000000000001" /><text x="322.8" y="411.3" font-size="8.86" fill="#222" text-anchor="middle" >主电</text><circle cx="349.6" cy="396.4" r="5.7" fill="none" stroke="#222" stroke-width="0.9450000000000001" /><text x="350.2" y="411.3" font-size="8.86" fill="#222" text-anchor="middle" >备电</text><circle cx="376.75" cy="396.4" r="5.7" fill="none" stroke="#222" stroke-width="0.9450000000000001" /><text x="377.35" y="411.3" font-size="8.86" fill="#222" text-anchor="middle" >电源故障</text><circle cx="403.9" cy="396.4" r="5.7" fill="none" stroke="#222" stroke-width="0.9450000000000001" /><text x="404.5" y="411.3" font-size="8.86" fill="#222" text-anchor="middle" >测试</text><circle cx="429.6" cy="396.4" r="5.7" fill="none" stroke="#222" stroke-width="0.9450000000000001" /><text x="430.2" y="411.3" font-size="8.86" fill="#222" text-anchor="middle" >消音</text><circle cx="350" cy="426.7" r="8.1" fill="none" stroke="#222" stroke-width="0.9450000000000001" /><circle cx="323.4" cy="454.1" r="8.1" fill="none" stroke="#222" stroke-width="0.9450000000000001" /><circle cx="376.4" cy="454.1" r="8.1" fill="none" stroke="#222" stroke-width="0.9450000000000001" /><circle cx="350" cy="481.3" r="8.1" fill="none" stroke="#222" stroke-width="0.9450000000000001" /><polygon points="350,436.3 346,442.6 354,442.6" fill="#111" /><polygon points="350,471 346,464.6 354,464.6" fill="#111" /><polygon points="333,454.1 339.6,450 339.6,458.2" fill="#111" /><text x="361.8" y="458.2" font-size="11.34" fill="#111" text-anchor="middle" font-weight="bold" >√</text><rect x="406.5" y="425.3" width="28.9" height="16.6" rx="8.3" fill="none" stroke="#222" stroke-width="0.9450000000000001" /><rect x="406.5" y="466.4" width="28.9" height="16.1" rx="8.1" fill="none" stroke="#222" stroke-width="0.9450000000000001" /><text x="421" y="449.4" font-size="8.86" fill="#222" text-anchor="middle" >复位/退出</text><text x="421.7" y="465.2" font-size="8.86" fill="#222" text-anchor="middle" >消音</text><path d="M289.3 509 L289.3 555.8 L296 555.8 L313.2 571 L313.2 509 Z" fill="#f9f9f9" stroke="#222" stroke-width="0.9450000000000001" /><path d="M461.6 509 L461.6 555.8 L455 555.8 L437.8 571 L437.8 509 Z" fill="#f9f9f9" stroke="#222" stroke-width="0.9450000000000001" /><line x1="292.8" y1="511.4" x2="292.8" y2="555.8" stroke="#222" stroke-width="0.735" /><line x1="457.8" y1="511.4" x2="457.8" y2="555.8" stroke="#222" stroke-width="0.735" /><line x1="289.3" y1="511.4" x2="461.6" y2="511.4" stroke="#222" stroke-width="0.735" /><line x1="289.3" y1="531.5" x2="313.2" y2="531.5" stroke="#222" stroke-width="0.735" /><line x1="437.8" y1="531.5" x2="461.6" y2="531.5" stroke="#222" stroke-width="0.735" /><line x1="299" y1="555.8" x2="313.2" y2="568.6" stroke="#222" stroke-width="0.735" /><line x1="452" y1="555.8" x2="437.8" y2="568.6" stroke="#222" stroke-width="0.735" /><rect x="313.2" y="511.4" width="124.6" height="74.8" fill="#fff" stroke="#222" stroke-width="0.9450000000000001" /><rect x="315.8" y="511.4" width="119" height="74.8" fill="#cbd9e6" /><line x1="315.8" y1="511.4" x2="315.8" y2="586.2" stroke="#222" stroke-width="0.735" /><line x1="434.8" y1="511.4" x2="434.8" y2="586.2" stroke="#222" stroke-width="0.735" /><circle cx="324.4" cy="525.5" r="7.6" fill="none" stroke="#222" stroke-width="1.05" /><line x1="317.19" y1="523.1" x2="331.61" y2="523.1" stroke="#222" stroke-width="0.8925" /><line x1="316.8" y1="525.7" x2="332" y2="525.7" stroke="#222" stroke-width="0.8925" /><line x1="317.33" y1="528.3" x2="331.47" y2="528.3" stroke="#222" stroke-width="0.8925" /><circle cx="344.6" cy="525.5" r="7.6" fill="none" stroke="#222" stroke-width="1.05" /><line x1="337.39" y1="523.1" x2="351.81" y2="523.1" stroke="#222" stroke-width="0.8925" /><line x1="337" y1="525.7" x2="352.2" y2="525.7" stroke="#222" stroke-width="0.8925" /><line x1="337.53" y1="528.3" x2="351.67" y2="528.3" stroke="#222" stroke-width="0.8925" /><circle cx="364.5" cy="525.5" r="7.6" fill="none" stroke="#222" stroke-width="1.05" /><line x1="357.29" y1="523.1" x2="371.71" y2="523.1" stroke="#222" stroke-width="0.8925" /><line x1="356.9" y1="525.7" x2="372.1" y2="525.7" stroke="#222" stroke-width="0.8925" /><line x1="357.43" y1="528.3" x2="371.57" y2="528.3" stroke="#222" stroke-width="0.8925" /><circle cx="384.7" cy="525.5" r="7.6" fill="none" stroke="#222" stroke-width="1.05" /><line x1="377.49" y1="523.1" x2="391.91" y2="523.1" stroke="#222" stroke-width="0.8925" /><line x1="377.1" y1="525.7" x2="392.3" y2="525.7" stroke="#222" stroke-width="0.8925" /><line x1="377.63" y1="528.3" x2="391.77" y2="528.3" stroke="#222" stroke-width="0.8925" /><circle cx="404.6" cy="525.5" r="7.6" fill="none" stroke="#222" stroke-width="1.05" /><line x1="397.39" y1="523.1" x2="411.81" y2="523.1" stroke="#222" stroke-width="0.8925" /><line x1="397" y1="525.7" x2="412.2" y2="525.7" stroke="#222" stroke-width="0.8925" /><line x1="397.53" y1="528.3" x2="411.67" y2="528.3" stroke="#222" stroke-width="0.8925" /><circle cx="424.8" cy="525.5" r="7.6" fill="none" stroke="#222" stroke-width="1.05" /><line x1="417.59" y1="523.1" x2="432.01" y2="523.1" stroke="#222" stroke-width="0.8925" /><line x1="417.2" y1="525.7" x2="432.4" y2="525.7" stroke="#222" stroke-width="0.8925" /><line x1="417.73" y1="528.3" x2="431.87" y2="528.3" stroke="#222" stroke-width="0.8925" /><line x1="315.8" y1="537.2" x2="434.8" y2="537.2" stroke="#222" stroke-width="1.5750000000000002" /><circle cx="324.4" cy="548.9" r="7.6" fill="none" stroke="#222" stroke-width="1.05" /><line x1="317.19" y1="546.5" x2="331.61" y2="546.5" stroke="#222" stroke-width="0.8925" /><line x1="316.8" y1="549.1" x2="332" y2="549.1" stroke="#222" stroke-width="0.8925" /><line x1="317.33" y1="551.7" x2="331.47" y2="551.7" stroke="#222" stroke-width="0.8925" /><circle cx="344.6" cy="548.9" r="7.6" fill="none" stroke="#222" stroke-width="1.05" /><line x1="337.39" y1="546.5" x2="351.81" y2="546.5" stroke="#222" stroke-width="0.8925" /><line x1="337" y1="549.1" x2="352.2" y2="549.1" stroke="#222" stroke-width="0.8925" /><line x1="337.53" y1="551.7" x2="351.67" y2="551.7" stroke="#222" stroke-width="0.8925" /><circle cx="364.5" cy="548.9" r="7.6" fill="none" stroke="#222" stroke-width="1.05" /><line x1="357.29" y1="546.5" x2="371.71" y2="546.5" stroke="#222" stroke-width="0.8925" /><line x1="356.9" y1="549.1" x2="372.1" y2="549.1" stroke="#222" stroke-width="0.8925" /><line x1="357.43" y1="551.7" x2="371.57" y2="551.7" stroke="#222" stroke-width="0.8925" /><circle cx="384.7" cy="548.9" r="7.6" fill="none" stroke="#222" stroke-width="1.05" /><line x1="377.49" y1="546.5" x2="391.91" y2="546.5" stroke="#222" stroke-width="0.8925" /><line x1="377.1" y1="549.1" x2="392.3" y2="549.1" stroke="#222" stroke-width="0.8925" /><line x1="377.63" y1="551.7" x2="391.77" y2="551.7" stroke="#222" stroke-width="0.8925" /><circle cx="404.6" cy="548.9" r="7.6" fill="none" stroke="#222" stroke-width="1.05" /><line x1="397.39" y1="546.5" x2="411.81" y2="546.5" stroke="#222" stroke-width="0.8925" /><line x1="397" y1="549.1" x2="412.2" y2="549.1" stroke="#222" stroke-width="0.8925" /><line x1="397.53" y1="551.7" x2="411.67" y2="551.7" stroke="#222" stroke-width="0.8925" /><circle cx="424.8" cy="548.9" r="7.6" fill="none" stroke="#222" stroke-width="1.05" /><line x1="417.59" y1="546.5" x2="432.01" y2="546.5" stroke="#222" stroke-width="0.8925" /><line x1="417.2" y1="549.1" x2="432.4" y2="549.1" stroke="#222" stroke-width="0.8925" /><line x1="417.73" y1="551.7" x2="431.87" y2="551.7" stroke="#222" stroke-width="0.8925" /><line x1="315.8" y1="560.5" x2="434.8" y2="560.5" stroke="#222" stroke-width="1.5750000000000002" /><circle cx="324.4" cy="572.1" r="7.6" fill="none" stroke="#222" stroke-width="1.05" /><line x1="317.19" y1="569.7" x2="331.61" y2="569.7" stroke="#222" stroke-width="0.8925" /><line x1="316.8" y1="572.3" x2="332" y2="572.3" stroke="#222" stroke-width="0.8925" /><line x1="317.33" y1="574.9" x2="331.47" y2="574.9" stroke="#222" stroke-width="0.8925" /><circle cx="344.6" cy="572.1" r="7.6" fill="none" stroke="#222" stroke-width="1.05" /><line x1="337.39" y1="569.7" x2="351.81" y2="569.7" stroke="#222" stroke-width="0.8925" /><line x1="337" y1="572.3" x2="352.2" y2="572.3" stroke="#222" stroke-width="0.8925" /><line x1="337.53" y1="574.9" x2="351.67" y2="574.9" stroke="#222" stroke-width="0.8925" /><circle cx="364.5" cy="572.1" r="7.6" fill="none" stroke="#222" stroke-width="1.05" /><line x1="357.29" y1="569.7" x2="371.71" y2="569.7" stroke="#222" stroke-width="0.8925" /><line x1="356.9" y1="572.3" x2="372.1" y2="572.3" stroke="#222" stroke-width="0.8925" /><line x1="357.43" y1="574.9" x2="371.57" y2="574.9" stroke="#222" stroke-width="0.8925" /><circle cx="384.7" cy="572.1" r="7.6" fill="none" stroke="#222" stroke-width="1.05" /><line x1="377.49" y1="569.7" x2="391.91" y2="569.7" stroke="#222" stroke-width="0.8925" /><line x1="377.1" y1="572.3" x2="392.3" y2="572.3" stroke="#222" stroke-width="0.8925" /><line x1="377.63" y1="574.9" x2="391.77" y2="574.9" stroke="#222" stroke-width="0.8925" /><circle cx="404.6" cy="572.1" r="7.6" fill="none" stroke="#222" stroke-width="1.05" /><line x1="397.39" y1="569.7" x2="411.81" y2="569.7" stroke="#222" stroke-width="0.8925" /><line x1="397" y1="572.3" x2="412.2" y2="572.3" stroke="#222" stroke-width="0.8925" /><line x1="397.53" y1="574.9" x2="411.67" y2="574.9" stroke="#222" stroke-width="0.8925" /><circle cx="424.8" cy="572.1" r="7.6" fill="none" stroke="#222" stroke-width="1.05" /><line x1="417.59" y1="569.7" x2="432.01" y2="569.7" stroke="#222" stroke-width="0.8925" /><line x1="417.2" y1="572.3" x2="432.4" y2="572.3" stroke="#222" stroke-width="0.8925" /><line x1="417.73" y1="574.9" x2="431.87" y2="574.9" stroke="#222" stroke-width="0.8925" /><path d="M334.2 586.2 Q335.5 592.7 342 592.7 L409 592.7 Q415.5 592.7 416.7 586.2" fill="none" stroke="#222" stroke-width="0.9450000000000001" /><path d="M336.4 586.2 Q337.4 591 342.5 591 L408.5 591 Q413.5 591 414.5 586.2" fill="none" stroke="#222" stroke-width="0.735" /></g><text x="610.4" y="1327.1" font-size="12.7" fill="#4a4a4a" font-family='"Liberation Serif","Noto Serif CJK SC",serif' >第六排端子</text><text x="610.4" y="1346.6" font-size="12.7" fill="#4a4a4a" font-family='"Liberation Serif","Noto Serif CJK SC",serif' >第五排端子</text><text x="610.4" y="1366.1" font-size="12.7" fill="#4a4a4a" font-family='"Liberation Serif","Noto Serif CJK SC",serif' >第四排端子</text><text x="610.4" y="1662.8" font-size="12.7" fill="#4a4a4a" font-family='"Liberation Serif","Noto Serif CJK SC",serif' >第一排端子</text><text x="610.4" y="1682.3" font-size="12.7" fill="#4a4a4a" font-family='"Liberation Serif","Noto Serif CJK SC",serif' >第二排端子</text><text x="610.4" y="1702.2" font-size="12.7" fill="#4a4a4a" font-family='"Liberation Serif","Noto Serif CJK SC",serif' >第三排端子</text><line x1="824" y1="1360" x2="852" y2="1360" stroke="#111" stroke-width="1.2" /><polygon points="861.5,1360 851.5,1356 851.5,1364" fill="#111" /><line x1="824" y1="1655.1" x2="852" y2="1655.1" stroke="#111" stroke-width="1.2" /><polygon points="861.5,1655.1 851.5,1651.1 851.5,1659.1" fill="#111" /><rect x="868.75" y="1294.5" width="200" height="192.25" fill="#fff" /><rect x="919.5" y="1294.5" width="149.25" height="21" fill="#cbd9e6" /><line x1="868.75" y1="1315.5" x2="1068.75" y2="1315.5" stroke="#9a9a9a" stroke-width="0.8" /><line x1="868.75" y1="1337" x2="1068.75" y2="1337" stroke="#9a9a9a" stroke-width="0.8" /><line x1="919.5" y1="1294.5" x2="919.5" y2="1358.25" stroke="#8a8a8a" stroke-width="0.8" /><line x1="944.5" y1="1294.5" x2="944.5" y2="1337" stroke="#9a9a9a" stroke-width="0.8" /><line x1="970" y1="1294.5" x2="970" y2="1337" stroke="#9a9a9a" stroke-width="0.8" /><line x1="995.5" y1="1294.5" x2="995.5" y2="1337" stroke="#9a9a9a" stroke-width="0.8" /><line x1="1020.5" y1="1294.5" x2="1020.5" y2="1337" stroke="#9a9a9a" stroke-width="0.8" /><line x1="1045.5" y1="1294.5" x2="1045.5" y2="1337" stroke="#9a9a9a" stroke-width="0.8" /><line x1="970" y1="1337" x2="970" y2="1358.25" stroke="#8a8a8a" stroke-width="0.8" /><line x1="1020.5" y1="1337" x2="1020.5" y2="1358.25" stroke="#8a8a8a" stroke-width="0.8" /><text x="894.62" y="1308.8" font-size="11.2" fill="#262626" text-anchor="middle" >端子号</text><text x="894.62" y="1330.05" font-size="11.2" fill="#262626" text-anchor="middle" >端子代码</text><text x="894.62" y="1351.62" font-size="11.2" fill="#262626" text-anchor="middle" >功能说明</text><text x="932" y="1309" font-size="11.2" fill="#262626" text-anchor="middle" >36</text><text x="932" y="1330.85" font-size="10.8" fill="#262626" text-anchor="middle" textLength="22.5" lengthAdjust="spacingAndGlyphs">CAN-</text><text x="957.25" y="1309" font-size="11.2" fill="#262626" text-anchor="middle" >35</text><text x="957.25" y="1330.85" font-size="10.8" fill="#262626" text-anchor="middle" textLength="22.5" lengthAdjust="spacingAndGlyphs">CAN+</text><text x="982.75" y="1309" font-size="11.2" fill="#262626" text-anchor="middle" >34</text><text x="982.75" y="1330.85" font-size="10.8" fill="#262626" text-anchor="middle" textLength="13.5" lengthAdjust="spacingAndGlyphs">V-</text><text x="1008" y="1309" font-size="11.2" fill="#262626" text-anchor="middle" >33</text><text x="1008" y="1330.85" font-size="10.8" fill="#262626" text-anchor="middle" textLength="13.5" lengthAdjust="spacingAndGlyphs">V+</text><text x="1033" y="1309" font-size="11.2" fill="#262626" text-anchor="middle" >32</text><text x="1033" y="1330.85" font-size="10.8" fill="#262626" text-anchor="middle" textLength="18.5" lengthAdjust="spacingAndGlyphs">FNO</text><text x="1057.12" y="1309" font-size="11.2" fill="#262626" text-anchor="middle" >31</text><text x="1057.12" y="1330.85" font-size="10.8" fill="#262626" text-anchor="middle" textLength="12.5" lengthAdjust="spacingAndGlyphs">FC</text><text x="944.75" y="1351.83" font-size="11" fill="#262626" text-anchor="middle" >CAN</text><text x="995.25" y="1351.83" font-size="11" fill="#262626" text-anchor="middle" >供电24V</text><text x="1044.62" y="1351.83" font-size="11" fill="#262626" text-anchor="middle" >故障输出</text><rect x="919.5" y="1358.25" width="149.25" height="21.25" fill="#cbd9e6" /><line x1="868.75" y1="1379.5" x2="1068.75" y2="1379.5" stroke="#9a9a9a" stroke-width="0.8" /><line x1="868.75" y1="1401.25" x2="1068.75" y2="1401.25" stroke="#9a9a9a" stroke-width="0.8" /><line x1="919.5" y1="1358.25" x2="919.5" y2="1422" stroke="#8a8a8a" stroke-width="0.8" /><line x1="944.5" y1="1358.25" x2="944.5" y2="1401.25" stroke="#9a9a9a" stroke-width="0.8" /><line x1="970" y1="1358.25" x2="970" y2="1401.25" stroke="#9a9a9a" stroke-width="0.8" /><line x1="995.5" y1="1358.25" x2="995.5" y2="1401.25" stroke="#9a9a9a" stroke-width="0.8" /><line x1="1020.5" y1="1358.25" x2="1020.5" y2="1401.25" stroke="#9a9a9a" stroke-width="0.8" /><line x1="1045.5" y1="1358.25" x2="1045.5" y2="1401.25" stroke="#9a9a9a" stroke-width="0.8" /><line x1="995.5" y1="1401.25" x2="995.5" y2="1422" stroke="#8a8a8a" stroke-width="0.8" /><text x="894.62" y="1372.67" font-size="11.2" fill="#262626" text-anchor="middle" >端子号</text><text x="894.62" y="1394.17" font-size="11.2" fill="#262626" text-anchor="middle" >端子代码</text><text x="894.62" y="1415.62" font-size="11.2" fill="#262626" text-anchor="middle" >功能说明</text><text x="932" y="1372.88" font-size="11.2" fill="#262626" text-anchor="middle" >30</text><text x="932" y="1394.97" font-size="10.8" fill="#262626" text-anchor="middle" textLength="18.5" lengthAdjust="spacingAndGlyphs">NC2</text><text x="957.25" y="1372.88" font-size="11.2" fill="#262626" text-anchor="middle" >29</text><text x="957.25" y="1394.97" font-size="10.8" fill="#262626" text-anchor="middle" textLength="12.5" lengthAdjust="spacingAndGlyphs">C2</text><text x="982.75" y="1372.88" font-size="11.2" fill="#262626" text-anchor="middle" >28</text><text x="982.75" y="1394.97" font-size="10.8" fill="#262626" text-anchor="middle" textLength="18.5" lengthAdjust="spacingAndGlyphs">NO2</text><text x="1008" y="1372.88" font-size="11.2" fill="#262626" text-anchor="middle" >27</text><text x="1008" y="1394.97" font-size="10.8" fill="#262626" text-anchor="middle" textLength="18.5" lengthAdjust="spacingAndGlyphs">NC1</text><text x="1033" y="1372.88" font-size="11.2" fill="#262626" text-anchor="middle" >26</text><text x="1033" y="1394.97" font-size="10.8" fill="#262626" text-anchor="middle" textLength="12.5" lengthAdjust="spacingAndGlyphs">C1</text><text x="1057.12" y="1372.88" font-size="11.2" fill="#262626" text-anchor="middle" >25</text><text x="1057.12" y="1394.97" font-size="10.8" fill="#262626" text-anchor="middle" textLength="18.5" lengthAdjust="spacingAndGlyphs">NO1</text><text x="957.5" y="1415.83" font-size="11" fill="#262626" text-anchor="middle" >2路报警输出2</text><text x="1032.12" y="1415.83" font-size="11" fill="#262626" text-anchor="middle" >2路报警输出1</text><rect x="919.5" y="1422" width="149.25" height="22.25" fill="#cbd9e6" /><line x1="868.75" y1="1444.25" x2="1068.75" y2="1444.25" stroke="#9a9a9a" stroke-width="0.8" /><line x1="868.75" y1="1465.5" x2="1068.75" y2="1465.5" stroke="#9a9a9a" stroke-width="0.8" /><line x1="919.5" y1="1422" x2="919.5" y2="1486.75" stroke="#8a8a8a" stroke-width="0.8" /><line x1="944.5" y1="1422" x2="944.5" y2="1465.5" stroke="#9a9a9a" stroke-width="0.8" /><line x1="970" y1="1422" x2="970" y2="1465.5" stroke="#9a9a9a" stroke-width="0.8" /><line x1="995.5" y1="1422" x2="995.5" y2="1465.5" stroke="#9a9a9a" stroke-width="0.8" /><line x1="1020.5" y1="1422" x2="1020.5" y2="1465.5" stroke="#9a9a9a" stroke-width="0.8" /><line x1="1045.5" y1="1422" x2="1045.5" y2="1465.5" stroke="#9a9a9a" stroke-width="0.8" /><line x1="995.5" y1="1465.5" x2="995.5" y2="1486.75" stroke="#8a8a8a" stroke-width="0.8" /><text x="894.62" y="1436.92" font-size="11.2" fill="#262626" text-anchor="middle" >端子号</text><text x="894.62" y="1458.67" font-size="11.2" fill="#262626" text-anchor="middle" >端子代码</text><text x="894.62" y="1480.12" font-size="11.2" fill="#262626" text-anchor="middle" >功能说明</text><text x="932" y="1437.12" font-size="11.2" fill="#262626" text-anchor="middle" >24</text><text x="932" y="1459.47" font-size="10.8" fill="#262626" text-anchor="middle" textLength="18.5" lengthAdjust="spacingAndGlyphs">NC2</text><text x="957.25" y="1437.12" font-size="11.2" fill="#262626" text-anchor="middle" >23</text><text x="957.25" y="1459.47" font-size="10.8" fill="#262626" text-anchor="middle" textLength="12.5" lengthAdjust="spacingAndGlyphs">C2</text><text x="982.75" y="1437.12" font-size="11.2" fill="#262626" text-anchor="middle" >22</text><text x="982.75" y="1459.47" font-size="10.8" fill="#262626" text-anchor="middle" textLength="18.5" lengthAdjust="spacingAndGlyphs">NO2</text><text x="1008" y="1437.12" font-size="11.2" fill="#262626" text-anchor="middle" >21</text><text x="1008" y="1459.47" font-size="10.8" fill="#262626" text-anchor="middle" textLength="18.5" lengthAdjust="spacingAndGlyphs">NC1</text><text x="1033" y="1437.12" font-size="11.2" fill="#262626" text-anchor="middle" >20</text><text x="1033" y="1459.47" font-size="10.8" fill="#262626" text-anchor="middle" textLength="12.5" lengthAdjust="spacingAndGlyphs">C1</text><text x="1057.12" y="1437.12" font-size="11.2" fill="#262626" text-anchor="middle" >19</text><text x="1057.12" y="1459.47" font-size="10.8" fill="#262626" text-anchor="middle" textLength="18.5" lengthAdjust="spacingAndGlyphs">NO1</text><text x="957.5" y="1480.33" font-size="11" fill="#262626" text-anchor="middle" >1路报警输出2</text><text x="1032.12" y="1480.33" font-size="11" fill="#262626" text-anchor="middle" >1路报警输出1</text><rect x="868.75" y="1294.5" width="200" height="192.25" fill="none" stroke="#222" stroke-width="1.4" /><line x1="868.75" y1="1358.25" x2="1068.75" y2="1358.25" stroke="#222" stroke-width="1.5" /><line x1="868.75" y1="1422" x2="1068.75" y2="1422" stroke="#222" stroke-width="1.5" /><rect x="868.75" y="1530.5" width="200" height="191.5" fill="#fff" /><rect x="919.5" y="1530.5" width="149.25" height="21.25" fill="#cbd9e6" /><line x1="868.75" y1="1551.75" x2="1068.75" y2="1551.75" stroke="#9a9a9a" stroke-width="0.8" /><line x1="868.75" y1="1573" x2="1068.75" y2="1573" stroke="#9a9a9a" stroke-width="0.8" /><line x1="919.5" y1="1530.5" x2="919.5" y2="1594.25" stroke="#8a8a8a" stroke-width="0.8" /><line x1="942.5" y1="1530.5" x2="942.5" y2="1573" stroke="#9a9a9a" stroke-width="0.8" /><line x1="968" y1="1530.5" x2="968" y2="1573" stroke="#9a9a9a" stroke-width="0.8" /><line x1="993.75" y1="1530.5" x2="993.75" y2="1573" stroke="#9a9a9a" stroke-width="0.8" /><line x1="1018.75" y1="1530.5" x2="1018.75" y2="1573" stroke="#9a9a9a" stroke-width="0.8" /><line x1="1043.75" y1="1530.5" x2="1043.75" y2="1573" stroke="#9a9a9a" stroke-width="0.8" /><line x1="993.75" y1="1573" x2="993.75" y2="1594.25" stroke="#8a8a8a" stroke-width="0.8" /><line x1="1018.75" y1="1573" x2="1018.75" y2="1594.25" stroke="#8a8a8a" stroke-width="0.8" /><text x="894.62" y="1544.92" font-size="11.2" fill="#262626" text-anchor="middle" >端子号</text><text x="894.62" y="1566.17" font-size="11.2" fill="#262626" text-anchor="middle" >端子代码</text><text x="894.62" y="1587.62" font-size="11.2" fill="#262626" text-anchor="middle" >功能说明</text><text x="931" y="1545.12" font-size="11.2" fill="#262626" text-anchor="middle" >1</text><text x="931" y="1566.97" font-size="10.8" fill="#262626" text-anchor="middle" >+</text><text x="955.25" y="1545.12" font-size="11.2" fill="#262626" text-anchor="middle" >2</text><text x="955.25" y="1566.97" font-size="10.8" fill="#262626" text-anchor="middle" >S</text><text x="980.88" y="1545.12" font-size="11.2" fill="#262626" text-anchor="middle" >3</text><text x="980.88" y="1566.97" font-size="10.8" fill="#262626" text-anchor="middle" >−</text><text x="1006.25" y="1545.12" font-size="11.2" fill="#262626" text-anchor="middle" >4</text><text x="1006.25" y="1566.97" font-size="10.8" fill="#262626" text-anchor="middle" textLength="22.5" lengthAdjust="spacingAndGlyphs">KGND</text><text x="1031.25" y="1545.12" font-size="11.2" fill="#262626" text-anchor="middle" >5</text><text x="1031.25" y="1566.97" font-size="10.8" fill="#262626" text-anchor="middle" textLength="18.5" lengthAdjust="spacingAndGlyphs">OS+</text><text x="1056.25" y="1545.12" font-size="11.2" fill="#262626" text-anchor="middle" >6</text><text x="1056.25" y="1566.97" font-size="10.8" fill="#262626" text-anchor="middle" textLength="18.5" lengthAdjust="spacingAndGlyphs">OS-</text><text x="956.62" y="1587.83" font-size="11" fill="#262626" text-anchor="middle" >1路探测器</text><text x="1006.25" y="1587.83" font-size="11" fill="#262626" text-anchor="middle" >大地</text><text x="1043.75" y="1582.42" font-size="7.2" fill="#262626" text-anchor="middle" >1路电流</text><text x="1043.75" y="1591.03" font-size="7.2" fill="#262626" text-anchor="middle" >输出(隔离)</text><rect x="919.5" y="1594.25" width="149.25" height="21.5" fill="#cbd9e6" /><line x1="868.75" y1="1615.75" x2="1068.75" y2="1615.75" stroke="#9a9a9a" stroke-width="0.8" /><line x1="868.75" y1="1637" x2="1068.75" y2="1637" stroke="#9a9a9a" stroke-width="0.8" /><line x1="919.5" y1="1594.25" x2="919.5" y2="1658.25" stroke="#8a8a8a" stroke-width="0.8" /><line x1="942.5" y1="1594.25" x2="942.5" y2="1637" stroke="#9a9a9a" stroke-width="0.8" /><line x1="968" y1="1594.25" x2="968" y2="1637" stroke="#9a9a9a" stroke-width="0.8" /><line x1="993.75" y1="1594.25" x2="993.75" y2="1637" stroke="#9a9a9a" stroke-width="0.8" /><line x1="1018.75" y1="1594.25" x2="1018.75" y2="1637" stroke="#9a9a9a" stroke-width="0.8" /><line x1="1043.75" y1="1594.25" x2="1043.75" y2="1637" stroke="#9a9a9a" stroke-width="0.8" /><line x1="993.75" y1="1637" x2="993.75" y2="1658.25" stroke="#8a8a8a" stroke-width="0.8" /><line x1="1018.75" y1="1637" x2="1018.75" y2="1658.25" stroke="#8a8a8a" stroke-width="0.8" /><text x="894.62" y="1608.8" font-size="11.2" fill="#262626" text-anchor="middle" >端子号</text><text x="894.62" y="1630.17" font-size="11.2" fill="#262626" text-anchor="middle" >端子代码</text><text x="894.62" y="1651.62" font-size="11.2" fill="#262626" text-anchor="middle" >功能说明</text><text x="931" y="1609" font-size="11.2" fill="#262626" text-anchor="middle" >7</text><text x="931" y="1630.97" font-size="10.8" fill="#262626" text-anchor="middle" >+</text><text x="955.25" y="1609" font-size="11.2" fill="#262626" text-anchor="middle" >8</text><text x="955.25" y="1630.97" font-size="10.8" fill="#262626" text-anchor="middle" >S</text><text x="980.88" y="1609" font-size="11.2" fill="#262626" text-anchor="middle" >9</text><text x="980.88" y="1630.97" font-size="10.8" fill="#262626" text-anchor="middle" >−</text><text x="1006.25" y="1609" font-size="11.2" fill="#262626" text-anchor="middle" >10</text><text x="1006.25" y="1630.97" font-size="10.8" fill="#262626" text-anchor="middle" textLength="22.5" lengthAdjust="spacingAndGlyphs">KGND</text><text x="1031.25" y="1609" font-size="11.2" fill="#262626" text-anchor="middle" >11</text><text x="1031.25" y="1630.97" font-size="10.8" fill="#262626" text-anchor="middle" textLength="18.5" lengthAdjust="spacingAndGlyphs">OS+</text><text x="1056.25" y="1609" font-size="11.2" fill="#262626" text-anchor="middle" >12</text><text x="1056.25" y="1630.97" font-size="10.8" fill="#262626" text-anchor="middle" textLength="18.5" lengthAdjust="spacingAndGlyphs">OS-</text><text x="956.62" y="1651.83" font-size="11" fill="#262626" text-anchor="middle" >2路探测器</text><text x="1006.25" y="1651.83" font-size="11" fill="#262626" text-anchor="middle" >大地</text><text x="1043.75" y="1646.42" font-size="7.2" fill="#262626" text-anchor="middle" >2路电流</text><text x="1043.75" y="1655.03" font-size="7.2" fill="#262626" text-anchor="middle" >输出(隔离)</text><rect x="919.5" y="1658.25" width="149.25" height="21.75" fill="#cbd9e6" /><line x1="868.75" y1="1680" x2="1068.75" y2="1680" stroke="#9a9a9a" stroke-width="0.8" /><line x1="868.75" y1="1701.25" x2="1068.75" y2="1701.25" stroke="#9a9a9a" stroke-width="0.8" /><line x1="919.5" y1="1658.25" x2="919.5" y2="1722" stroke="#8a8a8a" stroke-width="0.8" /><line x1="942.5" y1="1658.25" x2="942.5" y2="1701.25" stroke="#9a9a9a" stroke-width="0.8" /><line x1="968" y1="1658.25" x2="968" y2="1701.25" stroke="#9a9a9a" stroke-width="0.8" /><line x1="993.75" y1="1658.25" x2="993.75" y2="1701.25" stroke="#9a9a9a" stroke-width="0.8" /><line x1="1018.75" y1="1658.25" x2="1018.75" y2="1701.25" stroke="#9a9a9a" stroke-width="0.8" /><line x1="1043.75" y1="1658.25" x2="1043.75" y2="1701.25" stroke="#9a9a9a" stroke-width="0.8" /><line x1="968" y1="1701.25" x2="968" y2="1722" stroke="#8a8a8a" stroke-width="0.8" /><line x1="1018.75" y1="1701.25" x2="1018.75" y2="1722" stroke="#8a8a8a" stroke-width="0.8" /><text x="894.62" y="1672.92" font-size="11.2" fill="#262626" text-anchor="middle" >端子号</text><text x="894.62" y="1694.42" font-size="11.2" fill="#262626" text-anchor="middle" >端子代码</text><text x="894.62" y="1715.62" font-size="11.2" fill="#262626" text-anchor="middle" >功能说明</text><text x="931" y="1673.12" font-size="11.2" fill="#262626" text-anchor="middle" >13</text><text x="931" y="1695.22" font-size="10.8" fill="#262626" text-anchor="middle" textLength="18.5" lengthAdjust="spacingAndGlyphs">RS+</text><text x="955.25" y="1673.12" font-size="11.2" fill="#262626" text-anchor="middle" >14</text><text x="955.25" y="1695.22" font-size="10.8" fill="#262626" text-anchor="middle" textLength="18.5" lengthAdjust="spacingAndGlyphs">RS-</text><text x="980.88" y="1673.12" font-size="11.2" fill="#262626" text-anchor="middle" >15</text><text x="980.88" y="1695.22" font-size="10.8" fill="#262626" text-anchor="middle" textLength="13.5" lengthAdjust="spacingAndGlyphs">V+</text><text x="1006.25" y="1673.12" font-size="11.2" fill="#262626" text-anchor="middle" >16</text><text x="1006.25" y="1695.22" font-size="10.8" fill="#262626" text-anchor="middle" textLength="13.5" lengthAdjust="spacingAndGlyphs">V-</text><text x="1031.25" y="1673.12" font-size="11.2" fill="#262626" text-anchor="middle" >17</text><text x="1031.25" y="1695.22" font-size="10.8" fill="#262626" text-anchor="middle" textLength="22.5" lengthAdjust="spacingAndGlyphs">CAN+</text><text x="1056.25" y="1673.12" font-size="11.2" fill="#262626" text-anchor="middle" >18</text><text x="1056.25" y="1695.22" font-size="10.8" fill="#262626" text-anchor="middle" textLength="22.5" lengthAdjust="spacingAndGlyphs">CAN-</text><text x="943.75" y="1715.83" font-size="11" fill="#262626" text-anchor="middle" >RS485</text><text x="993.38" y="1715.83" font-size="11" fill="#262626" text-anchor="middle" >供电24V</text><text x="1043.75" y="1715.83" font-size="11" fill="#262626" text-anchor="middle" >CAN</text><rect x="868.75" y="1530.5" width="200" height="191.5" fill="none" stroke="#222" stroke-width="1.4" /><line x1="868.75" y1="1594.25" x2="1068.75" y2="1594.25" stroke="#222" stroke-width="1.5" /><line x1="868.75" y1="1658.25" x2="1068.75" y2="1658.25" stroke="#222" stroke-width="1.5" /><text x="1078.75" y="1309.6" font-size="12.7" fill="#4a4a4a" font-family='"Liberation Serif","Noto Serif CJK SC",serif' >第六排端子</text><text x="1078.75" y="1374.6" font-size="12.7" fill="#4a4a4a" font-family='"Liberation Serif","Noto Serif CJK SC",serif' >第五排端子</text><text x="1078.75" y="1438.85" font-size="12.7" fill="#4a4a4a" font-family='"Liberation Serif","Noto Serif CJK SC",serif' >第四排端子</text><text x="1078.75" y="1545.35" font-size="12.7" fill="#4a4a4a" font-family='"Liberation Serif","Noto Serif CJK SC",serif' >第一排端子</text><text x="1078.75" y="1609.1" font-size="12.7" fill="#4a4a4a" font-family='"Liberation Serif","Noto Serif CJK SC",serif' >第二排端子</text><text x="1078.75" y="1672.1" font-size="12.7" fill="#4a4a4a" font-family='"Liberation Serif","Noto Serif CJK SC",serif' >第三排端子</text></g>
<!-- s5 -->
<g><defs>
<radialGradient id="holeg" cx="0.45" cy="0.45" r="0.6"><stop offset="0" stop-color="#f4f4f2"/><stop offset="0.7" stop-color="#dcdcd8"/><stop offset="1" stop-color="#c9c9c4"/></radialGradient>
<radialGradient id="ledg" cx="0.4" cy="0.35" r="0.7"><stop offset="0" stop-color="#f6f6f6"/><stop offset="0.75" stop-color="#dfe0e0"/><stop offset="1" stop-color="#c4c8ca"/></radialGradient>
<radialGradient id="btng" cx="0.4" cy="0.3" r="0.8"><stop offset="0" stop-color="#f3f2f1"/><stop offset="0.7" stop-color="#e2e1df"/><stop offset="1" stop-color="#c5c6c6"/></radialGradient>
<linearGradient id="tierw" x1="0" y1="0" x2="1" y2="0"><stop offset="0" stop-color="#c8d9d9"/><stop offset="1" stop-color="#afc0c5"/></linearGradient>
<linearGradient id="tieri" x1="0" y1="0" x2="1" y2="0"><stop offset="0" stop-color="#abbcba"/><stop offset="1" stop-color="#95a7ab"/></linearGradient>
<linearGradient id="backg1" x1="0" y1="0" x2="0" y2="1"><stop offset="0" stop-color="#c3d0d5"/><stop offset="1" stop-color="#bdcbd1"/></linearGradient>
<linearGradient id="shl" x1="0" y1="0" x2="1" y2="0"><stop offset="0" stop-color="#5f7078" stop-opacity="0.32"/><stop offset="1" stop-color="#5f7078" stop-opacity="0"/></linearGradient>
<linearGradient id="backg2" x1="0" y1="0" x2="0" y2="1"><stop offset="0" stop-color="#b1bfc5"/><stop offset="1" stop-color="#b8c6cc"/></linearGradient>
</defs><rect x="266.2" y="1937" width="185.5" height="35.4" fill="url(#tierw)" /><rect x="273" y="1939" width="171.8" height="33" fill="url(#tieri)" /><rect x="266.2" y="1937" width="185.5" height="2" fill="#dbe7e8" /><rect x="294.4" y="1904" width="131.6" height="32.6" fill="#58b074" /><circle cx="305" cy="1924.4" r="6.8" fill="#fbfbfb" stroke="#20382a" stroke-width="1.1" /><circle cx="323.6" cy="1924.4" r="6.8" fill="#f6f6f5" stroke="#20382a" stroke-width="1.1" /><circle cx="342" cy="1924.4" r="6.8" fill="#eeeeec" stroke="#20382a" stroke-width="1.1" /><circle cx="360.6" cy="1924.4" r="6.8" fill="#e6e6e4" stroke="#20382a" stroke-width="1.1" /><circle cx="379.4" cy="1924.4" r="6.8" fill="#dededc" stroke="#20382a" stroke-width="1.1" /><circle cx="397.6" cy="1924.4" r="6.8" fill="#d7d7d5" stroke="#20382a" stroke-width="1.1" /><circle cx="415.6" cy="1924.4" r="6.8" fill="#d0d0ce" stroke="#20382a" stroke-width="1.1" /><rect x="261.3" y="1972.6" width="191.4" height="36" fill="url(#tierw)" /><rect x="268.3" y="1975" width="177.3" height="33.4" fill="url(#tieri)" /><rect x="261.3" y="1972.2" width="191.4" height="2.4" fill="#e2eded" /><rect x="290.4" y="1941" width="136" height="32.6" fill="#58b074" /><circle cx="301.4" cy="1961.6" r="7.1" fill="#fbfbfb" stroke="#20382a" stroke-width="1.1" /><circle cx="320.4" cy="1961.6" r="7.1" fill="#f6f6f5" stroke="#20382a" stroke-width="1.1" /><circle cx="339.4" cy="1961.6" r="7.1" fill="#eeeeec" stroke="#20382a" stroke-width="1.1" /><circle cx="358.4" cy="1961.6" r="7.1" fill="#e6e6e4" stroke="#20382a" stroke-width="1.1" /><circle cx="377.6" cy="1961.6" r="7.1" fill="#dededc" stroke="#20382a" stroke-width="1.1" /><circle cx="396.4" cy="1961.6" r="7.1" fill="#d7d7d5" stroke="#20382a" stroke-width="1.1" /><circle cx="415.4" cy="1961.6" r="7.1" fill="#d0d0ce" stroke="#20382a" stroke-width="1.1" /><polygon points="256.3,2008.4 454.8,2008.4 454.8,2408 263,2408" fill="#dfe8ea" /><polygon points="256.3,2008.4 454.8,2008.4 454.8,2015 256.4,2015" fill="#ecf3f3" /><polygon points="256.3,2008.4 258.6,2008.4 265.2,2408 263,2408" fill="#eef4f5" /><rect x="452.4" y="2012" width="2.4" height="396" fill="#c4d1d6" /><rect x="286.4" y="1976.4" width="140.6" height="34.2" fill="#58b074" /><circle cx="297.6" cy="1998.4" r="7.4" fill="#fbfbfb" stroke="#20382a" stroke-width="1.1" /><circle cx="317.4" cy="1998.4" r="7.4" fill="#f6f6f5" stroke="#20382a" stroke-width="1.1" /><circle cx="337" cy="1998.4" r="7.4" fill="#eeeeec" stroke="#20382a" stroke-width="1.1" /><circle cx="356.6" cy="1998.4" r="7.4" fill="#e6e6e4" stroke="#20382a" stroke-width="1.1" /><circle cx="376" cy="1998.4" r="7.4" fill="#dededc" stroke="#20382a" stroke-width="1.1" /><circle cx="395.6" cy="1998.4" r="7.4" fill="#d7d7d5" stroke="#20382a" stroke-width="1.1" /><circle cx="415.4" cy="1998.4" r="7.4" fill="#d0d0ce" stroke="#20382a" stroke-width="1.1" /><rect x="268.3" y="2407" width="184.3" height="14.4" fill="#c9d6d8" /><rect x="274.5" y="2409" width="172" height="12.4" fill="#aebcbe" /><rect x="273.8" y="2421.2" width="177.9" height="16.8" fill="#cdd9db" /><rect x="279.5" y="2423" width="166.5" height="15" fill="#b7c4c6" /><rect x="292.2" y="2407.4" width="136" height="27" fill="#58b074" /><rect x="297.1" y="2434" width="131.1" height="15.4" fill="#55ad71" /><rect x="301.9" y="2449" width="126.3" height="16.8" fill="#58b074" /><line x1="297.1" y1="2434.3" x2="428.2" y2="2434.3" stroke="#419a5c" stroke-width="0.9" /><line x1="301.9" y1="2449.3" x2="428.2" y2="2449.3" stroke="#419a5c" stroke-width="0.9" /><circle cx="303.5" cy="2413.2" r="6.6" fill="#d9d6d3" stroke="#3e6a4e" stroke-width="0.8" /><path d="M297.9 2416.6 A6.6 6.6 0 0 0 309.1 2416.6" fill="none" stroke="#f4f4f2" stroke-width="1.2" /><circle cx="322.2" cy="2413.2" r="6.6" fill="#d9d6d3" stroke="#3e6a4e" stroke-width="0.8" /><path d="M316.6 2416.6 A6.6 6.6 0 0 0 327.8 2416.6" fill="none" stroke="#f4f4f2" stroke-width="1.2" /><circle cx="341.1" cy="2413.2" r="6.6" fill="#d9d6d3" stroke="#3e6a4e" stroke-width="0.8" /><path d="M335.5 2416.6 A6.6 6.6 0 0 0 346.7 2416.6" fill="none" stroke="#f4f4f2" stroke-width="1.2" /><circle cx="360" cy="2413.2" r="6.6" fill="#d9d6d3" stroke="#3e6a4e" stroke-width="0.8" /><path d="M354.4 2416.6 A6.6 6.6 0 0 0 365.6 2416.6" fill="none" stroke="#f4f4f2" stroke-width="1.2" /><circle cx="378.9" cy="2413.2" r="6.6" fill="#d9d6d3" stroke="#3e6a4e" stroke-width="0.8" /><path d="M373.3 2416.6 A6.6 6.6 0 0 0 384.5 2416.6" fill="none" stroke="#f4f4f2" stroke-width="1.2" /><circle cx="397.8" cy="2413.2" r="6.6" fill="#d9d6d3" stroke="#3e6a4e" stroke-width="0.8" /><path d="M392.2 2416.6 A6.6 6.6 0 0 0 403.4 2416.6" fill="none" stroke="#f4f4f2" stroke-width="1.2" /><circle cx="416.5" cy="2413.2" r="6.6" fill="#d9d6d3" stroke="#3e6a4e" stroke-width="0.8" /><path d="M410.9 2416.6 A6.6 6.6 0 0 0 422.1 2416.6" fill="none" stroke="#f4f4f2" stroke-width="1.2" /><path d="M303.7 2434.6 A4.6 2.4 0 0 0 312.9 2434.6 Z" fill="#cfd6cf" /><path d="M320.9 2434.6 A4.6 2.4 0 0 0 330.1 2434.6 Z" fill="#cfd6cf" /><path d="M338.5 2434.6 A4.6 2.4 0 0 0 347.7 2434.6 Z" fill="#cfd6cf" /><path d="M356.3 2434.6 A4.6 2.4 0 0 0 365.5 2434.6 Z" fill="#cfd6cf" /><path d="M373.7 2434.6 A4.6 2.4 0 0 0 382.9 2434.6 Z" fill="#cfd6cf" /><path d="M392.1 2434.6 A4.6 2.4 0 0 0 401.3 2434.6 Z" fill="#cfd6cf" /><path d="M411 2434.6 A4.6 2.4 0 0 0 420.2 2434.6 Z" fill="#cfd6cf" /><path d="M306 2449.6 A5.4 3.6 0 0 0 316.8 2449.6 Z" fill="#dcdfda" stroke="#2f5a3c" stroke-width="0.7" /><path d="M323.8 2449.6 A5.4 3.6 0 0 0 334.6 2449.6 Z" fill="#dcdfda" stroke="#2f5a3c" stroke-width="0.7" /><path d="M340.9 2449.6 A5.4 3.6 0 0 0 351.7 2449.6 Z" fill="#dcdfda" stroke="#2f5a3c" stroke-width="0.7" /><path d="M358.3 2449.6 A5.4 3.6 0 0 0 369.1 2449.6 Z" fill="#dcdfda" stroke="#2f5a3c" stroke-width="0.7" /><path d="M375.6 2449.6 A5.4 3.6 0 0 0 386.4 2449.6 Z" fill="#dcdfda" stroke="#2f5a3c" stroke-width="0.7" /><path d="M393.5 2449.6 A5.4 3.6 0 0 0 404.3 2449.6 Z" fill="#dcdfda" stroke="#2f5a3c" stroke-width="0.7" /><path d="M411.8 2449.6 A5.4 3.6 0 0 0 422.6 2449.6 Z" fill="#dcdfda" stroke="#2f5a3c" stroke-width="0.7" /><path d="M266 2015.6 L444.6 2015.6 Q450.6 2015.6 450.6 2021.6 L451 2398.4 Q451 2404.4 445 2404.4 L272 2404.4 Q266 2404.4 265.9 2398.4 L260 2021.6 Q260 2015.6 266 2015.6 Z" fill="#92a7b5" stroke="#55666f" stroke-width="1.0" /><rect x="273" y="2044" width="64.6" height="99" rx="4" fill="none" stroke="#4f6270" stroke-width="0.9" /><rect x="282" y="2054.4" width="30.4" height="79.2" fill="#fff" /><circle cx="327" cy="2058" r="6.3" fill="url(#ledg)" /><circle cx="327" cy="2081.6" r="6.3" fill="url(#ledg)" /><circle cx="327" cy="2105.6" r="6.3" fill="url(#ledg)" /><circle cx="327" cy="2130" r="6.3" fill="url(#ledg)" /><text x="299" y="2088" font-size="20" fill="#222" text-anchor="middle" >1</text><text x="298.3" y="2112.4" font-size="17.5" fill="#222" text-anchor="middle" >路</text><rect x="376" y="2044" width="64" height="99" rx="4" fill="none" stroke="#4f6270" stroke-width="0.9" /><rect x="400" y="2054.4" width="30.4" height="79.2" fill="#fff" /><circle cx="386" cy="2058" r="6.3" fill="url(#ledg)" /><circle cx="386" cy="2081.6" r="6.3" fill="url(#ledg)" /><circle cx="386" cy="2105.6" r="6.3" fill="url(#ledg)" /><circle cx="386" cy="2130" r="6.3" fill="url(#ledg)" /><text x="416.5" y="2088" font-size="20" fill="#222" text-anchor="middle" >2</text><text x="415.8" y="2112.4" font-size="17.5" fill="#222" text-anchor="middle" >路</text><text x="358" y="2061.7" font-size="10.2" fill="#2f3c46" text-anchor="middle" letter-spacing="0.6" >报警 I</text><text x="358" y="2085.3" font-size="10.2" fill="#2f3c46" text-anchor="middle" letter-spacing="0.6" >报警 II</text><text x="358" y="2109.3" font-size="10.2" fill="#2f3c46" text-anchor="middle" letter-spacing="0.6" >故 障</text><text x="358" y="2133.7" font-size="10.2" fill="#2f3c46" text-anchor="middle" letter-spacing="0.6" >在 线</text><rect x="291" y="2155" width="132" height="76" rx="4" fill="#1b1b1b" /><rect x="295" y="2158.4" width="19" height="15" fill="#fff" /><rect x="399" y="2158.4" width="20" height="15" fill="#fff" /><rect x="315" y="2159.4" width="83" height="13.2" fill="#2a2a2a" /><path d="M295 2173.4 L295 2227.4 L419 2227.4 L419 2173.4 M295 2174 L419 2174 M295 2212.4 L419 2212.4 M356.8 2174 L356.8 2227.4" fill="none" stroke="#e8e8e8" stroke-width="0.9" /><text x="303.6" y="2170" font-size="10.5" fill="#222" text-anchor="middle" textLength="5" lengthAdjust="spacingAndGlyphs">D</text><text x="409.5" y="2170" font-size="10.5" fill="#222" text-anchor="middle" textLength="4.6" lengthAdjust="spacingAndGlyphs">2</text><text x="376" y="2169.3" font-size="8.8" fill="#d8d8d8" text-anchor="middle" textLength="39" lengthAdjust="spacingAndGlyphs">11: 36: 00</text><text x="347" y="2197.5" font-size="26" fill="#fff" text-anchor="middle" font-weight="bold" >0</text><text x="410" y="2197.5" font-size="26" fill="#fff" text-anchor="middle" font-weight="bold" >0</text><text x="354" y="2209.6" font-size="8.6" fill="#f2f2f2" text-anchor="end" letter-spacing="0.5" >%LEL</text><text x="416.4" y="2209.6" font-size="8.6" fill="#f2f2f2" text-anchor="end" letter-spacing="0.5" >%LEL</text><text x="330" y="2223.6" font-size="9.6" fill="#f2f2f2" text-anchor="middle" >甲烷</text><text x="392" y="2223.6" font-size="9.6" fill="#f2f2f2" text-anchor="middle" >甲烷</text><text x="357.6" y="2253.4" font-size="9.3" fill="#33424d" text-anchor="middle" letter-spacing="0.5" >APEZ-D800  可燃气体报警控制器</text><rect x="276.5" y="2266.4" width="163.5" height="122" rx="4" fill="none" stroke="#4f6270" stroke-width="0.9" /><circle cx="298.6" cy="2277" r="5.9" fill="url(#ledg)" /><text x="299.2" y="2296.3" font-size="8.8" fill="#3a4852" text-anchor="middle" >主电</text><circle cx="328" cy="2277" r="5.9" fill="url(#ledg)" /><text x="328.6" y="2296.3" font-size="8.8" fill="#3a4852" text-anchor="middle" >备电</text><circle cx="357.4" cy="2277" r="5.9" fill="url(#ledg)" /><text x="358" y="2296.3" font-size="8.8" fill="#3a4852" text-anchor="middle" >电源故障</text><circle cx="387" cy="2277" r="5.9" fill="url(#ledg)" /><text x="387.6" y="2296.3" font-size="8.8" fill="#3a4852" text-anchor="middle" >测试</text><circle cx="416" cy="2277" r="5.9" fill="url(#ledg)" /><text x="416.6" y="2296.3" font-size="8.8" fill="#3a4852" text-anchor="middle" >消音</text><circle cx="329.6" cy="2313.6" r="9.2" fill="#6f8493" /><circle cx="329" cy="2312.6" r="9" fill="url(#btng)" /><circle cx="300.6" cy="2345" r="9.2" fill="#6f8493" /><circle cx="300" cy="2344" r="9" fill="url(#btng)" /><circle cx="359" cy="2344.6" r="9.2" fill="#6f8493" /><circle cx="358.4" cy="2343.6" r="9" fill="url(#btng)" /><circle cx="330" cy="2374.6" r="9.2" fill="#6f8493" /><circle cx="329.4" cy="2373.6" r="9" fill="url(#btng)" /><polygon points="329,2324 324.6,2330.4 333.4,2330.4" fill="#1a1a1a" /><polygon points="311,2343.6 317,2339.4 317,2347.8" fill="#1a1a1a" /><polygon points="329.4,2362 325,2355.6 333.8,2355.6" fill="#1a1a1a" /><text x="343" y="2348" font-size="13" fill="#1a1a1a" text-anchor="middle" font-weight="bold" >√</text><rect x="392.6" y="2312.6" width="31.2" height="17.6" rx="8.8" fill="#6f8493" /><rect x="392" y="2311.6" width="31" height="17.6" rx="8.7" fill="url(#btng)" /><rect x="392.6" y="2359" width="31.2" height="17.4" rx="8.8" fill="#6f8493" /><rect x="392" y="2358" width="31" height="17.4" rx="8.7" fill="url(#btng)" /><text x="405.8" y="2338.8" font-size="8.8" fill="#2e3a44" text-anchor="middle" >复位/退出</text><text x="407.6" y="2355.6" font-size="8.8" fill="#2e3a44" text-anchor="middle" >消音</text><text x="43" y="2021.4" font-size="12.55" fill="#333" >面膜</text><line x1="43.5" y1="2028.75" x2="263.25" y2="2028.75" stroke="#f98d22" stroke-width="1.2" /><circle cx="263.25" cy="2028.75" r="2.1" fill="#f98d22" /><text x="43" y="2054.9" font-size="12.55" fill="#333" >一级报警指示灯I（红色）</text><line x1="43.5" y1="2058" x2="320" y2="2058" stroke="#f98d22" stroke-width="1.2" /><circle cx="320" cy="2058" r="2.1" fill="#f98d22" /><text x="43" y="2077.4" font-size="12.55" fill="#333" >二级报警指示灯II（红色）</text><line x1="43.5" y1="2081.25" x2="320" y2="2081.25" stroke="#f98d22" stroke-width="1.2" /><circle cx="320" cy="2081.25" r="2.1" fill="#f98d22" /><text x="43" y="2103.15" font-size="12.55" fill="#333" >故障指示灯（黄色）</text><line x1="43.5" y1="2108.75" x2="318.75" y2="2108.75" stroke="#f98d22" stroke-width="1.2" /><circle cx="318.75" cy="2108.75" r="2.1" fill="#f98d22" /><text x="43" y="2124.9" font-size="12.55" fill="#333" >在线指示灯（绿色）</text><line x1="43.5" y1="2131.5" x2="319" y2="2131.5" stroke="#f98d22" stroke-width="1.2" /><circle cx="319" cy="2131.5" r="2.1" fill="#f98d22" /><text x="43" y="2159.9" font-size="12.55" fill="#333" >状态显示页标</text><line x1="43.5" y1="2165.5" x2="299.5" y2="2165.5" stroke="#f98d22" stroke-width="1.2" /><circle cx="299.5" cy="2165.5" r="2.1" fill="#f98d22" /><text x="43" y="2215.15" font-size="12.55" fill="#333" >气体种类显示</text><line x1="43.5" y1="2220" x2="317" y2="2220" stroke="#f98d22" stroke-width="1.2" /><circle cx="317" cy="2220" r="2.1" fill="#f98d22" /><text x="43" y="2239.4" font-size="12.55" fill="#333" >型号及名称</text><line x1="43.5" y1="2246.5" x2="287.5" y2="2246.5" stroke="#f98d22" stroke-width="1.2" /><circle cx="287.5" cy="2246.5" r="2.1" fill="#f98d22" /><text x="43" y="2264.4" font-size="12.55" fill="#333" >主电指示灯(绿色)</text><line x1="43.5" y1="2271.75" x2="293" y2="2271.75" stroke="#f98d22" stroke-width="1.2" /><circle cx="293" cy="2271.75" r="2.1" fill="#f98d22" /><text x="43" y="2290.65" font-size="12.55" fill="#333" >备电指示灯(绿色)</text><polyline points="43.5,2298 327,2298 327,2284.3" fill="none" stroke="#f98d22" stroke-width="1.2"/><circle cx="327" cy="2284.3" r="2.1" fill="#f98d22" /><text x="43" y="2310.65" font-size="12.55" fill="#333" >方向上键</text><line x1="43.5" y1="2316.25" x2="318.75" y2="2316.25" stroke="#f98d22" stroke-width="1.2" /><circle cx="318.75" cy="2316.25" r="2.1" fill="#f98d22" /><text x="43" y="2338.65" font-size="12.55" fill="#333" >方向左键</text><line x1="43.5" y1="2344" x2="289.25" y2="2344" stroke="#f98d22" stroke-width="1.2" /><circle cx="289.25" cy="2344" r="2.1" fill="#f98d22" /><text x="43" y="2372.4" font-size="12.55" fill="#333" >方向下键</text><line x1="43.5" y1="2378" x2="319.5" y2="2378" stroke="#f98d22" stroke-width="1.2" /><circle cx="319.5" cy="2378" r="2.1" fill="#f98d22" /><text x="695" y="1991.1" font-size="12.55" fill="#333" text-anchor="end" >接线端子</text><line x1="424.5" y1="1997.9" x2="697.9" y2="1997.9" stroke="#f98d22" stroke-width="1.2" /><circle cx="424.5" cy="1997.9" r="2.1" fill="#f98d22" /><text x="707.3" y="2049.7" font-size="12.55" fill="#333" text-anchor="end" >一级报警指示灯I（红色）</text><line x1="393.4" y1="2057.3" x2="697.9" y2="2057.3" stroke="#f98d22" stroke-width="1.2" /><circle cx="393.4" cy="2057.3" r="2.1" fill="#f98d22" /><text x="707.3" y="2070.5" font-size="12.55" fill="#333" text-anchor="end" >二级报警指示灯II（红色）</text><line x1="393.4" y1="2078.1" x2="697.9" y2="2078.1" stroke="#f98d22" stroke-width="1.2" /><circle cx="393.4" cy="2078.1" r="2.1" fill="#f98d22" /><text x="707.3" y="2096.4" font-size="12.55" fill="#333" text-anchor="end" >故障指示灯（黄色）</text><line x1="393.4" y1="2103.2" x2="697.9" y2="2103.2" stroke="#f98d22" stroke-width="1.2" /><circle cx="393.4" cy="2103.2" r="2.1" fill="#f98d22" /><text x="707.3" y="2121.7" font-size="12.55" fill="#333" text-anchor="end" >在线指示灯（绿色）</text><line x1="393.4" y1="2128" x2="697.9" y2="2128" stroke="#f98d22" stroke-width="1.2" /><circle cx="393.4" cy="2128" r="2.1" fill="#f98d22" /><text x="695" y="2143.6" font-size="12.55" fill="#333" text-anchor="end" >时间显示</text><polyline points="697.9,2146.9 377.5,2146.9 377.5,2159.7" fill="none" stroke="#f98d22" stroke-width="1.2"/><circle cx="377.5" cy="2159.7" r="2.1" fill="#f98d22" /><text x="695" y="2162.3" font-size="12.55" fill="#333" text-anchor="end" >模块地址</text><line x1="413.3" y1="2164.8" x2="697.9" y2="2164.8" stroke="#f98d22" stroke-width="1.2" /><circle cx="413.3" cy="2164.8" r="2.1" fill="#f98d22" /><text x="695" y="2183.6" font-size="12.55" fill="#333" text-anchor="end" >气体浓度显示</text><line x1="420" y1="2188.3" x2="697.9" y2="2188.3" stroke="#f98d22" stroke-width="1.2" /><circle cx="420" cy="2188.3" r="2.1" fill="#f98d22" /><text x="695" y="2204.4" font-size="12.55" fill="#333" text-anchor="end" >气体单位显示</text><line x1="420" y1="2209.3" x2="697.9" y2="2209.3" stroke="#f98d22" stroke-width="1.2" /><circle cx="420" cy="2209.3" r="2.1" fill="#f98d22" /><text x="698.3" y="2255.6" font-size="12.55" fill="#333" text-anchor="end" >故障指示灯(黄色)</text><polyline points="697.9,2259.4 357.8,2259.4 357.8,2269.2" fill="none" stroke="#f98d22" stroke-width="1.2"/><circle cx="357.8" cy="2269.2" r="2.1" fill="#f98d22" /><text x="698.3" y="2273.7" font-size="12.55" fill="#333" text-anchor="end" >消音指示灯(红色)</text><line x1="423.5" y1="2277.6" x2="697.9" y2="2277.6" stroke="#f98d22" stroke-width="1.2" /><circle cx="423.5" cy="2277.6" r="2.1" fill="#f98d22" /><text x="698.3" y="2296.9" font-size="12.55" fill="#333" text-anchor="end" >测试指示灯(绿色)</text><polyline points="697.9,2300.5 387.6,2300.5 387.6,2284" fill="none" stroke="#f98d22" stroke-width="1.2"/><circle cx="387.6" cy="2284" r="2.1" fill="#f98d22" /><text x="695.4" y="2315.1" font-size="12.55" fill="#333" text-anchor="end" >复位/退出按键</text><line x1="425.9" y1="2321.3" x2="697.9" y2="2321.3" stroke="#f98d22" stroke-width="1.2" /><circle cx="425.9" cy="2321.3" r="2.1" fill="#f98d22" /><text x="697.5" y="2338.3" font-size="12.55" fill="#333" text-anchor="end" >确定按键</text><line x1="368" y1="2343.2" x2="696" y2="2343.2" stroke="#f98d22" stroke-width="1.2" /><circle cx="368" cy="2343.2" r="2.1" fill="#f98d22" /><text x="695.4" y="2364.9" font-size="12.55" fill="#333" text-anchor="end" >消音按键</text><line x1="425.9" y1="2370.9" x2="695.5" y2="2370.9" stroke="#f98d22" stroke-width="1.2" /><circle cx="425.9" cy="2370.9" r="2.1" fill="#f98d22" /><rect x="872.5" y="1923.5" width="124.3" height="31.5" fill="#56aa70" /><polygon points="843.2,1954.5 1027,1954.5 1028,2447 851.4,2447" fill="#cad8de" /><polygon points="843.2,1954.5 845.2,1954.5 853.4,2447 851.4,2447" fill="#dfe9ed" /><rect x="1025.6" y="1954.5" width="2" height="492.5" fill="#d6e2e7" /><polygon points="851.87,1958.7 1019.8,1958.7 1019.8,2120.5 854.56,2120.5" fill="url(#backg1)" /><polygon points="851.87,1958.7 883.27,1958.7 885.96,2120.5 854.56,2120.5" fill="url(#shl)" /><rect x="852" y="2119.6" width="167.8" height="3" fill="#98a9af" /><rect x="852" y="2122.6" width="167.8" height="3.8" fill="#c3d1d6" /><polygon points="855.56,2126.4 1019.8,2126.4 1019.8,2300 858.45,2300" fill="url(#backg2)" /><polygon points="855.56,2126.4 886.06,2126.4 888.95,2300 858.45,2300" fill="url(#shl)" /><rect x="843.2" y="1954.5" width="183.8" height="4.2" fill="#e3edf0" /><rect x="852.11" y="1967" width="8.3" height="12.8" fill="#cfdce2" /><rect x="1011.5" y="1967" width="8.3" height="12.8" fill="#cfdce2" /><line x1="852.11" y1="1967.6" x2="860.41" y2="1967.6" stroke="#e6eff2" stroke-width="1.2" /><line x1="1011.5" y1="1967.6" x2="1019.8" y2="1967.6" stroke="#e6eff2" stroke-width="1.2" /><line x1="852.11" y1="1980.3" x2="860.41" y2="1980.3" stroke="#8fa0a6" stroke-width="1.2" /><line x1="1011.5" y1="1980.3" x2="1019.8" y2="1980.3" stroke="#9fb0b6" stroke-width="1.0" /><rect x="853.09" y="2025.6" width="9.2" height="12.8" fill="#cfdce2" /><rect x="1010.6" y="2025.6" width="9.2" height="12.8" fill="#cfdce2" /><line x1="853.09" y1="2026.2" x2="862.29" y2="2026.2" stroke="#e6eff2" stroke-width="1.2" /><line x1="1010.6" y1="2026.2" x2="1019.8" y2="2026.2" stroke="#e6eff2" stroke-width="1.2" /><line x1="853.09" y1="2038.9" x2="862.29" y2="2038.9" stroke="#8fa0a6" stroke-width="1.2" /><line x1="1010.6" y1="2038.9" x2="1019.8" y2="2038.9" stroke="#9fb0b6" stroke-width="1.0" /><rect x="854.45" y="2105.3" width="10" height="16.7" fill="#cfdce2" /><rect x="1009.8" y="2105.3" width="10" height="16.7" fill="#cfdce2" /><line x1="854.45" y1="2105.9" x2="864.45" y2="2105.9" stroke="#e6eff2" stroke-width="1.2" /><line x1="1009.8" y1="2105.9" x2="1019.8" y2="2105.9" stroke="#e6eff2" stroke-width="1.2" /><line x1="854.45" y1="2122.5" x2="864.45" y2="2122.5" stroke="#8fa0a6" stroke-width="1.2" /><line x1="1009.8" y1="2122.5" x2="1019.8" y2="2122.5" stroke="#9fb0b6" stroke-width="1.0" /><line x1="1020.2" y1="1958.7" x2="1020.2" y2="2300" stroke="#aebdc3" stroke-width="0.9" /><line x1="1022" y1="2135" x2="1022" y2="2447" stroke="#bccbd1" stroke-width="0.8" /><rect x="910.7" y="2037.1" width="11.5" height="9" fill="#0a0a0a" /><rect x="950.6" y="2037.1" width="11" height="9" fill="#0a0a0a" /><rect x="862" y="2284" width="157" height="163" fill="#c6d4da" /><rect x="856.99" y="2295" width="11" height="15" fill="#cad8de" /><rect x="1009" y="2295" width="11" height="15" fill="#cad8de" /><line x1="856.99" y1="2295.5" x2="867.99" y2="2295.5" stroke="#dfe9ed" stroke-width="1" /><line x1="1009" y1="2295.5" x2="1020" y2="2295.5" stroke="#dfe9ed" stroke-width="1" /><rect x="858.1" y="2363.6" width="11" height="10.8" fill="#cad8de" /><rect x="1009" y="2363.6" width="11" height="10.8" fill="#cad8de" /><line x1="858.1" y1="2364.1" x2="869.1" y2="2364.1" stroke="#dfe9ed" stroke-width="1" /><line x1="1009" y1="2364.1" x2="1020" y2="2364.1" stroke="#dfe9ed" stroke-width="1" /><rect x="859.27" y="2432" width="11" height="14" fill="#cad8de" /><rect x="1009" y="2432" width="11" height="14" fill="#cad8de" /><line x1="859.27" y1="2432.5" x2="870.27" y2="2432.5" stroke="#dfe9ed" stroke-width="1" /><line x1="1009" y1="2432.5" x2="1020" y2="2432.5" stroke="#dfe9ed" stroke-width="1" /><rect x="860" y="2312" width="8.6" height="120" fill="#dde3e5" /><rect x="1011.6" y="2312" width="8" height="120" fill="#dde3e5" /><rect x="869.4" y="2275" width="5.6" height="178" fill="#ffffff" fill-opacity="0.85"/><rect x="1005" y="2275" width="5.6" height="178" fill="#ffffff" fill-opacity="0.85"/><rect x="895.7" y="2284" width="87" height="28" fill="#d0dce1" /><rect x="895.7" y="2284" width="87" height="7.5" fill="#e4ecef" /><rect x="858.5" y="2270" width="35.9" height="48" fill="#e6ecee" fill-opacity="0.8"/><rect x="858.5" y="2263.4" width="35.9" height="7.4" rx="1" fill="#f1f5f6" stroke="#8b969a" stroke-width="0.6" /><rect x="888.5" y="2265.5" width="7.2" height="52.5" fill="#eef2f4" stroke="#8b969a" stroke-width="0.6" /><rect x="861.5" y="2264.8" width="4.5" height="1.8" fill="#6d767a" /><rect x="886.9" y="2264.8" width="4.5" height="1.8" fill="#6d767a" /><rect x="983" y="2270" width="35.6" height="48" fill="#e6ecee" fill-opacity="0.8"/><rect x="983" y="2263.4" width="35.6" height="7.4" rx="1" fill="#f1f5f6" stroke="#8b969a" stroke-width="0.6" /><rect x="982.7" y="2265.5" width="7.2" height="52.5" fill="#eef2f4" stroke="#8b969a" stroke-width="0.6" /><rect x="986" y="2264.8" width="4.5" height="1.8" fill="#6d767a" /><rect x="1011.1" y="2264.8" width="4.5" height="1.8" fill="#6d767a" /><rect x="889" y="2311.8" width="100.4" height="6.2" fill="#e9eef0" stroke="#6f7a7e" stroke-width="0.6" /><line x1="902" y1="2314.9" x2="976" y2="2314.9" stroke="#9aa5a9" stroke-width="0.8" /><rect x="875" y="2317.4" width="130" height="3.6" fill="#ffffff" fill-opacity="0.85"/><polygon points="908.8,2321 969.4,2321 1005,2343.5 1005,2349.5 967.8,2326.5 910.4,2326.5 875,2349.5 875,2343.5" fill="#ffffff" fill-opacity="0.85"/><polygon points="875,2330 896,2318 903,2318 875,2336" fill="#ffffff" fill-opacity="0.7"/><polygon points="1005,2330 984,2318 977,2318 1005,2336" fill="#ffffff" fill-opacity="0.7"/><path d="M875 2372 L884 2361 L890 2367 L897 2360 L903 2367 L910 2361 L915 2368" fill="none" stroke="#fff" stroke-width="3.4" stroke-linejoin="round" stroke-linecap="round"/><path d="M875 2372 L884 2361 L890 2367 L897 2360 L903 2367 L910 2361 L915 2368" fill="none" stroke="#c7d0d3" stroke-width="0.7" stroke-linejoin="round" transform="translate(0 2)"/><path d="M1005 2372 L996 2361 L990 2367 L983 2360 L977 2367 L970 2361 L965 2368" fill="none" stroke="#fff" stroke-width="3.4" stroke-linejoin="round" stroke-linecap="round"/><path d="M1005 2372 L996 2361 L990 2367 L983 2360 L977 2367 L970 2361 L965 2368" fill="none" stroke="#c7d0d3" stroke-width="0.7" stroke-linejoin="round" transform="translate(0 2)"/><rect x="915" y="2363.5" width="11" height="8" fill="#8a8f90" stroke="#555" stroke-width="0.6" /><rect x="957.5" y="2363.5" width="9" height="8" fill="#8a8f90" stroke="#555" stroke-width="0.6" /><rect x="917.5" y="2365" width="3.5" height="5" fill="#2a2a2a" /><rect x="960" y="2365" width="3.5" height="5" fill="#2a2a2a" /><rect x="875" y="2376.8" width="47" height="5.8" fill="#ffffff" fill-opacity="0.85"/><rect x="958" y="2376.8" width="47" height="5.8" fill="#ffffff" fill-opacity="0.85"/><circle cx="921.5" cy="2380.5" r="3.4" fill="#fff" /><circle cx="959.5" cy="2380.5" r="3.4" fill="#fff" /><rect x="875" y="2392.4" width="130" height="4.8" fill="#ffffff" fill-opacity="0.85"/><rect x="875" y="2407" width="130" height="7.6" fill="#ffffff" fill-opacity="0.95"/><rect x="877" y="2435.4" width="126" height="5" fill="#ffffff" fill-opacity="0.85"/><line x1="877" y1="2436.4" x2="1003" y2="2436.4" stroke="#a9b3b5" stroke-width="0.8" /><polygon points="862,2447 1018,2447 1000,2470 997,2480 884,2480 880,2470" fill="#fdfefe" /><rect x="880" y="2450.5" width="121" height="3.1" fill="#8fcf9f" /><path d="M862 2448 L885 2478 L997 2478 L1018 2452" fill="none" stroke="#b8d9c0" stroke-width="0.8" /><path d="M870 2449 L889 2471 L993 2471 L1011 2449" fill="none" stroke="#d5dcde" stroke-width="0.8" /><path d="M877 2460 L1003 2460 M886 2466 L994 2466" fill="none" stroke="#cfd7d9" stroke-width="0.8" /><text x="1170.5" y="2034.8" font-size="12.5" fill="#333" text-anchor="end" >固定支架孔位</text><line x1="964.4" y1="2041" x2="1170.3" y2="2041" stroke="#f98d22" stroke-width="1.2" /><circle cx="964.4" cy="2041" r="2.2" fill="#f98d22" /><text x="1161.8" y="2183.6" font-size="12.5" fill="#333" text-anchor="end" >主机壳体</text><line x1="1025.8" y1="2189.7" x2="1170.3" y2="2189.7" stroke="#f98d22" stroke-width="1.2" /><circle cx="1025.8" cy="2189.7" r="2.2" fill="#f98d22" /><text x="1170.5" y="2469" font-size="12.5" fill="#333" text-anchor="end" >固定安装支架</text><line x1="1008.7" y1="2475" x2="1170.3" y2="2475" stroke="#f98d22" stroke-width="1.2" /><circle cx="1008.7" cy="2475" r="2.2" fill="#f98d22" /></g>
</svg>
</body></html>
